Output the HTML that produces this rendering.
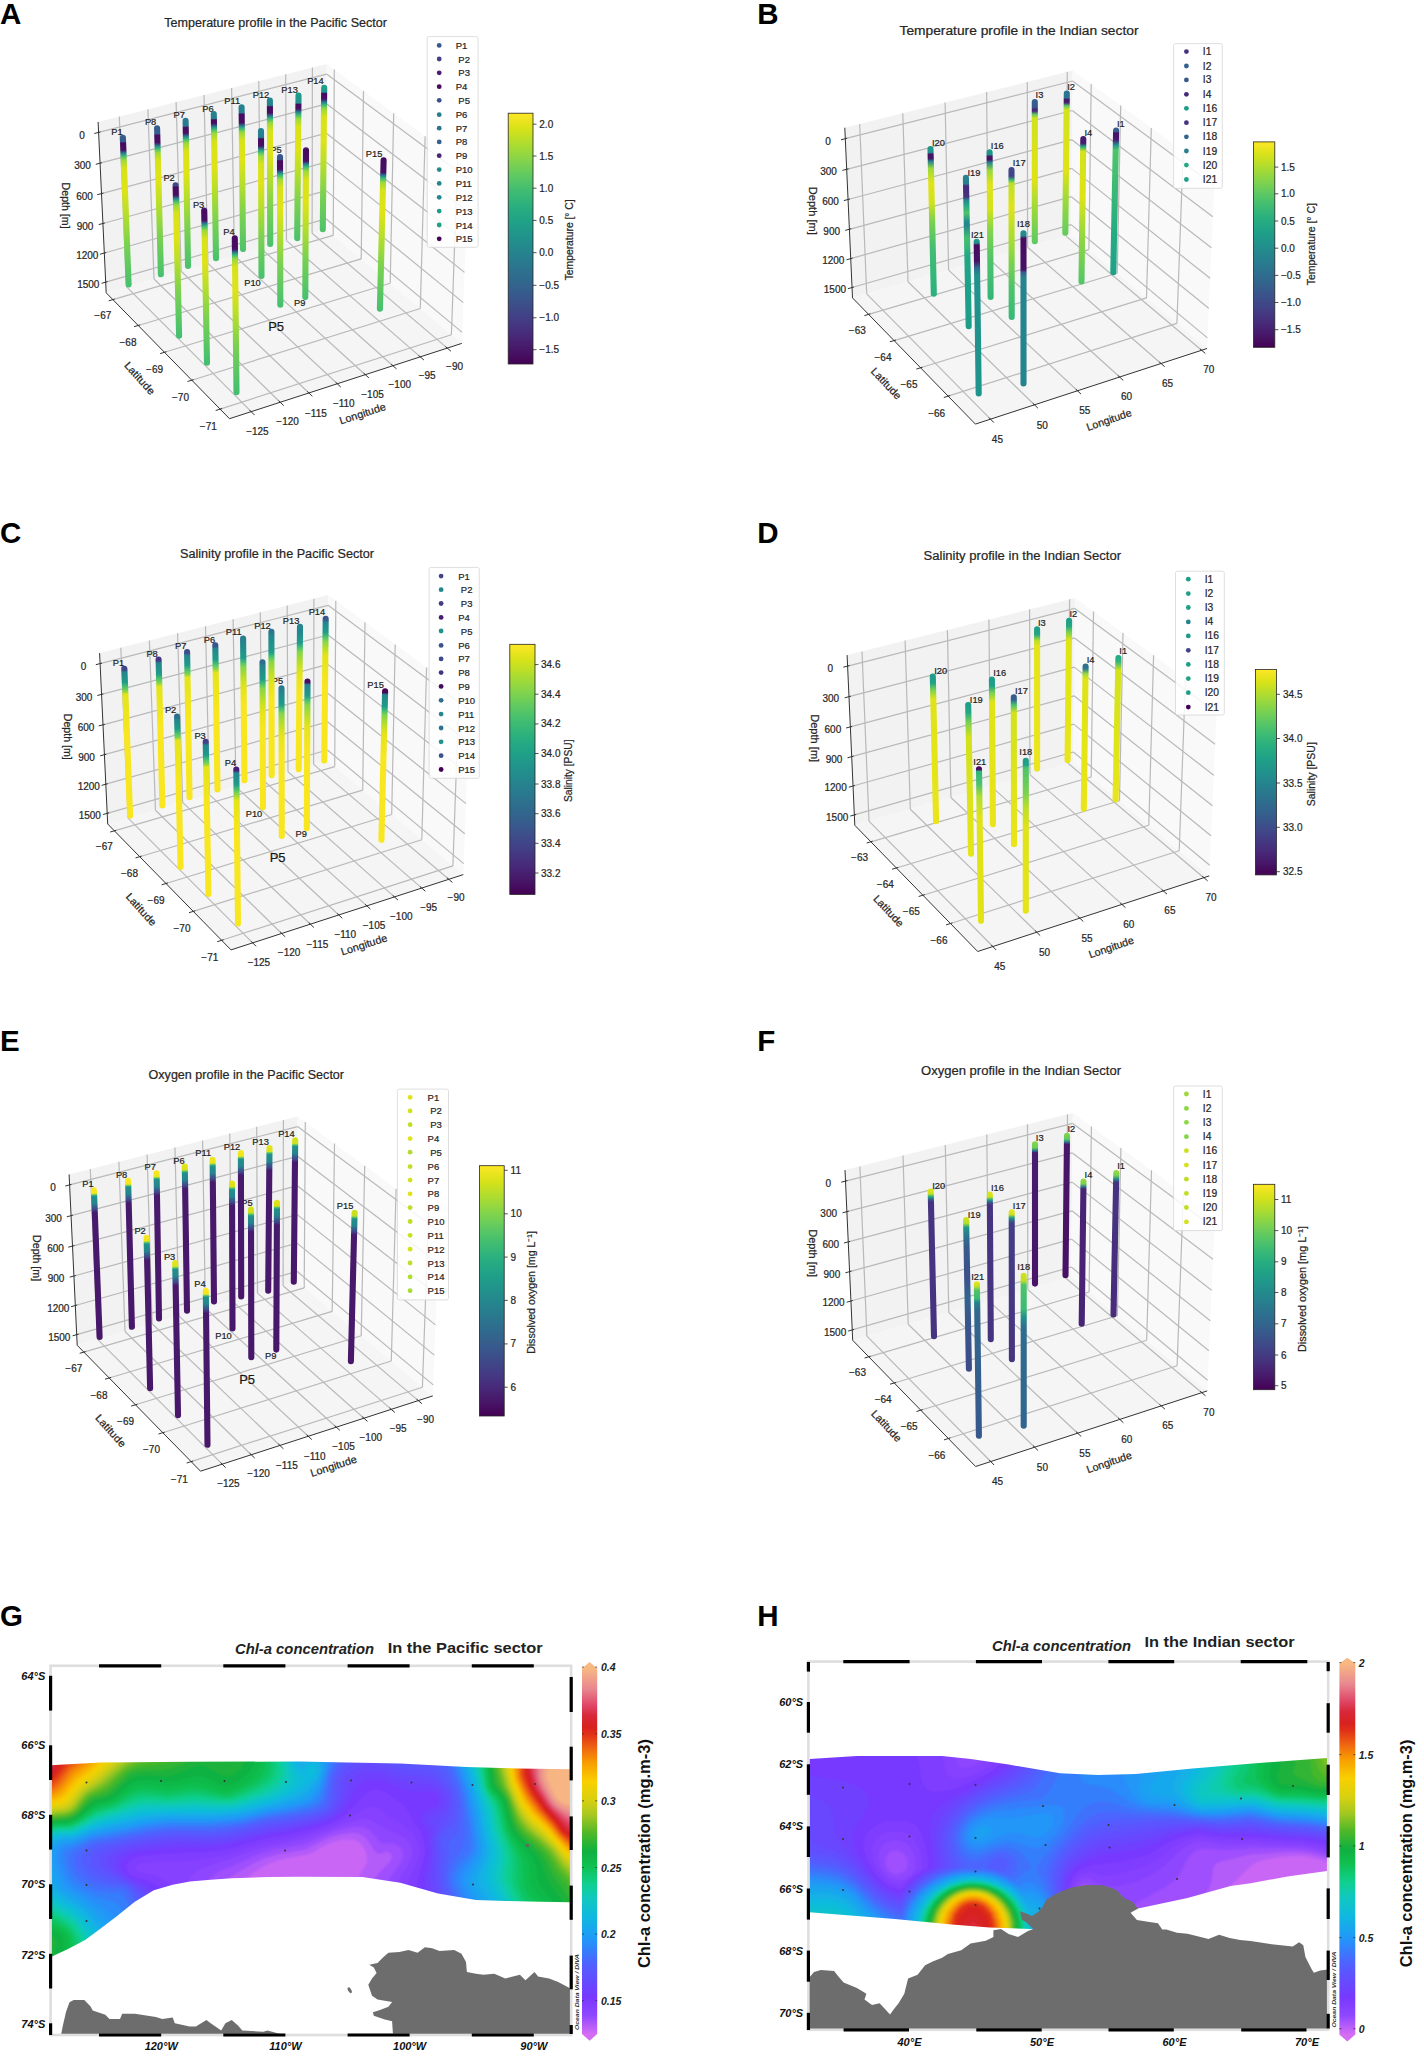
<!DOCTYPE html>
<html><head><meta charset="utf-8"><style>
html,body{margin:0;padding:0;background:#fff;}
svg{display:block;}
svg text{font-family:"Liberation Sans", sans-serif;}
svg g.t3 text{stroke:#262626;stroke-width:0.22px;}
</style></head><body>
<svg width="1424" height="2064" viewBox="0 0 1424 2064">
<rect width="1424" height="2064" fill="#fff"/>
<g id="A" class="t3">
<polygon points="106.2,292.8 325.9,229.2 326.7,63.9 98.1,121.9" fill="#f2f2f2" />
<polygon points="461.8,343.4 325.9,229.2 326.7,63.9 468.5,168.3" fill="#f9f9f9" />
<polygon points="229.5,418.7 461.8,343.4 325.9,229.2 106.2,292.8" fill="#f5f5f5" />
<g stroke-linecap="butt"><line x1="126.6" y1="286.9" x2="119.3" y2="116.5" stroke="#b9b9b9" stroke-width="1.2" /><line x1="251.2" y1="411.7" x2="126.6" y2="286.9" stroke="#b9b9b9" stroke-width="1.2" /><line x1="154.0" y1="279.0" x2="147.9" y2="109.2" stroke="#b9b9b9" stroke-width="1.2" /><line x1="280.2" y1="402.3" x2="154.0" y2="279.0" stroke="#b9b9b9" stroke-width="1.2" /><line x1="181.1" y1="271.2" x2="176.1" y2="102.1" stroke="#b9b9b9" stroke-width="1.2" /><line x1="308.9" y1="393.0" x2="181.1" y2="271.2" stroke="#b9b9b9" stroke-width="1.2" /><line x1="207.9" y1="263.4" x2="204.0" y2="95.0" stroke="#b9b9b9" stroke-width="1.2" /><line x1="337.3" y1="383.8" x2="207.9" y2="263.4" stroke="#b9b9b9" stroke-width="1.2" /><line x1="234.4" y1="255.7" x2="231.6" y2="88.0" stroke="#b9b9b9" stroke-width="1.2" /><line x1="365.3" y1="374.7" x2="234.4" y2="255.7" stroke="#b9b9b9" stroke-width="1.2" /><line x1="260.6" y1="248.1" x2="258.8" y2="81.1" stroke="#b9b9b9" stroke-width="1.2" /><line x1="392.9" y1="365.7" x2="260.6" y2="248.1" stroke="#b9b9b9" stroke-width="1.2" /><line x1="286.5" y1="240.6" x2="285.7" y2="74.3" stroke="#b9b9b9" stroke-width="1.2" /><line x1="420.3" y1="356.9" x2="286.5" y2="240.6" stroke="#b9b9b9" stroke-width="1.2" /><line x1="312.1" y1="233.2" x2="312.4" y2="67.5" stroke="#b9b9b9" stroke-width="1.2" /><line x1="447.3" y1="348.1" x2="312.1" y2="233.2" stroke="#b9b9b9" stroke-width="1.2" /><line x1="333.2" y1="235.4" x2="334.3" y2="69.5" stroke="#b9b9b9" stroke-width="1.2" /><line x1="112.8" y1="299.6" x2="333.2" y2="235.4" stroke="#b9b9b9" stroke-width="1.2" /><line x1="361.2" y1="258.9" x2="363.5" y2="91.0" stroke="#b9b9b9" stroke-width="1.2" /><line x1="138.2" y1="325.5" x2="361.2" y2="258.9" stroke="#b9b9b9" stroke-width="1.2" /><line x1="390.2" y1="283.3" x2="393.7" y2="113.2" stroke="#b9b9b9" stroke-width="1.2" /><line x1="164.5" y1="352.3" x2="390.2" y2="283.3" stroke="#b9b9b9" stroke-width="1.2" /><line x1="420.3" y1="308.5" x2="425.1" y2="136.3" stroke="#b9b9b9" stroke-width="1.2" /><line x1="191.8" y1="380.2" x2="420.3" y2="308.5" stroke="#b9b9b9" stroke-width="1.2" /><line x1="451.4" y1="334.7" x2="457.6" y2="160.3" stroke="#b9b9b9" stroke-width="1.2" /><line x1="220.1" y1="409.1" x2="451.4" y2="334.7" stroke="#b9b9b9" stroke-width="1.2" /><line x1="98.6" y1="132.4" x2="326.6" y2="74.1" stroke="#b9b9b9" stroke-width="1.2" /><line x1="468.0" y1="179.1" x2="326.6" y2="74.1" stroke="#b9b9b9" stroke-width="1.2" /><line x1="100.0" y1="163.2" x2="326.5" y2="103.8" stroke="#b9b9b9" stroke-width="1.2" /><line x1="466.8" y1="210.7" x2="326.5" y2="103.8" stroke="#b9b9b9" stroke-width="1.2" /><line x1="101.5" y1="193.6" x2="326.3" y2="133.2" stroke="#b9b9b9" stroke-width="1.2" /><line x1="465.6" y1="241.8" x2="326.3" y2="133.2" stroke="#b9b9b9" stroke-width="1.2" /><line x1="102.9" y1="223.5" x2="326.2" y2="162.1" stroke="#b9b9b9" stroke-width="1.2" /><line x1="464.5" y1="272.4" x2="326.2" y2="162.1" stroke="#b9b9b9" stroke-width="1.2" /><line x1="104.3" y1="253.0" x2="326.0" y2="190.6" stroke="#b9b9b9" stroke-width="1.2" /><line x1="463.3" y1="302.6" x2="326.0" y2="190.6" stroke="#b9b9b9" stroke-width="1.2" /><line x1="105.7" y1="282.1" x2="325.9" y2="218.8" stroke="#b9b9b9" stroke-width="1.2" /><line x1="462.2" y1="332.4" x2="325.9" y2="218.8" stroke="#b9b9b9" stroke-width="1.2" /></g>
<line x1="106.2" y1="292.8" x2="98.1" y2="121.9" stroke="#333333" stroke-width="1.0" /><line x1="229.5" y1="418.7" x2="106.2" y2="292.8" stroke="#333333" stroke-width="1.0" /><line x1="229.5" y1="418.7" x2="461.8" y2="343.4" stroke="#333333" stroke-width="1.0" /><line x1="94.3" y1="133.5" x2="100.5" y2="131.9" stroke="#333333" stroke-width="1.0" /><line x1="95.8" y1="164.3" x2="101.9" y2="162.7" stroke="#333333" stroke-width="1.0" /><line x1="97.2" y1="194.7" x2="103.4" y2="193.1" stroke="#333333" stroke-width="1.0" /><line x1="98.7" y1="224.6" x2="104.8" y2="223.0" stroke="#333333" stroke-width="1.0" /><line x1="100.1" y1="254.2" x2="106.2" y2="252.5" stroke="#333333" stroke-width="1.0" /><line x1="101.6" y1="283.3" x2="107.6" y2="281.6" stroke="#333333" stroke-width="1.0" /><line x1="108.7" y1="300.8" x2="114.7" y2="299.1" stroke="#333333" stroke-width="1.0" /><line x1="134.0" y1="326.7" x2="140.1" y2="324.9" stroke="#333333" stroke-width="1.0" /><line x1="160.2" y1="353.6" x2="166.4" y2="351.7" stroke="#333333" stroke-width="1.0" /><line x1="187.5" y1="381.5" x2="193.7" y2="379.6" stroke="#333333" stroke-width="1.0" /><line x1="215.7" y1="410.5" x2="222.1" y2="408.5" stroke="#333333" stroke-width="1.0" /><line x1="254.6" y1="415.1" x2="249.6" y2="410.1" stroke="#333333" stroke-width="1.0" /><line x1="283.7" y1="405.6" x2="278.6" y2="400.7" stroke="#333333" stroke-width="1.0" /><line x1="312.4" y1="396.3" x2="307.3" y2="391.4" stroke="#333333" stroke-width="1.0" /><line x1="340.8" y1="387.1" x2="335.6" y2="382.2" stroke="#333333" stroke-width="1.0" /><line x1="368.9" y1="377.9" x2="363.6" y2="373.1" stroke="#333333" stroke-width="1.0" /><line x1="396.5" y1="368.9" x2="391.2" y2="364.2" stroke="#333333" stroke-width="1.0" /><line x1="423.9" y1="360.0" x2="418.5" y2="355.4" stroke="#333333" stroke-width="1.0" /><line x1="450.9" y1="351.2" x2="445.5" y2="346.6" stroke="#333333" stroke-width="1.0" />
<g class="t3">
<text x="82.0" y="135.4" font-size="10" text-anchor="middle" dominant-baseline="central" fill="#262626" font-weight="normal" >0</text>
<text x="82.6" y="165.9" font-size="10" text-anchor="middle" dominant-baseline="central" fill="#262626" font-weight="normal" >300</text>
<text x="84.6" y="196.4" font-size="10" text-anchor="middle" dominant-baseline="central" fill="#262626" font-weight="normal" >600</text>
<text x="85.1" y="226.0" font-size="10" text-anchor="middle" dominant-baseline="central" fill="#262626" font-weight="normal" >900</text>
<text x="87.3" y="255.5" font-size="10" text-anchor="middle" dominant-baseline="central" fill="#262626" font-weight="normal" >1200</text>
<text x="88.3" y="284.6" font-size="10" text-anchor="middle" dominant-baseline="central" fill="#262626" font-weight="normal" >1500</text>
<text x="102.8" y="315.5" font-size="10" text-anchor="middle" dominant-baseline="central" fill="#262626" font-weight="normal" >−67</text>
<text x="128.0" y="342.7" font-size="10" text-anchor="middle" dominant-baseline="central" fill="#262626" font-weight="normal" >−68</text>
<text x="154.6" y="369.2" font-size="10" text-anchor="middle" dominant-baseline="central" fill="#262626" font-weight="normal" >−69</text>
<text x="180.5" y="397.0" font-size="10" text-anchor="middle" dominant-baseline="central" fill="#262626" font-weight="normal" >−70</text>
<text x="208.3" y="426.7" font-size="10" text-anchor="middle" dominant-baseline="central" fill="#262626" font-weight="normal" >−71</text>
<text x="257.4" y="431.1" font-size="10" text-anchor="middle" dominant-baseline="central" fill="#262626" font-weight="normal" >−125</text>
<text x="287.6" y="421.4" font-size="10" text-anchor="middle" dominant-baseline="central" fill="#262626" font-weight="normal" >−120</text>
<text x="315.9" y="413.2" font-size="10" text-anchor="middle" dominant-baseline="central" fill="#262626" font-weight="normal" >−115</text>
<text x="343.8" y="403.7" font-size="10" text-anchor="middle" dominant-baseline="central" fill="#262626" font-weight="normal" >−110</text>
<text x="372.5" y="394.0" font-size="10" text-anchor="middle" dominant-baseline="central" fill="#262626" font-weight="normal" >−105</text>
<text x="399.8" y="384.9" font-size="10" text-anchor="middle" dominant-baseline="central" fill="#262626" font-weight="normal" >−100</text>
<text x="427.2" y="375.8" font-size="10" text-anchor="middle" dominant-baseline="central" fill="#262626" font-weight="normal" >−95</text>
<text x="454.6" y="366.6" font-size="10" text-anchor="middle" dominant-baseline="central" fill="#262626" font-weight="normal" >−90</text>
<text x="66.0" y="205.6" font-size="10.5" text-anchor="middle" dominant-baseline="central" fill="#262626" font-weight="normal" transform="rotate(90 66.0 205.6)" textLength="46" lengthAdjust="spacingAndGlyphs" >Depth [m]</text>
<text x="140.0" y="378.0" font-size="10.5" text-anchor="middle" dominant-baseline="central" fill="#262626" font-weight="normal" transform="rotate(48 140.0 378.0)" textLength="40" lengthAdjust="spacingAndGlyphs" >Latitude</text>
<text x="362.4" y="413.2" font-size="10.5" text-anchor="middle" dominant-baseline="central" fill="#262626" font-weight="normal" transform="rotate(-18 362.4 413.2)" textLength="48" lengthAdjust="spacingAndGlyphs" >Longitude</text>
</g>
<g class="t3">
<text x="116.9" y="131.6" font-size="9.3" text-anchor="middle" dominant-baseline="central" fill="#1a1a1a" font-weight="normal" >P1</text>
<text x="150.6" y="122.4" font-size="9.3" text-anchor="middle" dominant-baseline="central" fill="#1a1a1a" font-weight="normal" >P8</text>
<text x="179.2" y="114.8" font-size="9.3" text-anchor="middle" dominant-baseline="central" fill="#1a1a1a" font-weight="normal" >P7</text>
<text x="207.9" y="108.9" font-size="9.3" text-anchor="middle" dominant-baseline="central" fill="#1a1a1a" font-weight="normal" >P6</text>
<text x="232.3" y="100.5" font-size="9.3" text-anchor="middle" dominant-baseline="central" fill="#1a1a1a" font-weight="normal" >P11</text>
<text x="261.0" y="94.6" font-size="9.3" text-anchor="middle" dominant-baseline="central" fill="#1a1a1a" font-weight="normal" >P12</text>
<text x="289.6" y="89.5" font-size="9.3" text-anchor="middle" dominant-baseline="central" fill="#1a1a1a" font-weight="normal" >P13</text>
<text x="315.4" y="81.0" font-size="9.3" text-anchor="middle" dominant-baseline="central" fill="#1a1a1a" font-weight="normal" >P14</text>
<text x="252.5" y="283.0" font-size="9.3" text-anchor="middle" dominant-baseline="central" fill="#1a1a1a" font-weight="normal" >P10</text>
<text x="276.0" y="150.0" font-size="9.3" text-anchor="middle" dominant-baseline="central" fill="#1a1a1a" font-weight="normal" >P5</text>
<text x="299.7" y="303.2" font-size="9.3" text-anchor="middle" dominant-baseline="central" fill="#1a1a1a" font-weight="normal" >P9</text>
<text x="374.1" y="153.8" font-size="9.3" text-anchor="middle" dominant-baseline="central" fill="#1a1a1a" font-weight="normal" >P15</text>
<text x="169.1" y="178.4" font-size="9.3" text-anchor="middle" dominant-baseline="central" fill="#1a1a1a" font-weight="normal" >P2</text>
<text x="198.6" y="204.6" font-size="9.3" text-anchor="middle" dominant-baseline="central" fill="#1a1a1a" font-weight="normal" >P3</text>
<text x="229.0" y="231.5" font-size="9.3" text-anchor="middle" dominant-baseline="central" fill="#1a1a1a" font-weight="normal" >P4</text>
<text x="276.1" y="326.7" font-size="13" text-anchor="middle" dominant-baseline="central" fill="#111" font-weight="normal" >P5</text>
</g>
<defs><linearGradient id="Ab0" gradientUnits="userSpaceOnUse" x1="122.8" y1="135.0" x2="128.7" y2="287.1"><stop offset="0.000" stop-color="#355f8d"/><stop offset="0.043" stop-color="#365d8d"/><stop offset="0.053" stop-color="#460b5e"/><stop offset="0.099" stop-color="#471063"/><stop offset="0.118" stop-color="#2a788e"/><stop offset="0.138" stop-color="#3bbb75"/><stop offset="0.164" stop-color="#9bd93c"/><stop offset="0.217" stop-color="#d8e219"/><stop offset="0.361" stop-color="#dfe318"/><stop offset="0.526" stop-color="#b5de2b"/><stop offset="0.723" stop-color="#7ad151"/><stop offset="0.985" stop-color="#48c16e"/><stop offset="1.000" stop-color="#46c06f"/></linearGradient><linearGradient id="Ab1" gradientUnits="userSpaceOnUse" x1="157.0" y1="125.7" x2="161.0" y2="277.0"><stop offset="0.000" stop-color="#355f8d"/><stop offset="0.053" stop-color="#365d8d"/><stop offset="0.063" stop-color="#460b5e"/><stop offset="0.112" stop-color="#471063"/><stop offset="0.132" stop-color="#2a788e"/><stop offset="0.152" stop-color="#3bbb75"/><stop offset="0.178" stop-color="#9bd93c"/><stop offset="0.231" stop-color="#d8e219"/><stop offset="0.363" stop-color="#dfe318"/><stop offset="0.529" stop-color="#b5de2b"/><stop offset="0.727" stop-color="#7ad151"/><stop offset="0.991" stop-color="#48c16e"/><stop offset="1.000" stop-color="#48c16e"/></linearGradient><linearGradient id="Ab2" gradientUnits="userSpaceOnUse" x1="185.6" y1="118.1" x2="188.0" y2="268.6"><stop offset="0.000" stop-color="#287d8e"/><stop offset="0.053" stop-color="#2a778e"/><stop offset="0.063" stop-color="#460b5e"/><stop offset="0.100" stop-color="#471063"/><stop offset="0.120" stop-color="#2a788e"/><stop offset="0.140" stop-color="#3bbb75"/><stop offset="0.166" stop-color="#9bd93c"/><stop offset="0.219" stop-color="#d8e219"/><stop offset="0.365" stop-color="#dfe318"/><stop offset="0.531" stop-color="#b5de2b"/><stop offset="0.731" stop-color="#7ad151"/><stop offset="0.997" stop-color="#48c16e"/><stop offset="1.000" stop-color="#48c16e"/></linearGradient><linearGradient id="Ab3" gradientUnits="userSpaceOnUse" x1="213.8" y1="111.4" x2="216.0" y2="261.0"><stop offset="0.000" stop-color="#25848e"/><stop offset="0.047" stop-color="#277e8e"/><stop offset="0.057" stop-color="#460b5e"/><stop offset="0.080" stop-color="#471063"/><stop offset="0.100" stop-color="#2a788e"/><stop offset="0.120" stop-color="#3bbb75"/><stop offset="0.147" stop-color="#9bd93c"/><stop offset="0.201" stop-color="#d8e219"/><stop offset="0.368" stop-color="#dfe318"/><stop offset="0.535" stop-color="#b5de2b"/><stop offset="0.735" stop-color="#7ad151"/><stop offset="1.000" stop-color="#48c16e"/></linearGradient><linearGradient id="Ab4" gradientUnits="userSpaceOnUse" x1="241.6" y1="104.7" x2="243.0" y2="251.7"><stop offset="0.000" stop-color="#25848e"/><stop offset="0.054" stop-color="#277e8e"/><stop offset="0.065" stop-color="#460b5e"/><stop offset="0.122" stop-color="#471063"/><stop offset="0.143" stop-color="#2a788e"/><stop offset="0.163" stop-color="#3bbb75"/><stop offset="0.190" stop-color="#9bd93c"/><stop offset="0.245" stop-color="#d8e219"/><stop offset="0.374" stop-color="#dfe318"/><stop offset="0.544" stop-color="#b5de2b"/><stop offset="0.748" stop-color="#7ad151"/><stop offset="1.000" stop-color="#4cc26c"/></linearGradient><linearGradient id="Ab5" gradientUnits="userSpaceOnUse" x1="269.9" y1="97.9" x2="270.2" y2="246.7"><stop offset="0.000" stop-color="#23898e"/><stop offset="0.050" stop-color="#26828e"/><stop offset="0.060" stop-color="#460b5e"/><stop offset="0.101" stop-color="#471063"/><stop offset="0.121" stop-color="#2a788e"/><stop offset="0.141" stop-color="#3bbb75"/><stop offset="0.168" stop-color="#9bd93c"/><stop offset="0.222" stop-color="#d8e219"/><stop offset="0.370" stop-color="#dfe318"/><stop offset="0.538" stop-color="#b5de2b"/><stop offset="0.739" stop-color="#7ad151"/><stop offset="1.000" stop-color="#4ac16d"/></linearGradient><linearGradient id="Ab6" gradientUnits="userSpaceOnUse" x1="298.5" y1="92.9" x2="297.2" y2="240.8"><stop offset="0.000" stop-color="#1e9c89"/><stop offset="0.068" stop-color="#20938c"/><stop offset="0.078" stop-color="#460b5e"/><stop offset="0.108" stop-color="#471063"/><stop offset="0.128" stop-color="#2a788e"/><stop offset="0.149" stop-color="#3bbb75"/><stop offset="0.176" stop-color="#9bd93c"/><stop offset="0.230" stop-color="#d8e219"/><stop offset="0.372" stop-color="#dfe318"/><stop offset="0.541" stop-color="#b5de2b"/><stop offset="0.744" stop-color="#7ad151"/><stop offset="1.000" stop-color="#4ac16d"/></linearGradient><linearGradient id="Ab7" gradientUnits="userSpaceOnUse" x1="324.2" y1="85.0" x2="322.8" y2="232.0"><stop offset="0.000" stop-color="#1fa188"/><stop offset="0.048" stop-color="#1f988b"/><stop offset="0.058" stop-color="#460b5e"/><stop offset="0.095" stop-color="#471063"/><stop offset="0.116" stop-color="#2a788e"/><stop offset="0.136" stop-color="#3bbb75"/><stop offset="0.163" stop-color="#9bd93c"/><stop offset="0.218" stop-color="#d8e219"/><stop offset="0.374" stop-color="#dfe318"/><stop offset="0.544" stop-color="#b5de2b"/><stop offset="0.748" stop-color="#7ad151"/><stop offset="1.000" stop-color="#4cc26c"/></linearGradient><linearGradient id="Ab8" gradientUnits="userSpaceOnUse" x1="261.0" y1="128.3" x2="261.5" y2="278.7"><stop offset="0.000" stop-color="#25848e"/><stop offset="0.060" stop-color="#277e8e"/><stop offset="0.070" stop-color="#460b5e"/><stop offset="0.116" stop-color="#471063"/><stop offset="0.136" stop-color="#2a788e"/><stop offset="0.156" stop-color="#3bbb75"/><stop offset="0.183" stop-color="#9bd93c"/><stop offset="0.236" stop-color="#d8e219"/><stop offset="0.366" stop-color="#dfe318"/><stop offset="0.532" stop-color="#b5de2b"/><stop offset="0.731" stop-color="#7ad151"/><stop offset="0.997" stop-color="#48c16e"/><stop offset="1.000" stop-color="#48c16e"/></linearGradient><linearGradient id="Ab9" gradientUnits="userSpaceOnUse" x1="280.0" y1="154.4" x2="280.3" y2="307.4"><stop offset="0.000" stop-color="#38588c"/><stop offset="0.033" stop-color="#39558c"/><stop offset="0.042" stop-color="#460b5e"/><stop offset="0.098" stop-color="#471063"/><stop offset="0.118" stop-color="#2a788e"/><stop offset="0.137" stop-color="#3bbb75"/><stop offset="0.163" stop-color="#9bd93c"/><stop offset="0.216" stop-color="#d8e219"/><stop offset="0.359" stop-color="#dfe318"/><stop offset="0.523" stop-color="#b5de2b"/><stop offset="0.719" stop-color="#7ad151"/><stop offset="0.980" stop-color="#48c16e"/><stop offset="1.000" stop-color="#46c06f"/></linearGradient><linearGradient id="Ab10" gradientUnits="userSpaceOnUse" x1="306.0" y1="147.6" x2="305.3" y2="299.8"><stop offset="0.000" stop-color="#481769"/><stop offset="0.003" stop-color="#481b6d"/><stop offset="0.013" stop-color="#460b5e"/><stop offset="0.089" stop-color="#471063"/><stop offset="0.108" stop-color="#2a788e"/><stop offset="0.128" stop-color="#3bbb75"/><stop offset="0.154" stop-color="#9bd93c"/><stop offset="0.207" stop-color="#d8e219"/><stop offset="0.361" stop-color="#dfe318"/><stop offset="0.526" stop-color="#b5de2b"/><stop offset="0.723" stop-color="#7ad151"/><stop offset="0.986" stop-color="#48c16e"/><stop offset="1.000" stop-color="#46c06f"/></linearGradient><linearGradient id="Ab11" gradientUnits="userSpaceOnUse" x1="383.7" y1="157.5" x2="379.8" y2="311.3"><stop offset="0.000" stop-color="#440154"/><stop offset="0.003" stop-color="#46085c"/><stop offset="0.013" stop-color="#460b5e"/><stop offset="0.097" stop-color="#471063"/><stop offset="0.117" stop-color="#2a788e"/><stop offset="0.136" stop-color="#3bbb75"/><stop offset="0.162" stop-color="#9bd93c"/><stop offset="0.214" stop-color="#d8e219"/><stop offset="0.357" stop-color="#dfe318"/><stop offset="0.520" stop-color="#b5de2b"/><stop offset="0.715" stop-color="#7ad151"/><stop offset="0.975" stop-color="#48c16e"/><stop offset="1.000" stop-color="#46c06f"/></linearGradient><linearGradient id="Ab12" gradientUnits="userSpaceOnUse" x1="175.5" y1="182.6" x2="179.2" y2="338.5"><stop offset="0.000" stop-color="#3e4989"/><stop offset="0.019" stop-color="#3f4889"/><stop offset="0.029" stop-color="#460b5e"/><stop offset="0.081" stop-color="#471063"/><stop offset="0.100" stop-color="#2a788e"/><stop offset="0.119" stop-color="#3bbb75"/><stop offset="0.145" stop-color="#9bd93c"/><stop offset="0.196" stop-color="#d8e219"/><stop offset="0.353" stop-color="#dfe318"/><stop offset="0.513" stop-color="#b5de2b"/><stop offset="0.705" stop-color="#7ad151"/><stop offset="0.962" stop-color="#48c16e"/><stop offset="1.000" stop-color="#44bf70"/></linearGradient><linearGradient id="Ab13" gradientUnits="userSpaceOnUse" x1="204.2" y1="207.9" x2="207.0" y2="365.5"><stop offset="0.000" stop-color="#481769"/><stop offset="0.003" stop-color="#481b6d"/><stop offset="0.013" stop-color="#460b5e"/><stop offset="0.080" stop-color="#471063"/><stop offset="0.099" stop-color="#2a788e"/><stop offset="0.118" stop-color="#3bbb75"/><stop offset="0.143" stop-color="#9bd93c"/><stop offset="0.194" stop-color="#d8e219"/><stop offset="0.349" stop-color="#dfe318"/><stop offset="0.508" stop-color="#b5de2b"/><stop offset="0.698" stop-color="#7ad151"/><stop offset="0.952" stop-color="#48c16e"/><stop offset="1.000" stop-color="#42be71"/></linearGradient><linearGradient id="Ab14" gradientUnits="userSpaceOnUse" x1="234.8" y1="235.7" x2="236.5" y2="395.0"><stop offset="0.000" stop-color="#46085c"/><stop offset="0.003" stop-color="#470e61"/><stop offset="0.013" stop-color="#460b5e"/><stop offset="0.085" stop-color="#471063"/><stop offset="0.104" stop-color="#2a788e"/><stop offset="0.122" stop-color="#3bbb75"/><stop offset="0.148" stop-color="#9bd93c"/><stop offset="0.198" stop-color="#d8e219"/><stop offset="0.345" stop-color="#dfe318"/><stop offset="0.502" stop-color="#b5de2b"/><stop offset="0.690" stop-color="#7ad151"/><stop offset="0.942" stop-color="#48c16e"/><stop offset="1.000" stop-color="#42be71"/></linearGradient></defs><line x1="122.9" y1="137.7" x2="128.6" y2="284.4" stroke="url(#Ab0)" stroke-width="6.1" stroke-linecap="round"/><line x1="157.1" y1="128.4" x2="160.9" y2="274.3" stroke="url(#Ab1)" stroke-width="6.1" stroke-linecap="round"/><line x1="185.6" y1="120.8" x2="188.0" y2="265.9" stroke="url(#Ab2)" stroke-width="6.1" stroke-linecap="round"/><line x1="213.8" y1="114.1" x2="216.0" y2="258.3" stroke="url(#Ab3)" stroke-width="6.1" stroke-linecap="round"/><line x1="241.6" y1="107.4" x2="243.0" y2="249.0" stroke="url(#Ab4)" stroke-width="6.1" stroke-linecap="round"/><line x1="269.9" y1="100.6" x2="270.2" y2="244.0" stroke="url(#Ab5)" stroke-width="6.1" stroke-linecap="round"/><line x1="298.5" y1="95.6" x2="297.2" y2="238.1" stroke="url(#Ab6)" stroke-width="6.1" stroke-linecap="round"/><line x1="324.2" y1="87.7" x2="322.8" y2="229.3" stroke="url(#Ab7)" stroke-width="6.1" stroke-linecap="round"/><line x1="261.0" y1="131.0" x2="261.5" y2="276.0" stroke="url(#Ab8)" stroke-width="6.1" stroke-linecap="round"/><line x1="280.0" y1="157.1" x2="280.3" y2="304.7" stroke="url(#Ab9)" stroke-width="6.1" stroke-linecap="round"/><line x1="306.0" y1="150.3" x2="305.3" y2="297.1" stroke="url(#Ab10)" stroke-width="6.1" stroke-linecap="round"/><line x1="383.6" y1="160.2" x2="379.9" y2="308.6" stroke="url(#Ab11)" stroke-width="6.1" stroke-linecap="round"/><line x1="175.6" y1="185.3" x2="179.1" y2="335.8" stroke="url(#Ab12)" stroke-width="6.1" stroke-linecap="round"/><line x1="204.2" y1="210.6" x2="207.0" y2="362.8" stroke="url(#Ab13)" stroke-width="6.1" stroke-linecap="round"/><line x1="234.8" y1="238.4" x2="236.5" y2="392.3" stroke="url(#Ab14)" stroke-width="6.1" stroke-linecap="round"/>
<rect x="427.2" y="36.6" width="50.9" height="210.7" rx="2" fill="#ffffff" fill-opacity="0.85" stroke="#d6d6d6" stroke-width="0.8"/>
<circle cx="439.2" cy="45.4" r="2.4" fill="#375a8c"/>
<text x="455.7" y="45.4" font-size="9.5" text-anchor="start" dominant-baseline="central" fill="#262626" font-weight="normal" xml:space="preserve">P1</text>
<circle cx="439.2" cy="59.0" r="2.4" fill="#433e85"/>
<text x="455.7" y="59.0" font-size="9.5" text-anchor="start" dominant-baseline="central" fill="#262626" font-weight="normal" xml:space="preserve"> P2</text>
<circle cx="439.2" cy="72.8" r="2.4" fill="#481d6f"/>
<text x="455.7" y="72.8" font-size="9.5" text-anchor="start" dominant-baseline="central" fill="#262626" font-weight="normal" xml:space="preserve"> P3</text>
<circle cx="439.2" cy="86.7" r="2.4" fill="#46085c"/>
<text x="455.7" y="86.7" font-size="9.5" text-anchor="start" dominant-baseline="central" fill="#262626" font-weight="normal" xml:space="preserve">P4</text>
<circle cx="439.2" cy="100.3" r="2.4" fill="#3b528b"/>
<text x="455.7" y="100.3" font-size="9.5" text-anchor="start" dominant-baseline="central" fill="#262626" font-weight="normal" xml:space="preserve"> P5</text>
<circle cx="439.2" cy="114.7" r="2.4" fill="#287d8e"/>
<text x="455.7" y="114.7" font-size="9.5" text-anchor="start" dominant-baseline="central" fill="#262626" font-weight="normal" xml:space="preserve">P6</text>
<circle cx="439.2" cy="128.2" r="2.4" fill="#2c738e"/>
<text x="455.7" y="128.2" font-size="9.5" text-anchor="start" dominant-baseline="central" fill="#262626" font-weight="normal" xml:space="preserve">P7</text>
<circle cx="439.2" cy="141.9" r="2.4" fill="#355f8d"/>
<text x="455.7" y="141.9" font-size="9.5" text-anchor="start" dominant-baseline="central" fill="#262626" font-weight="normal" xml:space="preserve">P8</text>
<circle cx="439.2" cy="155.7" r="2.4" fill="#482475"/>
<text x="455.7" y="155.7" font-size="9.5" text-anchor="start" dominant-baseline="central" fill="#262626" font-weight="normal" xml:space="preserve">P9</text>
<circle cx="439.2" cy="169.6" r="2.4" fill="#228b8d"/>
<text x="455.7" y="169.6" font-size="9.5" text-anchor="start" dominant-baseline="central" fill="#262626" font-weight="normal" xml:space="preserve">P10</text>
<circle cx="439.2" cy="183.4" r="2.4" fill="#25848e"/>
<text x="455.7" y="183.4" font-size="9.5" text-anchor="start" dominant-baseline="central" fill="#262626" font-weight="normal" xml:space="preserve">P11</text>
<circle cx="439.2" cy="197.3" r="2.4" fill="#23898e"/>
<text x="455.7" y="197.3" font-size="9.5" text-anchor="start" dominant-baseline="central" fill="#262626" font-weight="normal" xml:space="preserve">P12</text>
<circle cx="439.2" cy="211.1" r="2.4" fill="#1e9c89"/>
<text x="455.7" y="211.1" font-size="9.5" text-anchor="start" dominant-baseline="central" fill="#262626" font-weight="normal" xml:space="preserve">P13</text>
<circle cx="439.2" cy="225.0" r="2.4" fill="#1fa188"/>
<text x="455.7" y="225.0" font-size="9.5" text-anchor="start" dominant-baseline="central" fill="#262626" font-weight="normal" xml:space="preserve">P14</text>
<circle cx="439.2" cy="238.8" r="2.4" fill="#440154"/>
<text x="455.7" y="238.8" font-size="9.5" text-anchor="start" dominant-baseline="central" fill="#262626" font-weight="normal" xml:space="preserve">P15</text>
<text x="275.6" y="23.0" font-size="12.5" text-anchor="middle" dominant-baseline="central" fill="#262626" font-weight="normal" textLength="222.7" lengthAdjust="spacingAndGlyphs" >Temperature profile in the Pacific Sector</text>
<defs><linearGradient id="Acb" x1="0" y1="1" x2="0" y2="0"><stop offset="0.000" stop-color="#440154"/><stop offset="0.062" stop-color="#48186a"/><stop offset="0.125" stop-color="#472d7b"/><stop offset="0.188" stop-color="#424086"/><stop offset="0.250" stop-color="#3b528b"/><stop offset="0.312" stop-color="#33638d"/><stop offset="0.375" stop-color="#2c728e"/><stop offset="0.438" stop-color="#26828e"/><stop offset="0.500" stop-color="#21918c"/><stop offset="0.562" stop-color="#1fa088"/><stop offset="0.625" stop-color="#28ae80"/><stop offset="0.688" stop-color="#3fbc73"/><stop offset="0.750" stop-color="#5ec962"/><stop offset="0.812" stop-color="#84d44b"/><stop offset="0.875" stop-color="#addc30"/><stop offset="0.938" stop-color="#d8e219"/><stop offset="1.000" stop-color="#fde725"/></linearGradient></defs>
<rect x="508.2" y="113.2" width="24.8" height="250.8" fill="url(#Acb)" stroke="#262626" stroke-width="0.8"/>
<line x1="533.0" y1="124.2" x2="536.5" y2="124.2" stroke="#262626" stroke-width="0.8" />
<text x="539.3" y="124.2" font-size="10" text-anchor="start" dominant-baseline="central" fill="#262626" font-weight="normal" >2.0</text>
<line x1="533.0" y1="156.0" x2="536.5" y2="156.0" stroke="#262626" stroke-width="0.8" />
<text x="539.3" y="156.0" font-size="10" text-anchor="start" dominant-baseline="central" fill="#262626" font-weight="normal" >1.5</text>
<line x1="533.0" y1="188.2" x2="536.5" y2="188.2" stroke="#262626" stroke-width="0.8" />
<text x="539.3" y="188.2" font-size="10" text-anchor="start" dominant-baseline="central" fill="#262626" font-weight="normal" >1.0</text>
<line x1="533.0" y1="220.4" x2="536.5" y2="220.4" stroke="#262626" stroke-width="0.8" />
<text x="539.3" y="220.4" font-size="10" text-anchor="start" dominant-baseline="central" fill="#262626" font-weight="normal" >0.5</text>
<line x1="533.0" y1="252.7" x2="536.5" y2="252.7" stroke="#262626" stroke-width="0.8" />
<text x="539.3" y="252.7" font-size="10" text-anchor="start" dominant-baseline="central" fill="#262626" font-weight="normal" >0.0</text>
<line x1="533.0" y1="285.3" x2="536.5" y2="285.3" stroke="#262626" stroke-width="0.8" />
<text x="539.3" y="285.3" font-size="10" text-anchor="start" dominant-baseline="central" fill="#262626" font-weight="normal" >−0.5</text>
<line x1="533.0" y1="317.8" x2="536.5" y2="317.8" stroke="#262626" stroke-width="0.8" />
<text x="539.3" y="317.8" font-size="10" text-anchor="start" dominant-baseline="central" fill="#262626" font-weight="normal" >−1.0</text>
<line x1="533.0" y1="349.7" x2="536.5" y2="349.7" stroke="#262626" stroke-width="0.8" />
<text x="539.3" y="349.7" font-size="10" text-anchor="start" dominant-baseline="central" fill="#262626" font-weight="normal" >−1.5</text>
<text x="569.0" y="239.8" font-size="10.5" text-anchor="middle" dominant-baseline="central" fill="#262626" font-weight="normal" transform="rotate(-90 569.0 239.8)" textLength="81" lengthAdjust="spacingAndGlyphs" >Temperature [° C]</text>
</g><g id="C" class="t3">
<polygon points="107.7,824.0 327.4,760.4 328.2,595.1 99.6,653.1" fill="#f2f2f2" />
<polygon points="463.3,874.6 327.4,760.4 328.2,595.1 470.0,699.5" fill="#f9f9f9" />
<polygon points="231.0,949.9 463.3,874.6 327.4,760.4 107.7,824.0" fill="#f5f5f5" />
<g stroke-linecap="butt"><line x1="128.1" y1="818.1" x2="120.8" y2="647.7" stroke="#b9b9b9" stroke-width="1.2" /><line x1="252.7" y1="942.9" x2="128.1" y2="818.1" stroke="#b9b9b9" stroke-width="1.2" /><line x1="155.5" y1="810.2" x2="149.4" y2="640.4" stroke="#b9b9b9" stroke-width="1.2" /><line x1="281.7" y1="933.5" x2="155.5" y2="810.2" stroke="#b9b9b9" stroke-width="1.2" /><line x1="182.6" y1="802.4" x2="177.6" y2="633.3" stroke="#b9b9b9" stroke-width="1.2" /><line x1="310.4" y1="924.2" x2="182.6" y2="802.4" stroke="#b9b9b9" stroke-width="1.2" /><line x1="209.4" y1="794.6" x2="205.5" y2="626.2" stroke="#b9b9b9" stroke-width="1.2" /><line x1="338.8" y1="915.0" x2="209.4" y2="794.6" stroke="#b9b9b9" stroke-width="1.2" /><line x1="235.9" y1="786.9" x2="233.1" y2="619.2" stroke="#b9b9b9" stroke-width="1.2" /><line x1="366.8" y1="905.9" x2="235.9" y2="786.9" stroke="#b9b9b9" stroke-width="1.2" /><line x1="262.1" y1="779.3" x2="260.3" y2="612.3" stroke="#b9b9b9" stroke-width="1.2" /><line x1="394.4" y1="896.9" x2="262.1" y2="779.3" stroke="#b9b9b9" stroke-width="1.2" /><line x1="288.0" y1="771.8" x2="287.2" y2="605.5" stroke="#b9b9b9" stroke-width="1.2" /><line x1="421.8" y1="888.1" x2="288.0" y2="771.8" stroke="#b9b9b9" stroke-width="1.2" /><line x1="313.6" y1="764.4" x2="313.9" y2="598.7" stroke="#b9b9b9" stroke-width="1.2" /><line x1="448.8" y1="879.3" x2="313.6" y2="764.4" stroke="#b9b9b9" stroke-width="1.2" /><line x1="334.7" y1="766.6" x2="335.8" y2="600.7" stroke="#b9b9b9" stroke-width="1.2" /><line x1="114.3" y1="830.8" x2="334.7" y2="766.6" stroke="#b9b9b9" stroke-width="1.2" /><line x1="362.7" y1="790.1" x2="365.0" y2="622.2" stroke="#b9b9b9" stroke-width="1.2" /><line x1="139.7" y1="856.7" x2="362.7" y2="790.1" stroke="#b9b9b9" stroke-width="1.2" /><line x1="391.7" y1="814.5" x2="395.2" y2="644.4" stroke="#b9b9b9" stroke-width="1.2" /><line x1="166.0" y1="883.5" x2="391.7" y2="814.5" stroke="#b9b9b9" stroke-width="1.2" /><line x1="421.8" y1="839.7" x2="426.6" y2="667.5" stroke="#b9b9b9" stroke-width="1.2" /><line x1="193.3" y1="911.4" x2="421.8" y2="839.7" stroke="#b9b9b9" stroke-width="1.2" /><line x1="452.9" y1="865.9" x2="459.1" y2="691.5" stroke="#b9b9b9" stroke-width="1.2" /><line x1="221.6" y1="940.3" x2="452.9" y2="865.9" stroke="#b9b9b9" stroke-width="1.2" /><line x1="100.1" y1="663.6" x2="328.1" y2="605.3" stroke="#b9b9b9" stroke-width="1.2" /><line x1="469.5" y1="710.3" x2="328.1" y2="605.3" stroke="#b9b9b9" stroke-width="1.2" /><line x1="101.5" y1="694.4" x2="328.0" y2="635.0" stroke="#b9b9b9" stroke-width="1.2" /><line x1="468.3" y1="741.9" x2="328.0" y2="635.0" stroke="#b9b9b9" stroke-width="1.2" /><line x1="103.0" y1="724.8" x2="327.8" y2="664.4" stroke="#b9b9b9" stroke-width="1.2" /><line x1="467.1" y1="773.0" x2="327.8" y2="664.4" stroke="#b9b9b9" stroke-width="1.2" /><line x1="104.4" y1="754.7" x2="327.7" y2="693.3" stroke="#b9b9b9" stroke-width="1.2" /><line x1="466.0" y1="803.6" x2="327.7" y2="693.3" stroke="#b9b9b9" stroke-width="1.2" /><line x1="105.8" y1="784.2" x2="327.5" y2="721.8" stroke="#b9b9b9" stroke-width="1.2" /><line x1="464.8" y1="833.8" x2="327.5" y2="721.8" stroke="#b9b9b9" stroke-width="1.2" /><line x1="107.2" y1="813.3" x2="327.4" y2="750.0" stroke="#b9b9b9" stroke-width="1.2" /><line x1="463.7" y1="863.6" x2="327.4" y2="750.0" stroke="#b9b9b9" stroke-width="1.2" /></g>
<line x1="107.7" y1="824.0" x2="99.6" y2="653.1" stroke="#333333" stroke-width="1.0" /><line x1="231.0" y1="949.9" x2="107.7" y2="824.0" stroke="#333333" stroke-width="1.0" /><line x1="231.0" y1="949.9" x2="463.3" y2="874.6" stroke="#333333" stroke-width="1.0" /><line x1="95.8" y1="664.7" x2="102.0" y2="663.1" stroke="#333333" stroke-width="1.0" /><line x1="97.3" y1="695.5" x2="103.4" y2="693.9" stroke="#333333" stroke-width="1.0" /><line x1="98.7" y1="725.9" x2="104.9" y2="724.3" stroke="#333333" stroke-width="1.0" /><line x1="100.2" y1="755.8" x2="106.3" y2="754.2" stroke="#333333" stroke-width="1.0" /><line x1="101.6" y1="785.4" x2="107.7" y2="783.7" stroke="#333333" stroke-width="1.0" /><line x1="103.1" y1="814.5" x2="109.1" y2="812.8" stroke="#333333" stroke-width="1.0" /><line x1="110.2" y1="832.0" x2="116.2" y2="830.3" stroke="#333333" stroke-width="1.0" /><line x1="135.5" y1="857.9" x2="141.6" y2="856.1" stroke="#333333" stroke-width="1.0" /><line x1="161.7" y1="884.8" x2="167.9" y2="882.9" stroke="#333333" stroke-width="1.0" /><line x1="189.0" y1="912.7" x2="195.2" y2="910.8" stroke="#333333" stroke-width="1.0" /><line x1="217.2" y1="941.7" x2="223.6" y2="939.7" stroke="#333333" stroke-width="1.0" /><line x1="256.1" y1="946.3" x2="251.1" y2="941.3" stroke="#333333" stroke-width="1.0" /><line x1="285.2" y1="936.8" x2="280.1" y2="931.9" stroke="#333333" stroke-width="1.0" /><line x1="313.9" y1="927.5" x2="308.8" y2="922.6" stroke="#333333" stroke-width="1.0" /><line x1="342.3" y1="918.3" x2="337.1" y2="913.4" stroke="#333333" stroke-width="1.0" /><line x1="370.4" y1="909.1" x2="365.1" y2="904.3" stroke="#333333" stroke-width="1.0" /><line x1="398.0" y1="900.1" x2="392.7" y2="895.4" stroke="#333333" stroke-width="1.0" /><line x1="425.4" y1="891.2" x2="420.0" y2="886.6" stroke="#333333" stroke-width="1.0" /><line x1="452.4" y1="882.4" x2="447.0" y2="877.8" stroke="#333333" stroke-width="1.0" />
<g class="t3">
<text x="83.5" y="666.6" font-size="10" text-anchor="middle" dominant-baseline="central" fill="#262626" font-weight="normal" >0</text>
<text x="84.1" y="697.1" font-size="10" text-anchor="middle" dominant-baseline="central" fill="#262626" font-weight="normal" >300</text>
<text x="86.1" y="727.6" font-size="10" text-anchor="middle" dominant-baseline="central" fill="#262626" font-weight="normal" >600</text>
<text x="86.6" y="757.2" font-size="10" text-anchor="middle" dominant-baseline="central" fill="#262626" font-weight="normal" >900</text>
<text x="88.8" y="786.7" font-size="10" text-anchor="middle" dominant-baseline="central" fill="#262626" font-weight="normal" >1200</text>
<text x="89.8" y="815.8" font-size="10" text-anchor="middle" dominant-baseline="central" fill="#262626" font-weight="normal" >1500</text>
<text x="104.3" y="846.7" font-size="10" text-anchor="middle" dominant-baseline="central" fill="#262626" font-weight="normal" >−67</text>
<text x="129.5" y="873.9" font-size="10" text-anchor="middle" dominant-baseline="central" fill="#262626" font-weight="normal" >−68</text>
<text x="156.1" y="900.4" font-size="10" text-anchor="middle" dominant-baseline="central" fill="#262626" font-weight="normal" >−69</text>
<text x="182.0" y="928.2" font-size="10" text-anchor="middle" dominant-baseline="central" fill="#262626" font-weight="normal" >−70</text>
<text x="209.8" y="957.9" font-size="10" text-anchor="middle" dominant-baseline="central" fill="#262626" font-weight="normal" >−71</text>
<text x="258.9" y="962.3" font-size="10" text-anchor="middle" dominant-baseline="central" fill="#262626" font-weight="normal" >−125</text>
<text x="289.1" y="952.6" font-size="10" text-anchor="middle" dominant-baseline="central" fill="#262626" font-weight="normal" >−120</text>
<text x="317.4" y="944.4" font-size="10" text-anchor="middle" dominant-baseline="central" fill="#262626" font-weight="normal" >−115</text>
<text x="345.3" y="934.9" font-size="10" text-anchor="middle" dominant-baseline="central" fill="#262626" font-weight="normal" >−110</text>
<text x="374.0" y="925.2" font-size="10" text-anchor="middle" dominant-baseline="central" fill="#262626" font-weight="normal" >−105</text>
<text x="401.3" y="916.1" font-size="10" text-anchor="middle" dominant-baseline="central" fill="#262626" font-weight="normal" >−100</text>
<text x="428.7" y="907.0" font-size="10" text-anchor="middle" dominant-baseline="central" fill="#262626" font-weight="normal" >−95</text>
<text x="456.1" y="897.8" font-size="10" text-anchor="middle" dominant-baseline="central" fill="#262626" font-weight="normal" >−90</text>
<text x="67.5" y="736.8" font-size="10.5" text-anchor="middle" dominant-baseline="central" fill="#262626" font-weight="normal" transform="rotate(90 67.5 736.8)" textLength="46" lengthAdjust="spacingAndGlyphs" >Depth [m]</text>
<text x="141.5" y="909.2" font-size="10.5" text-anchor="middle" dominant-baseline="central" fill="#262626" font-weight="normal" transform="rotate(48 141.5 909.2)" textLength="40" lengthAdjust="spacingAndGlyphs" >Latitude</text>
<text x="363.9" y="944.4" font-size="10.5" text-anchor="middle" dominant-baseline="central" fill="#262626" font-weight="normal" transform="rotate(-18 363.9 944.4)" textLength="48" lengthAdjust="spacingAndGlyphs" >Longitude</text>
</g>
<g class="t3">
<text x="118.4" y="662.8" font-size="9.3" text-anchor="middle" dominant-baseline="central" fill="#1a1a1a" font-weight="normal" >P1</text>
<text x="152.1" y="653.6" font-size="9.3" text-anchor="middle" dominant-baseline="central" fill="#1a1a1a" font-weight="normal" >P8</text>
<text x="180.7" y="646.0" font-size="9.3" text-anchor="middle" dominant-baseline="central" fill="#1a1a1a" font-weight="normal" >P7</text>
<text x="209.4" y="640.1" font-size="9.3" text-anchor="middle" dominant-baseline="central" fill="#1a1a1a" font-weight="normal" >P6</text>
<text x="233.8" y="631.7" font-size="9.3" text-anchor="middle" dominant-baseline="central" fill="#1a1a1a" font-weight="normal" >P11</text>
<text x="262.5" y="625.8" font-size="9.3" text-anchor="middle" dominant-baseline="central" fill="#1a1a1a" font-weight="normal" >P12</text>
<text x="291.1" y="620.7" font-size="9.3" text-anchor="middle" dominant-baseline="central" fill="#1a1a1a" font-weight="normal" >P13</text>
<text x="316.9" y="612.2" font-size="9.3" text-anchor="middle" dominant-baseline="central" fill="#1a1a1a" font-weight="normal" >P14</text>
<text x="254.0" y="814.2" font-size="9.3" text-anchor="middle" dominant-baseline="central" fill="#1a1a1a" font-weight="normal" >P10</text>
<text x="277.5" y="681.2" font-size="9.3" text-anchor="middle" dominant-baseline="central" fill="#1a1a1a" font-weight="normal" >P5</text>
<text x="301.2" y="834.4" font-size="9.3" text-anchor="middle" dominant-baseline="central" fill="#1a1a1a" font-weight="normal" >P9</text>
<text x="375.6" y="685.0" font-size="9.3" text-anchor="middle" dominant-baseline="central" fill="#1a1a1a" font-weight="normal" >P15</text>
<text x="170.6" y="709.6" font-size="9.3" text-anchor="middle" dominant-baseline="central" fill="#1a1a1a" font-weight="normal" >P2</text>
<text x="200.1" y="735.8" font-size="9.3" text-anchor="middle" dominant-baseline="central" fill="#1a1a1a" font-weight="normal" >P3</text>
<text x="230.5" y="762.7" font-size="9.3" text-anchor="middle" dominant-baseline="central" fill="#1a1a1a" font-weight="normal" >P4</text>
<text x="277.6" y="857.9" font-size="13" text-anchor="middle" dominant-baseline="central" fill="#111" font-weight="normal" >P5</text>
</g>
<defs><linearGradient id="Cb0" gradientUnits="userSpaceOnUse" x1="124.3" y1="666.2" x2="130.2" y2="818.3"><stop offset="0.000" stop-color="#414487"/><stop offset="0.026" stop-color="#3e4989"/><stop offset="0.039" stop-color="#25848e"/><stop offset="0.105" stop-color="#1e9c89"/><stop offset="0.138" stop-color="#4ec36b"/><stop offset="0.164" stop-color="#86d549"/><stop offset="0.177" stop-color="#bddf26"/><stop offset="0.184" stop-color="#e5e419"/><stop offset="0.460" stop-color="#f8e621"/><stop offset="1.000" stop-color="#f8e621"/></linearGradient><linearGradient id="Cb1" gradientUnits="userSpaceOnUse" x1="158.5" y1="656.9" x2="162.5" y2="808.2"><stop offset="0.000" stop-color="#463480"/><stop offset="0.026" stop-color="#443a83"/><stop offset="0.040" stop-color="#25848e"/><stop offset="0.112" stop-color="#1e9c89"/><stop offset="0.145" stop-color="#4ec36b"/><stop offset="0.172" stop-color="#86d549"/><stop offset="0.188" stop-color="#bddf26"/><stop offset="0.198" stop-color="#e5e419"/><stop offset="0.462" stop-color="#f8e621"/><stop offset="1.000" stop-color="#f8e621"/></linearGradient><linearGradient id="Cb2" gradientUnits="userSpaceOnUse" x1="187.1" y1="649.3" x2="189.5" y2="799.8"><stop offset="0.000" stop-color="#3e4989"/><stop offset="0.027" stop-color="#3c4f8a"/><stop offset="0.040" stop-color="#25848e"/><stop offset="0.106" stop-color="#1e9c89"/><stop offset="0.140" stop-color="#4ec36b"/><stop offset="0.166" stop-color="#86d549"/><stop offset="0.179" stop-color="#bddf26"/><stop offset="0.186" stop-color="#e5e419"/><stop offset="0.465" stop-color="#f8e621"/><stop offset="1.000" stop-color="#f8e621"/></linearGradient><linearGradient id="Cb3" gradientUnits="userSpaceOnUse" x1="215.3" y1="642.6" x2="217.5" y2="792.2"><stop offset="0.000" stop-color="#3b528b"/><stop offset="0.027" stop-color="#38588c"/><stop offset="0.040" stop-color="#25848e"/><stop offset="0.114" stop-color="#1e9c89"/><stop offset="0.147" stop-color="#4ec36b"/><stop offset="0.174" stop-color="#86d549"/><stop offset="0.190" stop-color="#bddf26"/><stop offset="0.201" stop-color="#e5e419"/><stop offset="0.468" stop-color="#f8e621"/><stop offset="1.000" stop-color="#f8e621"/></linearGradient><linearGradient id="Cb4" gradientUnits="userSpaceOnUse" x1="243.1" y1="635.9" x2="244.5" y2="782.9"><stop offset="0.000" stop-color="#287d8e"/><stop offset="0.027" stop-color="#26828e"/><stop offset="0.041" stop-color="#25848e"/><stop offset="0.150" stop-color="#1e9c89"/><stop offset="0.184" stop-color="#4ec36b"/><stop offset="0.211" stop-color="#86d549"/><stop offset="0.286" stop-color="#bddf26"/><stop offset="0.354" stop-color="#e5e419"/><stop offset="0.476" stop-color="#f8e621"/><stop offset="1.000" stop-color="#f8e621"/></linearGradient><linearGradient id="Cb5" gradientUnits="userSpaceOnUse" x1="271.4" y1="629.1" x2="271.7" y2="777.9"><stop offset="0.000" stop-color="#2c738e"/><stop offset="0.027" stop-color="#2a788e"/><stop offset="0.040" stop-color="#25848e"/><stop offset="0.155" stop-color="#1e9c89"/><stop offset="0.188" stop-color="#4ec36b"/><stop offset="0.215" stop-color="#86d549"/><stop offset="0.296" stop-color="#bddf26"/><stop offset="0.370" stop-color="#e5e419"/><stop offset="0.470" stop-color="#f8e621"/><stop offset="1.000" stop-color="#f8e621"/></linearGradient><linearGradient id="Cb6" gradientUnits="userSpaceOnUse" x1="300.0" y1="624.1" x2="298.7" y2="772.0"><stop offset="0.000" stop-color="#25848e"/><stop offset="0.027" stop-color="#23898e"/><stop offset="0.041" stop-color="#25848e"/><stop offset="0.128" stop-color="#1e9c89"/><stop offset="0.162" stop-color="#4ec36b"/><stop offset="0.189" stop-color="#86d549"/><stop offset="0.267" stop-color="#bddf26"/><stop offset="0.338" stop-color="#e5e419"/><stop offset="0.473" stop-color="#f8e621"/><stop offset="1.000" stop-color="#f8e621"/></linearGradient><linearGradient id="Cb7" gradientUnits="userSpaceOnUse" x1="325.7" y1="616.2" x2="324.3" y2="763.2"><stop offset="0.000" stop-color="#3b528b"/><stop offset="0.027" stop-color="#38588c"/><stop offset="0.041" stop-color="#25848e"/><stop offset="0.109" stop-color="#1e9c89"/><stop offset="0.143" stop-color="#4ec36b"/><stop offset="0.170" stop-color="#86d549"/><stop offset="0.224" stop-color="#bddf26"/><stop offset="0.272" stop-color="#e5e419"/><stop offset="0.476" stop-color="#f8e621"/><stop offset="1.000" stop-color="#f8e621"/></linearGradient><linearGradient id="Cb8" gradientUnits="userSpaceOnUse" x1="262.5" y1="659.5" x2="263.0" y2="809.9"><stop offset="0.000" stop-color="#2f6c8e"/><stop offset="0.027" stop-color="#2d718e"/><stop offset="0.040" stop-color="#25848e"/><stop offset="0.133" stop-color="#1e9c89"/><stop offset="0.166" stop-color="#4ec36b"/><stop offset="0.193" stop-color="#86d549"/><stop offset="0.273" stop-color="#bddf26"/><stop offset="0.346" stop-color="#e5e419"/><stop offset="0.465" stop-color="#f8e621"/><stop offset="1.000" stop-color="#f8e621"/></linearGradient><linearGradient id="Cb9" gradientUnits="userSpaceOnUse" x1="281.5" y1="685.6" x2="281.8" y2="838.6"><stop offset="0.000" stop-color="#2a788e"/><stop offset="0.026" stop-color="#287d8e"/><stop offset="0.039" stop-color="#25848e"/><stop offset="0.124" stop-color="#1e9c89"/><stop offset="0.157" stop-color="#4ec36b"/><stop offset="0.183" stop-color="#86d549"/><stop offset="0.258" stop-color="#bddf26"/><stop offset="0.327" stop-color="#e5e419"/><stop offset="0.458" stop-color="#f8e621"/><stop offset="1.000" stop-color="#f8e621"/></linearGradient><linearGradient id="Cb10" gradientUnits="userSpaceOnUse" x1="307.5" y1="678.8" x2="306.8" y2="831.0"><stop offset="0.000" stop-color="#460b5e"/><stop offset="0.026" stop-color="#471365"/><stop offset="0.039" stop-color="#25848e"/><stop offset="0.112" stop-color="#1e9c89"/><stop offset="0.145" stop-color="#4ec36b"/><stop offset="0.171" stop-color="#86d549"/><stop offset="0.246" stop-color="#bddf26"/><stop offset="0.315" stop-color="#e5e419"/><stop offset="0.460" stop-color="#f8e621"/><stop offset="1.000" stop-color="#f8e621"/></linearGradient><linearGradient id="Cb11" gradientUnits="userSpaceOnUse" x1="385.2" y1="688.7" x2="381.3" y2="842.5"><stop offset="0.000" stop-color="#440154"/><stop offset="0.026" stop-color="#46085c"/><stop offset="0.039" stop-color="#25848e"/><stop offset="0.117" stop-color="#1e9c89"/><stop offset="0.149" stop-color="#4ec36b"/><stop offset="0.175" stop-color="#86d549"/><stop offset="0.237" stop-color="#bddf26"/><stop offset="0.292" stop-color="#e5e419"/><stop offset="0.455" stop-color="#f8e621"/><stop offset="1.000" stop-color="#f8e621"/></linearGradient><linearGradient id="Cb12" gradientUnits="userSpaceOnUse" x1="177.0" y1="713.8" x2="180.7" y2="869.7"><stop offset="0.000" stop-color="#2f6c8e"/><stop offset="0.026" stop-color="#2d718e"/><stop offset="0.038" stop-color="#25848e"/><stop offset="0.096" stop-color="#1e9c89"/><stop offset="0.128" stop-color="#4ec36b"/><stop offset="0.154" stop-color="#86d549"/><stop offset="0.164" stop-color="#bddf26"/><stop offset="0.167" stop-color="#e5e419"/><stop offset="0.449" stop-color="#f8e621"/><stop offset="1.000" stop-color="#f8e621"/></linearGradient><linearGradient id="Cb13" gradientUnits="userSpaceOnUse" x1="205.7" y1="739.1" x2="208.5" y2="896.7"><stop offset="0.000" stop-color="#433e85"/><stop offset="0.025" stop-color="#414487"/><stop offset="0.038" stop-color="#25848e"/><stop offset="0.102" stop-color="#1e9c89"/><stop offset="0.133" stop-color="#4ec36b"/><stop offset="0.159" stop-color="#86d549"/><stop offset="0.171" stop-color="#bddf26"/><stop offset="0.178" stop-color="#e5e419"/><stop offset="0.444" stop-color="#f8e621"/><stop offset="1.000" stop-color="#f8e621"/></linearGradient><linearGradient id="Cb14" gradientUnits="userSpaceOnUse" x1="236.3" y1="766.9" x2="238.0" y2="926.2"><stop offset="0.000" stop-color="#481d6f"/><stop offset="0.025" stop-color="#482475"/><stop offset="0.038" stop-color="#25848e"/><stop offset="0.113" stop-color="#1e9c89"/><stop offset="0.144" stop-color="#4ec36b"/><stop offset="0.169" stop-color="#86d549"/><stop offset="0.195" stop-color="#bddf26"/><stop offset="0.213" stop-color="#e5e419"/><stop offset="0.439" stop-color="#f8e621"/><stop offset="1.000" stop-color="#f8e621"/></linearGradient></defs><line x1="124.4" y1="668.9" x2="130.1" y2="815.6" stroke="url(#Cb0)" stroke-width="6.1" stroke-linecap="round"/><line x1="158.6" y1="659.6" x2="162.4" y2="805.5" stroke="url(#Cb1)" stroke-width="6.1" stroke-linecap="round"/><line x1="187.1" y1="652.0" x2="189.5" y2="797.1" stroke="url(#Cb2)" stroke-width="6.1" stroke-linecap="round"/><line x1="215.3" y1="645.3" x2="217.5" y2="789.5" stroke="url(#Cb3)" stroke-width="6.1" stroke-linecap="round"/><line x1="243.1" y1="638.6" x2="244.5" y2="780.2" stroke="url(#Cb4)" stroke-width="6.1" stroke-linecap="round"/><line x1="271.4" y1="631.8" x2="271.7" y2="775.2" stroke="url(#Cb5)" stroke-width="6.1" stroke-linecap="round"/><line x1="300.0" y1="626.8" x2="298.7" y2="769.3" stroke="url(#Cb6)" stroke-width="6.1" stroke-linecap="round"/><line x1="325.7" y1="618.9" x2="324.3" y2="760.5" stroke="url(#Cb7)" stroke-width="6.1" stroke-linecap="round"/><line x1="262.5" y1="662.2" x2="263.0" y2="807.2" stroke="url(#Cb8)" stroke-width="6.1" stroke-linecap="round"/><line x1="281.5" y1="688.3" x2="281.8" y2="835.9" stroke="url(#Cb9)" stroke-width="6.1" stroke-linecap="round"/><line x1="307.5" y1="681.5" x2="306.8" y2="828.3" stroke="url(#Cb10)" stroke-width="6.1" stroke-linecap="round"/><line x1="385.1" y1="691.4" x2="381.4" y2="839.8" stroke="url(#Cb11)" stroke-width="6.1" stroke-linecap="round"/><line x1="177.1" y1="716.5" x2="180.6" y2="867.0" stroke="url(#Cb12)" stroke-width="6.1" stroke-linecap="round"/><line x1="205.7" y1="741.8" x2="208.5" y2="894.0" stroke="url(#Cb13)" stroke-width="6.1" stroke-linecap="round"/><line x1="236.3" y1="769.6" x2="238.0" y2="923.5" stroke="url(#Cb14)" stroke-width="6.1" stroke-linecap="round"/>
<rect x="429.1" y="567.4" width="50.2" height="210.9" rx="2" fill="#ffffff" fill-opacity="0.85" stroke="#d6d6d6" stroke-width="0.8"/>
<circle cx="441.1" cy="576.1" r="2.4" fill="#414487"/>
<text x="458.2" y="576.1" font-size="9.5" text-anchor="start" dominant-baseline="central" fill="#262626" font-weight="normal" xml:space="preserve">P1</text>
<circle cx="441.1" cy="589.7" r="2.4" fill="#25848e"/>
<text x="458.2" y="589.7" font-size="9.5" text-anchor="start" dominant-baseline="central" fill="#262626" font-weight="normal" xml:space="preserve"> P2</text>
<circle cx="441.1" cy="603.5" r="2.4" fill="#433e85"/>
<text x="458.2" y="603.5" font-size="9.5" text-anchor="start" dominant-baseline="central" fill="#262626" font-weight="normal" xml:space="preserve"> P3</text>
<circle cx="441.1" cy="617.4" r="2.4" fill="#481d6f"/>
<text x="458.2" y="617.4" font-size="9.5" text-anchor="start" dominant-baseline="central" fill="#262626" font-weight="normal" xml:space="preserve">P4</text>
<circle cx="441.1" cy="631.0" r="2.4" fill="#21918c"/>
<text x="458.2" y="631.0" font-size="9.5" text-anchor="start" dominant-baseline="central" fill="#262626" font-weight="normal" xml:space="preserve"> P5</text>
<circle cx="441.1" cy="645.4" r="2.4" fill="#3b528b"/>
<text x="458.2" y="645.4" font-size="9.5" text-anchor="start" dominant-baseline="central" fill="#262626" font-weight="normal" xml:space="preserve">P6</text>
<circle cx="441.1" cy="658.9" r="2.4" fill="#3e4989"/>
<text x="458.2" y="658.9" font-size="9.5" text-anchor="start" dominant-baseline="central" fill="#262626" font-weight="normal" xml:space="preserve">P7</text>
<circle cx="441.1" cy="672.6" r="2.4" fill="#463480"/>
<text x="458.2" y="672.6" font-size="9.5" text-anchor="start" dominant-baseline="central" fill="#262626" font-weight="normal" xml:space="preserve">P8</text>
<circle cx="441.1" cy="686.4" r="2.4" fill="#460b5e"/>
<text x="458.2" y="686.4" font-size="9.5" text-anchor="start" dominant-baseline="central" fill="#262626" font-weight="normal" xml:space="preserve">P9</text>
<circle cx="441.1" cy="700.3" r="2.4" fill="#2f6c8e"/>
<text x="458.2" y="700.3" font-size="9.5" text-anchor="start" dominant-baseline="central" fill="#262626" font-weight="normal" xml:space="preserve">P10</text>
<circle cx="441.1" cy="714.1" r="2.4" fill="#25848e"/>
<text x="458.2" y="714.1" font-size="9.5" text-anchor="start" dominant-baseline="central" fill="#262626" font-weight="normal" xml:space="preserve">P11</text>
<circle cx="441.1" cy="728.0" r="2.4" fill="#2c738e"/>
<text x="458.2" y="728.0" font-size="9.5" text-anchor="start" dominant-baseline="central" fill="#262626" font-weight="normal" xml:space="preserve">P12</text>
<circle cx="441.1" cy="741.8" r="2.4" fill="#21918c"/>
<text x="458.2" y="741.8" font-size="9.5" text-anchor="start" dominant-baseline="central" fill="#262626" font-weight="normal" xml:space="preserve">P13</text>
<circle cx="441.1" cy="755.7" r="2.4" fill="#3b528b"/>
<text x="458.2" y="755.7" font-size="9.5" text-anchor="start" dominant-baseline="central" fill="#262626" font-weight="normal" xml:space="preserve">P14</text>
<circle cx="441.1" cy="769.5" r="2.4" fill="#440154"/>
<text x="458.2" y="769.5" font-size="9.5" text-anchor="start" dominant-baseline="central" fill="#262626" font-weight="normal" xml:space="preserve">P15</text>
<text x="277.0" y="553.5" font-size="12.5" text-anchor="middle" dominant-baseline="central" fill="#262626" font-weight="normal" textLength="194" lengthAdjust="spacingAndGlyphs" >Salinity profile in the Pacific Sector</text>
<defs><linearGradient id="Ccb" x1="0" y1="1" x2="0" y2="0"><stop offset="0.000" stop-color="#440154"/><stop offset="0.062" stop-color="#48186a"/><stop offset="0.125" stop-color="#472d7b"/><stop offset="0.188" stop-color="#424086"/><stop offset="0.250" stop-color="#3b528b"/><stop offset="0.312" stop-color="#33638d"/><stop offset="0.375" stop-color="#2c728e"/><stop offset="0.438" stop-color="#26828e"/><stop offset="0.500" stop-color="#21918c"/><stop offset="0.562" stop-color="#1fa088"/><stop offset="0.625" stop-color="#28ae80"/><stop offset="0.688" stop-color="#3fbc73"/><stop offset="0.750" stop-color="#5ec962"/><stop offset="0.812" stop-color="#84d44b"/><stop offset="0.875" stop-color="#addc30"/><stop offset="0.938" stop-color="#d8e219"/><stop offset="1.000" stop-color="#fde725"/></linearGradient></defs>
<rect x="509.8" y="644.3" width="25.2" height="250.1" fill="url(#Ccb)" stroke="#262626" stroke-width="0.8"/>
<line x1="535.0" y1="664.6" x2="538.5" y2="664.6" stroke="#262626" stroke-width="0.8" />
<text x="541.0" y="664.6" font-size="10" text-anchor="start" dominant-baseline="central" fill="#262626" font-weight="normal" >34.6</text>
<line x1="535.0" y1="694.2" x2="538.5" y2="694.2" stroke="#262626" stroke-width="0.8" />
<text x="541.0" y="694.2" font-size="10" text-anchor="start" dominant-baseline="central" fill="#262626" font-weight="normal" >34.4</text>
<line x1="535.0" y1="723.9" x2="538.5" y2="723.9" stroke="#262626" stroke-width="0.8" />
<text x="541.0" y="723.9" font-size="10" text-anchor="start" dominant-baseline="central" fill="#262626" font-weight="normal" >34.2</text>
<line x1="535.0" y1="753.5" x2="538.5" y2="753.5" stroke="#262626" stroke-width="0.8" />
<text x="541.0" y="753.5" font-size="10" text-anchor="start" dominant-baseline="central" fill="#262626" font-weight="normal" >34.0</text>
<line x1="535.0" y1="784.0" x2="538.5" y2="784.0" stroke="#262626" stroke-width="0.8" />
<text x="541.0" y="784.0" font-size="10" text-anchor="start" dominant-baseline="central" fill="#262626" font-weight="normal" >33.8</text>
<line x1="535.0" y1="813.7" x2="538.5" y2="813.7" stroke="#262626" stroke-width="0.8" />
<text x="541.0" y="813.7" font-size="10" text-anchor="start" dominant-baseline="central" fill="#262626" font-weight="normal" >33.6</text>
<line x1="535.0" y1="843.3" x2="538.5" y2="843.3" stroke="#262626" stroke-width="0.8" />
<text x="541.0" y="843.3" font-size="10" text-anchor="start" dominant-baseline="central" fill="#262626" font-weight="normal" >33.4</text>
<line x1="535.0" y1="873.0" x2="538.5" y2="873.0" stroke="#262626" stroke-width="0.8" />
<text x="541.0" y="873.0" font-size="10" text-anchor="start" dominant-baseline="central" fill="#262626" font-weight="normal" >33.2</text>
<text x="568.2" y="770.8" font-size="10.5" text-anchor="middle" dominant-baseline="central" fill="#262626" font-weight="normal" transform="rotate(-90 568.2 770.8)" textLength="62.6" lengthAdjust="spacingAndGlyphs" >Salinity [PSU]</text>
</g><g id="E" class="t3">
<polygon points="77.2,1345.3 296.9,1281.7 297.7,1116.4 69.1,1174.4" fill="#f2f2f2" />
<polygon points="432.8,1395.9 296.9,1281.7 297.7,1116.4 439.5,1220.8" fill="#f9f9f9" />
<polygon points="200.5,1471.2 432.8,1395.9 296.9,1281.7 77.2,1345.3" fill="#f5f5f5" />
<g stroke-linecap="butt"><line x1="97.6" y1="1339.4" x2="90.3" y2="1169.0" stroke="#b9b9b9" stroke-width="1.2" /><line x1="222.2" y1="1464.2" x2="97.6" y2="1339.4" stroke="#b9b9b9" stroke-width="1.2" /><line x1="125.0" y1="1331.5" x2="118.9" y2="1161.7" stroke="#b9b9b9" stroke-width="1.2" /><line x1="251.2" y1="1454.8" x2="125.0" y2="1331.5" stroke="#b9b9b9" stroke-width="1.2" /><line x1="152.1" y1="1323.7" x2="147.1" y2="1154.6" stroke="#b9b9b9" stroke-width="1.2" /><line x1="279.9" y1="1445.5" x2="152.1" y2="1323.7" stroke="#b9b9b9" stroke-width="1.2" /><line x1="178.9" y1="1315.9" x2="175.0" y2="1147.5" stroke="#b9b9b9" stroke-width="1.2" /><line x1="308.3" y1="1436.3" x2="178.9" y2="1315.9" stroke="#b9b9b9" stroke-width="1.2" /><line x1="205.4" y1="1308.2" x2="202.6" y2="1140.5" stroke="#b9b9b9" stroke-width="1.2" /><line x1="336.3" y1="1427.2" x2="205.4" y2="1308.2" stroke="#b9b9b9" stroke-width="1.2" /><line x1="231.6" y1="1300.6" x2="229.8" y2="1133.6" stroke="#b9b9b9" stroke-width="1.2" /><line x1="363.9" y1="1418.2" x2="231.6" y2="1300.6" stroke="#b9b9b9" stroke-width="1.2" /><line x1="257.5" y1="1293.1" x2="256.7" y2="1126.8" stroke="#b9b9b9" stroke-width="1.2" /><line x1="391.3" y1="1409.4" x2="257.5" y2="1293.1" stroke="#b9b9b9" stroke-width="1.2" /><line x1="283.1" y1="1285.7" x2="283.4" y2="1120.0" stroke="#b9b9b9" stroke-width="1.2" /><line x1="418.3" y1="1400.6" x2="283.1" y2="1285.7" stroke="#b9b9b9" stroke-width="1.2" /><line x1="304.2" y1="1287.9" x2="305.3" y2="1122.0" stroke="#b9b9b9" stroke-width="1.2" /><line x1="83.8" y1="1352.1" x2="304.2" y2="1287.9" stroke="#b9b9b9" stroke-width="1.2" /><line x1="332.2" y1="1311.4" x2="334.5" y2="1143.5" stroke="#b9b9b9" stroke-width="1.2" /><line x1="109.2" y1="1378.0" x2="332.2" y2="1311.4" stroke="#b9b9b9" stroke-width="1.2" /><line x1="361.2" y1="1335.8" x2="364.7" y2="1165.7" stroke="#b9b9b9" stroke-width="1.2" /><line x1="135.5" y1="1404.8" x2="361.2" y2="1335.8" stroke="#b9b9b9" stroke-width="1.2" /><line x1="391.3" y1="1361.0" x2="396.1" y2="1188.8" stroke="#b9b9b9" stroke-width="1.2" /><line x1="162.8" y1="1432.7" x2="391.3" y2="1361.0" stroke="#b9b9b9" stroke-width="1.2" /><line x1="422.4" y1="1387.2" x2="428.6" y2="1212.8" stroke="#b9b9b9" stroke-width="1.2" /><line x1="191.1" y1="1461.6" x2="422.4" y2="1387.2" stroke="#b9b9b9" stroke-width="1.2" /><line x1="69.6" y1="1184.9" x2="297.6" y2="1126.6" stroke="#b9b9b9" stroke-width="1.2" /><line x1="439.0" y1="1231.6" x2="297.6" y2="1126.6" stroke="#b9b9b9" stroke-width="1.2" /><line x1="71.0" y1="1215.7" x2="297.5" y2="1156.3" stroke="#b9b9b9" stroke-width="1.2" /><line x1="437.8" y1="1263.2" x2="297.5" y2="1156.3" stroke="#b9b9b9" stroke-width="1.2" /><line x1="72.5" y1="1246.1" x2="297.3" y2="1185.7" stroke="#b9b9b9" stroke-width="1.2" /><line x1="436.6" y1="1294.3" x2="297.3" y2="1185.7" stroke="#b9b9b9" stroke-width="1.2" /><line x1="73.9" y1="1276.0" x2="297.2" y2="1214.6" stroke="#b9b9b9" stroke-width="1.2" /><line x1="435.5" y1="1324.9" x2="297.2" y2="1214.6" stroke="#b9b9b9" stroke-width="1.2" /><line x1="75.3" y1="1305.5" x2="297.0" y2="1243.1" stroke="#b9b9b9" stroke-width="1.2" /><line x1="434.3" y1="1355.1" x2="297.0" y2="1243.1" stroke="#b9b9b9" stroke-width="1.2" /><line x1="76.7" y1="1334.6" x2="296.9" y2="1271.3" stroke="#b9b9b9" stroke-width="1.2" /><line x1="433.2" y1="1384.9" x2="296.9" y2="1271.3" stroke="#b9b9b9" stroke-width="1.2" /></g>
<line x1="77.2" y1="1345.3" x2="69.1" y2="1174.4" stroke="#333333" stroke-width="1.0" /><line x1="200.5" y1="1471.2" x2="77.2" y2="1345.3" stroke="#333333" stroke-width="1.0" /><line x1="200.5" y1="1471.2" x2="432.8" y2="1395.9" stroke="#333333" stroke-width="1.0" /><line x1="65.3" y1="1186.0" x2="71.5" y2="1184.4" stroke="#333333" stroke-width="1.0" /><line x1="66.8" y1="1216.8" x2="72.9" y2="1215.2" stroke="#333333" stroke-width="1.0" /><line x1="68.2" y1="1247.2" x2="74.4" y2="1245.6" stroke="#333333" stroke-width="1.0" /><line x1="69.7" y1="1277.1" x2="75.8" y2="1275.5" stroke="#333333" stroke-width="1.0" /><line x1="71.1" y1="1306.7" x2="77.2" y2="1305.0" stroke="#333333" stroke-width="1.0" /><line x1="72.6" y1="1335.8" x2="78.6" y2="1334.1" stroke="#333333" stroke-width="1.0" /><line x1="79.7" y1="1353.3" x2="85.7" y2="1351.6" stroke="#333333" stroke-width="1.0" /><line x1="105.0" y1="1379.2" x2="111.1" y2="1377.4" stroke="#333333" stroke-width="1.0" /><line x1="131.2" y1="1406.1" x2="137.4" y2="1404.2" stroke="#333333" stroke-width="1.0" /><line x1="158.5" y1="1434.0" x2="164.7" y2="1432.1" stroke="#333333" stroke-width="1.0" /><line x1="186.7" y1="1463.0" x2="193.1" y2="1461.0" stroke="#333333" stroke-width="1.0" /><line x1="225.6" y1="1467.6" x2="220.6" y2="1462.6" stroke="#333333" stroke-width="1.0" /><line x1="254.7" y1="1458.1" x2="249.6" y2="1453.2" stroke="#333333" stroke-width="1.0" /><line x1="283.4" y1="1448.8" x2="278.3" y2="1443.9" stroke="#333333" stroke-width="1.0" /><line x1="311.8" y1="1439.6" x2="306.6" y2="1434.7" stroke="#333333" stroke-width="1.0" /><line x1="339.9" y1="1430.4" x2="334.6" y2="1425.6" stroke="#333333" stroke-width="1.0" /><line x1="367.5" y1="1421.4" x2="362.2" y2="1416.7" stroke="#333333" stroke-width="1.0" /><line x1="394.9" y1="1412.5" x2="389.5" y2="1407.9" stroke="#333333" stroke-width="1.0" /><line x1="421.9" y1="1403.7" x2="416.5" y2="1399.1" stroke="#333333" stroke-width="1.0" />
<g class="t3">
<text x="53.0" y="1187.9" font-size="10" text-anchor="middle" dominant-baseline="central" fill="#262626" font-weight="normal" >0</text>
<text x="53.6" y="1218.4" font-size="10" text-anchor="middle" dominant-baseline="central" fill="#262626" font-weight="normal" >300</text>
<text x="55.6" y="1248.9" font-size="10" text-anchor="middle" dominant-baseline="central" fill="#262626" font-weight="normal" >600</text>
<text x="56.1" y="1278.5" font-size="10" text-anchor="middle" dominant-baseline="central" fill="#262626" font-weight="normal" >900</text>
<text x="58.3" y="1308.0" font-size="10" text-anchor="middle" dominant-baseline="central" fill="#262626" font-weight="normal" >1200</text>
<text x="59.3" y="1337.1" font-size="10" text-anchor="middle" dominant-baseline="central" fill="#262626" font-weight="normal" >1500</text>
<text x="73.8" y="1368.0" font-size="10" text-anchor="middle" dominant-baseline="central" fill="#262626" font-weight="normal" >−67</text>
<text x="99.0" y="1395.2" font-size="10" text-anchor="middle" dominant-baseline="central" fill="#262626" font-weight="normal" >−68</text>
<text x="125.6" y="1421.7" font-size="10" text-anchor="middle" dominant-baseline="central" fill="#262626" font-weight="normal" >−69</text>
<text x="151.5" y="1449.5" font-size="10" text-anchor="middle" dominant-baseline="central" fill="#262626" font-weight="normal" >−70</text>
<text x="179.3" y="1479.2" font-size="10" text-anchor="middle" dominant-baseline="central" fill="#262626" font-weight="normal" >−71</text>
<text x="228.4" y="1483.6" font-size="10" text-anchor="middle" dominant-baseline="central" fill="#262626" font-weight="normal" >−125</text>
<text x="258.6" y="1473.9" font-size="10" text-anchor="middle" dominant-baseline="central" fill="#262626" font-weight="normal" >−120</text>
<text x="286.9" y="1465.7" font-size="10" text-anchor="middle" dominant-baseline="central" fill="#262626" font-weight="normal" >−115</text>
<text x="314.8" y="1456.2" font-size="10" text-anchor="middle" dominant-baseline="central" fill="#262626" font-weight="normal" >−110</text>
<text x="343.5" y="1446.5" font-size="10" text-anchor="middle" dominant-baseline="central" fill="#262626" font-weight="normal" >−105</text>
<text x="370.8" y="1437.4" font-size="10" text-anchor="middle" dominant-baseline="central" fill="#262626" font-weight="normal" >−100</text>
<text x="398.2" y="1428.3" font-size="10" text-anchor="middle" dominant-baseline="central" fill="#262626" font-weight="normal" >−95</text>
<text x="425.6" y="1419.1" font-size="10" text-anchor="middle" dominant-baseline="central" fill="#262626" font-weight="normal" >−90</text>
<text x="37.0" y="1258.1" font-size="10.5" text-anchor="middle" dominant-baseline="central" fill="#262626" font-weight="normal" transform="rotate(90 37.0 1258.1)" textLength="46" lengthAdjust="spacingAndGlyphs" >Depth [m]</text>
<text x="111.0" y="1430.5" font-size="10.5" text-anchor="middle" dominant-baseline="central" fill="#262626" font-weight="normal" transform="rotate(48 111.0 1430.5)" textLength="40" lengthAdjust="spacingAndGlyphs" >Latitude</text>
<text x="333.4" y="1465.7" font-size="10.5" text-anchor="middle" dominant-baseline="central" fill="#262626" font-weight="normal" transform="rotate(-18 333.4 1465.7)" textLength="48" lengthAdjust="spacingAndGlyphs" >Longitude</text>
</g>
<g class="t3">
<text x="87.9" y="1184.1" font-size="9.3" text-anchor="middle" dominant-baseline="central" fill="#1a1a1a" font-weight="normal" >P1</text>
<text x="121.6" y="1174.9" font-size="9.3" text-anchor="middle" dominant-baseline="central" fill="#1a1a1a" font-weight="normal" >P8</text>
<text x="150.2" y="1167.3" font-size="9.3" text-anchor="middle" dominant-baseline="central" fill="#1a1a1a" font-weight="normal" >P7</text>
<text x="178.9" y="1161.4" font-size="9.3" text-anchor="middle" dominant-baseline="central" fill="#1a1a1a" font-weight="normal" >P6</text>
<text x="203.3" y="1153.0" font-size="9.3" text-anchor="middle" dominant-baseline="central" fill="#1a1a1a" font-weight="normal" >P11</text>
<text x="232.0" y="1147.1" font-size="9.3" text-anchor="middle" dominant-baseline="central" fill="#1a1a1a" font-weight="normal" >P12</text>
<text x="260.6" y="1142.0" font-size="9.3" text-anchor="middle" dominant-baseline="central" fill="#1a1a1a" font-weight="normal" >P13</text>
<text x="286.4" y="1133.5" font-size="9.3" text-anchor="middle" dominant-baseline="central" fill="#1a1a1a" font-weight="normal" >P14</text>
<text x="223.5" y="1335.5" font-size="9.3" text-anchor="middle" dominant-baseline="central" fill="#1a1a1a" font-weight="normal" >P10</text>
<text x="247.0" y="1202.5" font-size="9.3" text-anchor="middle" dominant-baseline="central" fill="#1a1a1a" font-weight="normal" >P5</text>
<text x="270.7" y="1355.7" font-size="9.3" text-anchor="middle" dominant-baseline="central" fill="#1a1a1a" font-weight="normal" >P9</text>
<text x="345.1" y="1206.3" font-size="9.3" text-anchor="middle" dominant-baseline="central" fill="#1a1a1a" font-weight="normal" >P15</text>
<text x="140.1" y="1230.9" font-size="9.3" text-anchor="middle" dominant-baseline="central" fill="#1a1a1a" font-weight="normal" >P2</text>
<text x="169.6" y="1257.1" font-size="9.3" text-anchor="middle" dominant-baseline="central" fill="#1a1a1a" font-weight="normal" >P3</text>
<text x="200.0" y="1284.0" font-size="9.3" text-anchor="middle" dominant-baseline="central" fill="#1a1a1a" font-weight="normal" >P4</text>
<text x="247.1" y="1379.2" font-size="13" text-anchor="middle" dominant-baseline="central" fill="#111" font-weight="normal" >P5</text>
</g>
<defs><linearGradient id="Eb0" gradientUnits="userSpaceOnUse" x1="93.8" y1="1187.5" x2="99.7" y2="1339.6"><stop offset="0.000" stop-color="#fde725"/><stop offset="0.039" stop-color="#f1e51d"/><stop offset="0.049" stop-color="#4ec36b"/><stop offset="0.059" stop-color="#21918c"/><stop offset="0.105" stop-color="#25848e"/><stop offset="0.125" stop-color="#355f8d"/><stop offset="0.145" stop-color="#414487"/><stop offset="0.164" stop-color="#481a6c"/><stop offset="1.000" stop-color="#481769"/></linearGradient><linearGradient id="Eb1" gradientUnits="userSpaceOnUse" x1="128.0" y1="1178.2" x2="132.0" y2="1329.5"><stop offset="0.000" stop-color="#fde725"/><stop offset="0.040" stop-color="#f1e51d"/><stop offset="0.050" stop-color="#4ec36b"/><stop offset="0.059" stop-color="#21918c"/><stop offset="0.106" stop-color="#25848e"/><stop offset="0.126" stop-color="#355f8d"/><stop offset="0.145" stop-color="#414487"/><stop offset="0.165" stop-color="#481a6c"/><stop offset="1.000" stop-color="#481769"/></linearGradient><linearGradient id="Eb2" gradientUnits="userSpaceOnUse" x1="156.6" y1="1170.6" x2="159.0" y2="1321.1"><stop offset="0.000" stop-color="#f8e621"/><stop offset="0.040" stop-color="#ece51b"/><stop offset="0.050" stop-color="#4ec36b"/><stop offset="0.060" stop-color="#21918c"/><stop offset="0.106" stop-color="#25848e"/><stop offset="0.126" stop-color="#355f8d"/><stop offset="0.146" stop-color="#414487"/><stop offset="0.166" stop-color="#481a6c"/><stop offset="1.000" stop-color="#481769"/></linearGradient><linearGradient id="Eb3" gradientUnits="userSpaceOnUse" x1="184.8" y1="1163.9" x2="187.0" y2="1313.5"><stop offset="0.000" stop-color="#e5e419"/><stop offset="0.040" stop-color="#d8e219"/><stop offset="0.050" stop-color="#4ec36b"/><stop offset="0.060" stop-color="#21918c"/><stop offset="0.107" stop-color="#25848e"/><stop offset="0.127" stop-color="#355f8d"/><stop offset="0.147" stop-color="#414487"/><stop offset="0.167" stop-color="#481a6c"/><stop offset="1.000" stop-color="#481769"/></linearGradient><linearGradient id="Eb4" gradientUnits="userSpaceOnUse" x1="212.6" y1="1157.2" x2="214.0" y2="1304.2"><stop offset="0.000" stop-color="#f1e51d"/><stop offset="0.041" stop-color="#e5e419"/><stop offset="0.051" stop-color="#4ec36b"/><stop offset="0.061" stop-color="#21918c"/><stop offset="0.109" stop-color="#25848e"/><stop offset="0.129" stop-color="#355f8d"/><stop offset="0.150" stop-color="#414487"/><stop offset="0.170" stop-color="#481a6c"/><stop offset="1.000" stop-color="#481769"/></linearGradient><linearGradient id="Eb5" gradientUnits="userSpaceOnUse" x1="240.9" y1="1150.4" x2="241.2" y2="1299.2"><stop offset="0.000" stop-color="#f8e621"/><stop offset="0.040" stop-color="#ece51b"/><stop offset="0.050" stop-color="#4ec36b"/><stop offset="0.060" stop-color="#21918c"/><stop offset="0.108" stop-color="#25848e"/><stop offset="0.128" stop-color="#355f8d"/><stop offset="0.148" stop-color="#414487"/><stop offset="0.168" stop-color="#481a6c"/><stop offset="1.000" stop-color="#481769"/></linearGradient><linearGradient id="Eb6" gradientUnits="userSpaceOnUse" x1="269.5" y1="1145.4" x2="268.2" y2="1293.3"><stop offset="0.000" stop-color="#e5e419"/><stop offset="0.041" stop-color="#d8e219"/><stop offset="0.051" stop-color="#4ec36b"/><stop offset="0.061" stop-color="#21918c"/><stop offset="0.108" stop-color="#25848e"/><stop offset="0.128" stop-color="#355f8d"/><stop offset="0.149" stop-color="#414487"/><stop offset="0.169" stop-color="#481a6c"/><stop offset="1.000" stop-color="#481769"/></linearGradient><linearGradient id="Eb7" gradientUnits="userSpaceOnUse" x1="295.2" y1="1137.5" x2="293.8" y2="1284.5"><stop offset="0.000" stop-color="#d8e219"/><stop offset="0.041" stop-color="#cae11f"/><stop offset="0.051" stop-color="#4ec36b"/><stop offset="0.061" stop-color="#21918c"/><stop offset="0.109" stop-color="#25848e"/><stop offset="0.129" stop-color="#355f8d"/><stop offset="0.150" stop-color="#414487"/><stop offset="0.170" stop-color="#481a6c"/><stop offset="1.000" stop-color="#481769"/></linearGradient><linearGradient id="Eb8" gradientUnits="userSpaceOnUse" x1="232.0" y1="1180.8" x2="232.5" y2="1331.2"><stop offset="0.000" stop-color="#e5e419"/><stop offset="0.040" stop-color="#d8e219"/><stop offset="0.050" stop-color="#4ec36b"/><stop offset="0.060" stop-color="#21918c"/><stop offset="0.106" stop-color="#25848e"/><stop offset="0.126" stop-color="#355f8d"/><stop offset="0.146" stop-color="#414487"/><stop offset="0.166" stop-color="#481a6c"/><stop offset="1.000" stop-color="#481769"/></linearGradient><linearGradient id="Eb9" gradientUnits="userSpaceOnUse" x1="251.0" y1="1206.9" x2="251.3" y2="1359.9"><stop offset="0.000" stop-color="#d8e219"/><stop offset="0.039" stop-color="#cae11f"/><stop offset="0.049" stop-color="#4ec36b"/><stop offset="0.059" stop-color="#21918c"/><stop offset="0.105" stop-color="#25848e"/><stop offset="0.124" stop-color="#355f8d"/><stop offset="0.144" stop-color="#414487"/><stop offset="0.163" stop-color="#481a6c"/><stop offset="1.000" stop-color="#481769"/></linearGradient><linearGradient id="Eb10" gradientUnits="userSpaceOnUse" x1="277.0" y1="1200.1" x2="276.3" y2="1352.3"><stop offset="0.000" stop-color="#e5e419"/><stop offset="0.039" stop-color="#d8e219"/><stop offset="0.049" stop-color="#4ec36b"/><stop offset="0.059" stop-color="#21918c"/><stop offset="0.105" stop-color="#25848e"/><stop offset="0.125" stop-color="#355f8d"/><stop offset="0.145" stop-color="#414487"/><stop offset="0.164" stop-color="#481a6c"/><stop offset="1.000" stop-color="#481769"/></linearGradient><linearGradient id="Eb11" gradientUnits="userSpaceOnUse" x1="354.7" y1="1210.0" x2="350.8" y2="1363.8"><stop offset="0.000" stop-color="#d2e21b"/><stop offset="0.039" stop-color="#c2df23"/><stop offset="0.049" stop-color="#4ec36b"/><stop offset="0.058" stop-color="#21918c"/><stop offset="0.104" stop-color="#25848e"/><stop offset="0.123" stop-color="#355f8d"/><stop offset="0.143" stop-color="#414487"/><stop offset="0.162" stop-color="#481a6c"/><stop offset="1.000" stop-color="#481769"/></linearGradient><linearGradient id="Eb12" gradientUnits="userSpaceOnUse" x1="146.5" y1="1235.1" x2="150.2" y2="1391.0"><stop offset="0.000" stop-color="#f8e621"/><stop offset="0.038" stop-color="#ece51b"/><stop offset="0.048" stop-color="#4ec36b"/><stop offset="0.058" stop-color="#21918c"/><stop offset="0.103" stop-color="#25848e"/><stop offset="0.122" stop-color="#355f8d"/><stop offset="0.141" stop-color="#414487"/><stop offset="0.160" stop-color="#481a6c"/><stop offset="1.000" stop-color="#481769"/></linearGradient><linearGradient id="Eb13" gradientUnits="userSpaceOnUse" x1="175.2" y1="1260.4" x2="178.0" y2="1418.0"><stop offset="0.000" stop-color="#e5e419"/><stop offset="0.038" stop-color="#d8e219"/><stop offset="0.048" stop-color="#4ec36b"/><stop offset="0.057" stop-color="#21918c"/><stop offset="0.102" stop-color="#25848e"/><stop offset="0.121" stop-color="#355f8d"/><stop offset="0.140" stop-color="#414487"/><stop offset="0.159" stop-color="#481a6c"/><stop offset="1.000" stop-color="#481769"/></linearGradient><linearGradient id="Eb14" gradientUnits="userSpaceOnUse" x1="205.8" y1="1288.2" x2="207.5" y2="1447.5"><stop offset="0.000" stop-color="#fde725"/><stop offset="0.038" stop-color="#f1e51d"/><stop offset="0.047" stop-color="#4ec36b"/><stop offset="0.056" stop-color="#21918c"/><stop offset="0.100" stop-color="#25848e"/><stop offset="0.119" stop-color="#355f8d"/><stop offset="0.138" stop-color="#414487"/><stop offset="0.157" stop-color="#481a6c"/><stop offset="1.000" stop-color="#481769"/></linearGradient></defs><line x1="93.9" y1="1190.2" x2="99.6" y2="1336.9" stroke="url(#Eb0)" stroke-width="6.1" stroke-linecap="round"/><line x1="128.1" y1="1180.9" x2="131.9" y2="1326.8" stroke="url(#Eb1)" stroke-width="6.1" stroke-linecap="round"/><line x1="156.6" y1="1173.3" x2="159.0" y2="1318.4" stroke="url(#Eb2)" stroke-width="6.1" stroke-linecap="round"/><line x1="184.8" y1="1166.6" x2="187.0" y2="1310.8" stroke="url(#Eb3)" stroke-width="6.1" stroke-linecap="round"/><line x1="212.6" y1="1159.9" x2="214.0" y2="1301.5" stroke="url(#Eb4)" stroke-width="6.1" stroke-linecap="round"/><line x1="240.9" y1="1153.1" x2="241.2" y2="1296.5" stroke="url(#Eb5)" stroke-width="6.1" stroke-linecap="round"/><line x1="269.5" y1="1148.1" x2="268.2" y2="1290.6" stroke="url(#Eb6)" stroke-width="6.1" stroke-linecap="round"/><line x1="295.2" y1="1140.2" x2="293.8" y2="1281.8" stroke="url(#Eb7)" stroke-width="6.1" stroke-linecap="round"/><line x1="232.0" y1="1183.5" x2="232.5" y2="1328.5" stroke="url(#Eb8)" stroke-width="6.1" stroke-linecap="round"/><line x1="251.0" y1="1209.6" x2="251.3" y2="1357.2" stroke="url(#Eb9)" stroke-width="6.1" stroke-linecap="round"/><line x1="277.0" y1="1202.8" x2="276.3" y2="1349.6" stroke="url(#Eb10)" stroke-width="6.1" stroke-linecap="round"/><line x1="354.6" y1="1212.7" x2="350.9" y2="1361.1" stroke="url(#Eb11)" stroke-width="6.1" stroke-linecap="round"/><line x1="146.6" y1="1237.8" x2="150.1" y2="1388.3" stroke="url(#Eb12)" stroke-width="6.1" stroke-linecap="round"/><line x1="175.2" y1="1263.1" x2="178.0" y2="1415.3" stroke="url(#Eb13)" stroke-width="6.1" stroke-linecap="round"/><line x1="205.8" y1="1290.9" x2="207.5" y2="1444.8" stroke="url(#Eb14)" stroke-width="6.1" stroke-linecap="round"/>
<rect x="397.4" y="1089.1" width="51.1" height="210.8" rx="2" fill="#ffffff" fill-opacity="0.85" stroke="#d6d6d6" stroke-width="0.8"/>
<circle cx="410.1" cy="1097.3" r="2.4" fill="#dfe318"/>
<text x="427.6" y="1097.3" font-size="9.5" text-anchor="start" dominant-baseline="central" fill="#262626" font-weight="normal" xml:space="preserve">P1</text>
<circle cx="410.1" cy="1110.9" r="2.4" fill="#d2e21b"/>
<text x="427.6" y="1110.9" font-size="9.5" text-anchor="start" dominant-baseline="central" fill="#262626" font-weight="normal" xml:space="preserve"> P2</text>
<circle cx="410.1" cy="1124.7" r="2.4" fill="#bddf26"/>
<text x="427.6" y="1124.7" font-size="9.5" text-anchor="start" dominant-baseline="central" fill="#262626" font-weight="normal" xml:space="preserve"> P3</text>
<circle cx="410.1" cy="1138.6" r="2.4" fill="#dfe318"/>
<text x="427.6" y="1138.6" font-size="9.5" text-anchor="start" dominant-baseline="central" fill="#262626" font-weight="normal" xml:space="preserve">P4</text>
<circle cx="410.1" cy="1152.2" r="2.4" fill="#b0dd2f"/>
<text x="427.6" y="1152.2" font-size="9.5" text-anchor="start" dominant-baseline="central" fill="#262626" font-weight="normal" xml:space="preserve"> P5</text>
<circle cx="410.1" cy="1166.6" r="2.4" fill="#bddf26"/>
<text x="427.6" y="1166.6" font-size="9.5" text-anchor="start" dominant-baseline="central" fill="#262626" font-weight="normal" xml:space="preserve">P6</text>
<circle cx="410.1" cy="1180.1" r="2.4" fill="#d2e21b"/>
<text x="427.6" y="1180.1" font-size="9.5" text-anchor="start" dominant-baseline="central" fill="#262626" font-weight="normal" xml:space="preserve">P7</text>
<circle cx="410.1" cy="1193.8" r="2.4" fill="#dfe318"/>
<text x="427.6" y="1193.8" font-size="9.5" text-anchor="start" dominant-baseline="central" fill="#262626" font-weight="normal" xml:space="preserve">P8</text>
<circle cx="410.1" cy="1207.6" r="2.4" fill="#bddf26"/>
<text x="427.6" y="1207.6" font-size="9.5" text-anchor="start" dominant-baseline="central" fill="#262626" font-weight="normal" xml:space="preserve">P9</text>
<circle cx="410.1" cy="1221.5" r="2.4" fill="#bddf26"/>
<text x="427.6" y="1221.5" font-size="9.5" text-anchor="start" dominant-baseline="central" fill="#262626" font-weight="normal" xml:space="preserve">P10</text>
<circle cx="410.1" cy="1235.3" r="2.4" fill="#cae11f"/>
<text x="427.6" y="1235.3" font-size="9.5" text-anchor="start" dominant-baseline="central" fill="#262626" font-weight="normal" xml:space="preserve">P11</text>
<circle cx="410.1" cy="1249.2" r="2.4" fill="#d2e21b"/>
<text x="427.6" y="1249.2" font-size="9.5" text-anchor="start" dominant-baseline="central" fill="#262626" font-weight="normal" xml:space="preserve">P12</text>
<circle cx="410.1" cy="1263.0" r="2.4" fill="#bddf26"/>
<text x="427.6" y="1263.0" font-size="9.5" text-anchor="start" dominant-baseline="central" fill="#262626" font-weight="normal" xml:space="preserve">P13</text>
<circle cx="410.1" cy="1276.9" r="2.4" fill="#b0dd2f"/>
<text x="427.6" y="1276.9" font-size="9.5" text-anchor="start" dominant-baseline="central" fill="#262626" font-weight="normal" xml:space="preserve">P14</text>
<circle cx="410.1" cy="1290.7" r="2.4" fill="#a8db34"/>
<text x="427.6" y="1290.7" font-size="9.5" text-anchor="start" dominant-baseline="central" fill="#262626" font-weight="normal" xml:space="preserve">P15</text>
<text x="246.3" y="1075.0" font-size="12.5" text-anchor="middle" dominant-baseline="central" fill="#262626" font-weight="normal" textLength="195.5" lengthAdjust="spacingAndGlyphs" >Oxygen profile in the Pacific Sector</text>
<defs><linearGradient id="Ecb" x1="0" y1="1" x2="0" y2="0"><stop offset="0.000" stop-color="#440154"/><stop offset="0.062" stop-color="#48186a"/><stop offset="0.125" stop-color="#472d7b"/><stop offset="0.188" stop-color="#424086"/><stop offset="0.250" stop-color="#3b528b"/><stop offset="0.312" stop-color="#33638d"/><stop offset="0.375" stop-color="#2c728e"/><stop offset="0.438" stop-color="#26828e"/><stop offset="0.500" stop-color="#21918c"/><stop offset="0.562" stop-color="#1fa088"/><stop offset="0.625" stop-color="#28ae80"/><stop offset="0.688" stop-color="#3fbc73"/><stop offset="0.750" stop-color="#5ec962"/><stop offset="0.812" stop-color="#84d44b"/><stop offset="0.875" stop-color="#addc30"/><stop offset="0.938" stop-color="#d8e219"/><stop offset="1.000" stop-color="#fde725"/></linearGradient></defs>
<rect x="479.4" y="1165.7" width="24.8" height="250.3" fill="url(#Ecb)" stroke="#262626" stroke-width="0.8"/>
<line x1="504.2" y1="1170.3" x2="507.7" y2="1170.3" stroke="#262626" stroke-width="0.8" />
<text x="510.6" y="1170.3" font-size="10" text-anchor="start" dominant-baseline="central" fill="#262626" font-weight="normal" >11</text>
<line x1="504.2" y1="1213.8" x2="507.7" y2="1213.8" stroke="#262626" stroke-width="0.8" />
<text x="510.6" y="1213.8" font-size="10" text-anchor="start" dominant-baseline="central" fill="#262626" font-weight="normal" >10</text>
<line x1="504.2" y1="1257.1" x2="507.7" y2="1257.1" stroke="#262626" stroke-width="0.8" />
<text x="510.6" y="1257.1" font-size="10" text-anchor="start" dominant-baseline="central" fill="#262626" font-weight="normal" >9</text>
<line x1="504.2" y1="1300.4" x2="507.7" y2="1300.4" stroke="#262626" stroke-width="0.8" />
<text x="510.6" y="1300.4" font-size="10" text-anchor="start" dominant-baseline="central" fill="#262626" font-weight="normal" >8</text>
<line x1="504.2" y1="1343.9" x2="507.7" y2="1343.9" stroke="#262626" stroke-width="0.8" />
<text x="510.6" y="1343.9" font-size="10" text-anchor="start" dominant-baseline="central" fill="#262626" font-weight="normal" >7</text>
<line x1="504.2" y1="1387.2" x2="507.7" y2="1387.2" stroke="#262626" stroke-width="0.8" />
<text x="510.6" y="1387.2" font-size="10" text-anchor="start" dominant-baseline="central" fill="#262626" font-weight="normal" >6</text>
<text x="530.8" y="1292.5" font-size="10.5" text-anchor="middle" dominant-baseline="central" fill="#262626" font-weight="normal" transform="rotate(-90 530.8 1292.5)" textLength="122.7" lengthAdjust="spacingAndGlyphs" >Dissolved oxygen [mg L⁻¹]</text>
</g><g id="B" class="t3">
<polygon points="852.5,297.9 1071.0,234.6 1072.6,70.5 844.8,127.7" fill="#f2f2f2" />
<polygon points="1207.0,348.5 1071.0,234.6 1072.6,70.5 1214.7,174.1" fill="#f9f9f9" />
<polygon points="975.4,424.1 1207.0,348.5 1071.0,234.6 852.5,297.9" fill="#f5f5f5" />
<g stroke-linecap="butt"><line x1="866.7" y1="293.8" x2="859.7" y2="124.0" stroke="#b9b9b9" stroke-width="1.2" /><line x1="990.5" y1="419.1" x2="866.7" y2="293.8" stroke="#b9b9b9" stroke-width="1.2" /><line x1="908.0" y1="281.8" x2="902.8" y2="113.2" stroke="#b9b9b9" stroke-width="1.2" /><line x1="1034.4" y1="404.8" x2="908.0" y2="281.8" stroke="#b9b9b9" stroke-width="1.2" /><line x1="948.6" y1="270.1" x2="945.1" y2="102.5" stroke="#b9b9b9" stroke-width="1.2" /><line x1="1077.5" y1="390.8" x2="948.6" y2="270.1" stroke="#b9b9b9" stroke-width="1.2" /><line x1="988.4" y1="258.5" x2="986.6" y2="92.1" stroke="#b9b9b9" stroke-width="1.2" /><line x1="1119.7" y1="377.0" x2="988.4" y2="258.5" stroke="#b9b9b9" stroke-width="1.2" /><line x1="1027.6" y1="247.2" x2="1027.3" y2="81.9" stroke="#b9b9b9" stroke-width="1.2" /><line x1="1161.0" y1="363.5" x2="1027.6" y2="247.2" stroke="#b9b9b9" stroke-width="1.2" /><line x1="1066.0" y1="236.1" x2="1067.3" y2="71.8" stroke="#b9b9b9" stroke-width="1.2" /><line x1="1201.6" y1="350.3" x2="1066.0" y2="236.1" stroke="#b9b9b9" stroke-width="1.2" /><line x1="1088.9" y1="249.6" x2="1091.2" y2="84.1" stroke="#b9b9b9" stroke-width="1.2" /><line x1="868.6" y1="314.4" x2="1088.9" y2="249.6" stroke="#b9b9b9" stroke-width="1.2" /><line x1="1117.2" y1="273.3" x2="1120.7" y2="105.6" stroke="#b9b9b9" stroke-width="1.2" /><line x1="894.1" y1="340.6" x2="1117.2" y2="273.3" stroke="#b9b9b9" stroke-width="1.2" /><line x1="1146.5" y1="297.9" x2="1151.3" y2="127.9" stroke="#b9b9b9" stroke-width="1.2" /><line x1="920.6" y1="367.8" x2="1146.5" y2="297.9" stroke="#b9b9b9" stroke-width="1.2" /><line x1="1176.9" y1="323.4" x2="1183.2" y2="151.2" stroke="#b9b9b9" stroke-width="1.2" /><line x1="948.1" y1="396.1" x2="1176.9" y2="323.4" stroke="#b9b9b9" stroke-width="1.2" /><line x1="845.3" y1="138.7" x2="1072.5" y2="81.0" stroke="#b9b9b9" stroke-width="1.2" /><line x1="1214.2" y1="185.4" x2="1072.5" y2="81.0" stroke="#b9b9b9" stroke-width="1.2" /><line x1="846.7" y1="169.3" x2="1072.2" y2="110.5" stroke="#b9b9b9" stroke-width="1.2" /><line x1="1212.8" y1="216.8" x2="1072.2" y2="110.5" stroke="#b9b9b9" stroke-width="1.2" /><line x1="848.1" y1="199.5" x2="1071.9" y2="139.7" stroke="#b9b9b9" stroke-width="1.2" /><line x1="1211.4" y1="247.8" x2="1071.9" y2="139.7" stroke="#b9b9b9" stroke-width="1.2" /><line x1="849.4" y1="229.3" x2="1071.7" y2="168.4" stroke="#b9b9b9" stroke-width="1.2" /><line x1="1210.1" y1="278.3" x2="1071.7" y2="168.4" stroke="#b9b9b9" stroke-width="1.2" /><line x1="850.7" y1="258.6" x2="1071.4" y2="196.7" stroke="#b9b9b9" stroke-width="1.2" /><line x1="1208.7" y1="308.3" x2="1071.4" y2="196.7" stroke="#b9b9b9" stroke-width="1.2" /><line x1="852.0" y1="287.5" x2="1071.1" y2="224.6" stroke="#b9b9b9" stroke-width="1.2" /><line x1="1207.4" y1="337.9" x2="1071.1" y2="224.6" stroke="#b9b9b9" stroke-width="1.2" /></g>
<line x1="852.5" y1="297.9" x2="844.8" y2="127.7" stroke="#333333" stroke-width="1.0" /><line x1="975.4" y1="424.1" x2="852.5" y2="297.9" stroke="#333333" stroke-width="1.0" /><line x1="975.4" y1="424.1" x2="1207.0" y2="348.5" stroke="#333333" stroke-width="1.0" /><line x1="841.0" y1="139.8" x2="847.2" y2="138.2" stroke="#333333" stroke-width="1.0" /><line x1="842.4" y1="170.4" x2="848.6" y2="168.8" stroke="#333333" stroke-width="1.0" /><line x1="843.8" y1="200.6" x2="849.9" y2="199.0" stroke="#333333" stroke-width="1.0" /><line x1="845.2" y1="230.4" x2="851.3" y2="228.7" stroke="#333333" stroke-width="1.0" /><line x1="846.5" y1="259.8" x2="852.6" y2="258.1" stroke="#333333" stroke-width="1.0" /><line x1="847.9" y1="288.7" x2="853.9" y2="287.0" stroke="#333333" stroke-width="1.0" /><line x1="864.4" y1="315.6" x2="870.4" y2="313.8" stroke="#333333" stroke-width="1.0" /><line x1="889.8" y1="341.8" x2="896.0" y2="340.0" stroke="#333333" stroke-width="1.0" /><line x1="916.3" y1="369.1" x2="922.5" y2="367.2" stroke="#333333" stroke-width="1.0" /><line x1="943.8" y1="397.5" x2="950.1" y2="395.5" stroke="#333333" stroke-width="1.0" /><line x1="993.9" y1="422.6" x2="988.9" y2="417.5" stroke="#333333" stroke-width="1.0" /><line x1="1037.9" y1="408.2" x2="1032.8" y2="403.2" stroke="#333333" stroke-width="1.0" /><line x1="1081.0" y1="394.1" x2="1075.8" y2="389.2" stroke="#333333" stroke-width="1.0" /><line x1="1123.2" y1="380.3" x2="1117.9" y2="375.5" stroke="#333333" stroke-width="1.0" /><line x1="1164.7" y1="366.7" x2="1159.3" y2="362.0" stroke="#333333" stroke-width="1.0" /><line x1="1205.3" y1="353.4" x2="1199.9" y2="348.8" stroke="#333333" stroke-width="1.0" />
<g class="t3">
<text x="828.0" y="141.0" font-size="10" text-anchor="middle" dominant-baseline="central" fill="#262626" font-weight="normal" >0</text>
<text x="828.5" y="171.2" font-size="10" text-anchor="middle" dominant-baseline="central" fill="#262626" font-weight="normal" >300</text>
<text x="830.6" y="201.8" font-size="10" text-anchor="middle" dominant-baseline="central" fill="#262626" font-weight="normal" >600</text>
<text x="831.7" y="231.9" font-size="10" text-anchor="middle" dominant-baseline="central" fill="#262626" font-weight="normal" >900</text>
<text x="833.3" y="260.4" font-size="10" text-anchor="middle" dominant-baseline="central" fill="#262626" font-weight="normal" >1200</text>
<text x="834.9" y="289.7" font-size="10" text-anchor="middle" dominant-baseline="central" fill="#262626" font-weight="normal" >1500</text>
<text x="857.3" y="330.1" font-size="10" text-anchor="middle" dominant-baseline="central" fill="#262626" font-weight="normal" >−63</text>
<text x="883.0" y="357.0" font-size="10" text-anchor="middle" dominant-baseline="central" fill="#262626" font-weight="normal" >−64</text>
<text x="909.0" y="384.5" font-size="10" text-anchor="middle" dominant-baseline="central" fill="#262626" font-weight="normal" >−65</text>
<text x="936.7" y="413.5" font-size="10" text-anchor="middle" dominant-baseline="central" fill="#262626" font-weight="normal" >−66</text>
<text x="997.4" y="439.2" font-size="10" text-anchor="middle" dominant-baseline="central" fill="#262626" font-weight="normal" >45</text>
<text x="1042.2" y="425.0" font-size="10" text-anchor="middle" dominant-baseline="central" fill="#262626" font-weight="normal" >50</text>
<text x="1084.7" y="410.7" font-size="10" text-anchor="middle" dominant-baseline="central" fill="#262626" font-weight="normal" >55</text>
<text x="1126.5" y="396.6" font-size="10" text-anchor="middle" dominant-baseline="central" fill="#262626" font-weight="normal" >60</text>
<text x="1167.6" y="383.3" font-size="10" text-anchor="middle" dominant-baseline="central" fill="#262626" font-weight="normal" >65</text>
<text x="1208.7" y="369.8" font-size="10" text-anchor="middle" dominant-baseline="central" fill="#262626" font-weight="normal" >70</text>
<text x="812.5" y="210.8" font-size="10.5" text-anchor="middle" dominant-baseline="central" fill="#262626" font-weight="normal" transform="rotate(90 812.5 210.8)" textLength="48" lengthAdjust="spacingAndGlyphs" >Depth [m]</text>
<text x="886.6" y="383.3" font-size="10.5" text-anchor="middle" dominant-baseline="central" fill="#262626" font-weight="normal" transform="rotate(47 886.6 383.3)" textLength="39" lengthAdjust="spacingAndGlyphs" >Latitude</text>
<text x="1108.8" y="419.5" font-size="10.5" text-anchor="middle" dominant-baseline="central" fill="#262626" font-weight="normal" transform="rotate(-19 1108.8 419.5)" textLength="47" lengthAdjust="spacingAndGlyphs" >Longitude</text>
</g>
<g class="t3">
<text x="938.4" y="143.3" font-size="9.3" text-anchor="middle" dominant-baseline="central" fill="#1a1a1a" font-weight="normal" >I20</text>
<text x="974.0" y="172.7" font-size="9.3" text-anchor="middle" dominant-baseline="central" fill="#1a1a1a" font-weight="normal" >I19</text>
<text x="997.3" y="145.7" font-size="9.3" text-anchor="middle" dominant-baseline="central" fill="#1a1a1a" font-weight="normal" >I16</text>
<text x="1019.1" y="163.4" font-size="9.3" text-anchor="middle" dominant-baseline="central" fill="#1a1a1a" font-weight="normal" >I17</text>
<text x="1039.5" y="95.4" font-size="9.3" text-anchor="middle" dominant-baseline="central" fill="#1a1a1a" font-weight="normal" >I3</text>
<text x="1071.1" y="87.0" font-size="9.3" text-anchor="middle" dominant-baseline="central" fill="#1a1a1a" font-weight="normal" >I2</text>
<text x="1088.3" y="132.5" font-size="9.3" text-anchor="middle" dominant-baseline="central" fill="#1a1a1a" font-weight="normal" >I4</text>
<text x="1120.9" y="124.0" font-size="9.3" text-anchor="middle" dominant-baseline="central" fill="#1a1a1a" font-weight="normal" >I1</text>
<text x="977.5" y="234.5" font-size="9.3" text-anchor="middle" dominant-baseline="central" fill="#1a1a1a" font-weight="normal" >I21</text>
<text x="1023.5" y="224.4" font-size="9.3" text-anchor="middle" dominant-baseline="central" fill="#1a1a1a" font-weight="normal" >I18</text>

</g>
<defs><linearGradient id="Bb0" gradientUnits="userSpaceOnUse" x1="930.4" y1="146.4" x2="933.9" y2="296.5"><stop offset="0.000" stop-color="#1e9c89"/><stop offset="0.040" stop-color="#21918c"/><stop offset="0.053" stop-color="#471365"/><stop offset="0.080" stop-color="#471365"/><stop offset="0.100" stop-color="#25848e"/><stop offset="0.147" stop-color="#9bd93c"/><stop offset="0.240" stop-color="#dfe318"/><stop offset="0.373" stop-color="#d2e21b"/><stop offset="0.500" stop-color="#7ad151"/><stop offset="0.666" stop-color="#44bf70"/><stop offset="1.000" stop-color="#2ab07f"/></linearGradient><linearGradient id="Bb1" gradientUnits="userSpaceOnUse" x1="965.9" y1="175.0" x2="968.7" y2="328.9"><stop offset="0.000" stop-color="#25848e"/><stop offset="0.058" stop-color="#287d8e"/><stop offset="0.071" stop-color="#472a7a"/><stop offset="0.143" stop-color="#463480"/><stop offset="0.162" stop-color="#25848e"/><stop offset="0.195" stop-color="#22a884"/><stop offset="0.247" stop-color="#4ec36b"/><stop offset="0.299" stop-color="#21918c"/><stop offset="0.325" stop-color="#25848e"/><stop offset="0.409" stop-color="#44bf70"/><stop offset="0.455" stop-color="#3bbb75"/><stop offset="0.520" stop-color="#22a884"/><stop offset="0.715" stop-color="#1fa188"/><stop offset="1.000" stop-color="#1e9d89"/></linearGradient><linearGradient id="Bb2" gradientUnits="userSpaceOnUse" x1="989.6" y1="149.5" x2="990.6" y2="299.6"><stop offset="0.000" stop-color="#1e9c89"/><stop offset="0.033" stop-color="#21918c"/><stop offset="0.047" stop-color="#471365"/><stop offset="0.067" stop-color="#471365"/><stop offset="0.087" stop-color="#25848e"/><stop offset="0.140" stop-color="#9bd93c"/><stop offset="0.233" stop-color="#dfe318"/><stop offset="0.400" stop-color="#d2e21b"/><stop offset="0.533" stop-color="#86d549"/><stop offset="0.733" stop-color="#4ec36b"/><stop offset="1.000" stop-color="#34b679"/></linearGradient><linearGradient id="Bb3" gradientUnits="userSpaceOnUse" x1="1011.5" y1="167.3" x2="1011.7" y2="319.6"><stop offset="0.000" stop-color="#3e4989"/><stop offset="0.059" stop-color="#414487"/><stop offset="0.085" stop-color="#44bf70"/><stop offset="0.105" stop-color="#bddf26"/><stop offset="0.263" stop-color="#dfe318"/><stop offset="0.525" stop-color="#9bd93c"/><stop offset="0.788" stop-color="#4ec36b"/><stop offset="1.000" stop-color="#37b878"/></linearGradient><linearGradient id="Bb4" gradientUnits="userSpaceOnUse" x1="1034.8" y1="99.3" x2="1034.8" y2="243.9"><stop offset="0.000" stop-color="#355f8d"/><stop offset="0.055" stop-color="#375a8c"/><stop offset="0.069" stop-color="#482475"/><stop offset="0.083" stop-color="#463480"/><stop offset="0.104" stop-color="#5ec962"/><stop offset="0.131" stop-color="#d2e21b"/><stop offset="0.553" stop-color="#dfe318"/><stop offset="0.761" stop-color="#9bd93c"/><stop offset="1.000" stop-color="#5cc863"/></linearGradient><linearGradient id="Bb5" gradientUnits="userSpaceOnUse" x1="1066.8" y1="90.8" x2="1065.3" y2="235.4"><stop offset="0.000" stop-color="#2a788e"/><stop offset="0.048" stop-color="#2c738e"/><stop offset="0.062" stop-color="#471365"/><stop offset="0.083" stop-color="#482475"/><stop offset="0.104" stop-color="#5ec962"/><stop offset="0.131" stop-color="#d2e21b"/><stop offset="0.553" stop-color="#dfe318"/><stop offset="0.761" stop-color="#9bd93c"/><stop offset="1.000" stop-color="#63cb5f"/></linearGradient><linearGradient id="Bb6" gradientUnits="userSpaceOnUse" x1="1083.3" y1="136.4" x2="1081.5" y2="284.1"><stop offset="0.000" stop-color="#481d6f"/><stop offset="0.047" stop-color="#481d6f"/><stop offset="0.068" stop-color="#22a884"/><stop offset="0.102" stop-color="#d2e21b"/><stop offset="0.406" stop-color="#dfe318"/><stop offset="0.643" stop-color="#9bd93c"/><stop offset="1.000" stop-color="#52c569"/></linearGradient><linearGradient id="Bb7" gradientUnits="userSpaceOnUse" x1="1116.2" y1="127.9" x2="1113.2" y2="274.8"><stop offset="0.000" stop-color="#355f8d"/><stop offset="0.027" stop-color="#375a8c"/><stop offset="0.034" stop-color="#471365"/><stop offset="0.082" stop-color="#481d6f"/><stop offset="0.116" stop-color="#21918c"/><stop offset="0.150" stop-color="#4ec36b"/><stop offset="0.306" stop-color="#44bf70"/><stop offset="0.681" stop-color="#26ad81"/><stop offset="1.000" stop-color="#1fa187"/></linearGradient><linearGradient id="Bb8" gradientUnits="userSpaceOnUse" x1="976.7" y1="239.1" x2="978.7" y2="396.1"><stop offset="0.000" stop-color="#1e9c89"/><stop offset="0.025" stop-color="#21918c"/><stop offset="0.038" stop-color="#460b5e"/><stop offset="0.140" stop-color="#471365"/><stop offset="0.185" stop-color="#2f6c8e"/><stop offset="0.229" stop-color="#21918c"/><stop offset="1.000" stop-color="#1f948c"/></linearGradient><linearGradient id="Bb9" gradientUnits="userSpaceOnUse" x1="1023.5" y1="230.6" x2="1023.5" y2="386.1"><stop offset="0.000" stop-color="#21918c"/><stop offset="0.032" stop-color="#25848e"/><stop offset="0.051" stop-color="#460b5e"/><stop offset="0.251" stop-color="#471365"/><stop offset="0.270" stop-color="#355f8d"/><stop offset="0.302" stop-color="#25848e"/><stop offset="1.000" stop-color="#25848e"/></linearGradient></defs><line x1="930.5" y1="149.1" x2="933.8" y2="293.8" stroke="url(#Bb0)" stroke-width="6.1" stroke-linecap="round"/><line x1="965.9" y1="177.7" x2="968.7" y2="326.2" stroke="url(#Bb1)" stroke-width="6.1" stroke-linecap="round"/><line x1="989.6" y1="152.2" x2="990.6" y2="296.9" stroke="url(#Bb2)" stroke-width="6.1" stroke-linecap="round"/><line x1="1011.5" y1="170.0" x2="1011.7" y2="316.9" stroke="url(#Bb3)" stroke-width="6.1" stroke-linecap="round"/><line x1="1034.8" y1="102.0" x2="1034.8" y2="241.2" stroke="url(#Bb4)" stroke-width="6.1" stroke-linecap="round"/><line x1="1066.8" y1="93.5" x2="1065.3" y2="232.7" stroke="url(#Bb5)" stroke-width="6.1" stroke-linecap="round"/><line x1="1083.3" y1="139.1" x2="1081.5" y2="281.4" stroke="url(#Bb6)" stroke-width="6.1" stroke-linecap="round"/><line x1="1116.1" y1="130.6" x2="1113.3" y2="272.1" stroke="url(#Bb7)" stroke-width="6.1" stroke-linecap="round"/><line x1="976.7" y1="241.8" x2="978.7" y2="393.4" stroke="url(#Bb8)" stroke-width="6.1" stroke-linecap="round"/><line x1="1023.5" y1="233.3" x2="1023.5" y2="383.4" stroke="url(#Bb9)" stroke-width="6.1" stroke-linecap="round"/>
<rect x="1173.6" y="43.6" width="48.7" height="144.7" rx="2" fill="#ffffff" fill-opacity="0.85" stroke="#d6d6d6" stroke-width="0.8"/>
<circle cx="1186.4" cy="51.6" r="2.4" fill="#463480"/>
<text x="1202.8" y="51.6" font-size="10.3" text-anchor="start" dominant-baseline="central" fill="#262626" font-weight="normal" xml:space="preserve">I1</text>
<circle cx="1186.4" cy="66.0" r="2.4" fill="#355f8d"/>
<text x="1202.8" y="66.0" font-size="10.3" text-anchor="start" dominant-baseline="central" fill="#262626" font-weight="normal" xml:space="preserve">I2</text>
<circle cx="1186.4" cy="79.9" r="2.4" fill="#375a8c"/>
<text x="1202.8" y="79.9" font-size="10.3" text-anchor="start" dominant-baseline="central" fill="#262626" font-weight="normal" xml:space="preserve">I3</text>
<circle cx="1186.4" cy="94.3" r="2.4" fill="#472a7a"/>
<text x="1202.8" y="94.3" font-size="10.3" text-anchor="start" dominant-baseline="central" fill="#262626" font-weight="normal" xml:space="preserve">I4</text>
<circle cx="1186.4" cy="108.3" r="2.4" fill="#1e9c89"/>
<text x="1202.8" y="108.3" font-size="10.3" text-anchor="start" dominant-baseline="central" fill="#262626" font-weight="normal" xml:space="preserve">I16</text>
<circle cx="1186.4" cy="122.7" r="2.4" fill="#463480"/>
<text x="1202.8" y="122.7" font-size="10.3" text-anchor="start" dominant-baseline="central" fill="#262626" font-weight="normal" xml:space="preserve">I17</text>
<circle cx="1186.4" cy="136.8" r="2.4" fill="#32648e"/>
<text x="1202.8" y="136.8" font-size="10.3" text-anchor="start" dominant-baseline="central" fill="#262626" font-weight="normal" xml:space="preserve">I18</text>
<circle cx="1186.4" cy="151.0" r="2.4" fill="#287d8e"/>
<text x="1202.8" y="151.0" font-size="10.3" text-anchor="start" dominant-baseline="central" fill="#262626" font-weight="normal" xml:space="preserve">I19</text>
<circle cx="1186.4" cy="165.1" r="2.4" fill="#22a884"/>
<text x="1202.8" y="165.1" font-size="10.3" text-anchor="start" dominant-baseline="central" fill="#262626" font-weight="normal" xml:space="preserve">I20</text>
<circle cx="1186.4" cy="179.5" r="2.4" fill="#1fa188"/>
<text x="1202.8" y="179.5" font-size="10.3" text-anchor="start" dominant-baseline="central" fill="#262626" font-weight="normal" xml:space="preserve">I21</text>
<text x="1019.0" y="30.8" font-size="12.5" text-anchor="middle" dominant-baseline="central" fill="#262626" font-weight="normal" textLength="239" lengthAdjust="spacingAndGlyphs" >Temperature profile in the Indian sector</text>
<defs><linearGradient id="Bcb" x1="0" y1="1" x2="0" y2="0"><stop offset="0.000" stop-color="#440154"/><stop offset="0.062" stop-color="#48186a"/><stop offset="0.125" stop-color="#472d7b"/><stop offset="0.188" stop-color="#424086"/><stop offset="0.250" stop-color="#3b528b"/><stop offset="0.312" stop-color="#33638d"/><stop offset="0.375" stop-color="#2c728e"/><stop offset="0.438" stop-color="#26828e"/><stop offset="0.500" stop-color="#21918c"/><stop offset="0.562" stop-color="#1fa088"/><stop offset="0.625" stop-color="#28ae80"/><stop offset="0.688" stop-color="#3fbc73"/><stop offset="0.750" stop-color="#5ec962"/><stop offset="0.812" stop-color="#84d44b"/><stop offset="0.875" stop-color="#addc30"/><stop offset="0.938" stop-color="#d8e219"/><stop offset="1.000" stop-color="#fde725"/></linearGradient></defs>
<rect x="1253.5" y="141.9" width="21.3" height="205.4" fill="url(#Bcb)" stroke="#262626" stroke-width="0.8"/>
<line x1="1274.8" y1="167.1" x2="1278.3" y2="167.1" stroke="#262626" stroke-width="0.8" />
<text x="1281.0" y="167.1" font-size="10" text-anchor="start" dominant-baseline="central" fill="#262626" font-weight="normal" >1.5</text>
<line x1="1274.8" y1="193.8" x2="1278.3" y2="193.8" stroke="#262626" stroke-width="0.8" />
<text x="1281.0" y="193.8" font-size="10" text-anchor="start" dominant-baseline="central" fill="#262626" font-weight="normal" >1.0</text>
<line x1="1274.8" y1="221.0" x2="1278.3" y2="221.0" stroke="#262626" stroke-width="0.8" />
<text x="1281.0" y="221.0" font-size="10" text-anchor="start" dominant-baseline="central" fill="#262626" font-weight="normal" >0.5</text>
<line x1="1274.8" y1="248.2" x2="1278.3" y2="248.2" stroke="#262626" stroke-width="0.8" />
<text x="1281.0" y="248.2" font-size="10" text-anchor="start" dominant-baseline="central" fill="#262626" font-weight="normal" >0.0</text>
<line x1="1274.8" y1="275.4" x2="1278.3" y2="275.4" stroke="#262626" stroke-width="0.8" />
<text x="1281.0" y="275.4" font-size="10" text-anchor="start" dominant-baseline="central" fill="#262626" font-weight="normal" >−0.5</text>
<line x1="1274.8" y1="302.5" x2="1278.3" y2="302.5" stroke="#262626" stroke-width="0.8" />
<text x="1281.0" y="302.5" font-size="10" text-anchor="start" dominant-baseline="central" fill="#262626" font-weight="normal" >−1.0</text>
<line x1="1274.8" y1="329.7" x2="1278.3" y2="329.7" stroke="#262626" stroke-width="0.8" />
<text x="1281.0" y="329.7" font-size="10" text-anchor="start" dominant-baseline="central" fill="#262626" font-weight="normal" >−1.5</text>
<text x="1311.0" y="244.2" font-size="10.5" text-anchor="middle" dominant-baseline="central" fill="#262626" font-weight="normal" transform="rotate(-90 1311.0 244.2)" textLength="82.3" lengthAdjust="spacingAndGlyphs" >Temperature [° C]</text>
</g><g id="D" class="t3">
<polygon points="854.8,825.3 1073.3,762.0 1074.9,597.9 847.1,655.1" fill="#f2f2f2" />
<polygon points="1209.3,875.9 1073.3,762.0 1074.9,597.9 1217.0,701.5" fill="#f9f9f9" />
<polygon points="977.7,951.5 1209.3,875.9 1073.3,762.0 854.8,825.3" fill="#f5f5f5" />
<g stroke-linecap="butt"><line x1="869.0" y1="821.2" x2="862.0" y2="651.4" stroke="#b9b9b9" stroke-width="1.2" /><line x1="992.8" y1="946.5" x2="869.0" y2="821.2" stroke="#b9b9b9" stroke-width="1.2" /><line x1="910.3" y1="809.2" x2="905.1" y2="640.6" stroke="#b9b9b9" stroke-width="1.2" /><line x1="1036.7" y1="932.2" x2="910.3" y2="809.2" stroke="#b9b9b9" stroke-width="1.2" /><line x1="950.9" y1="797.5" x2="947.4" y2="629.9" stroke="#b9b9b9" stroke-width="1.2" /><line x1="1079.8" y1="918.2" x2="950.9" y2="797.5" stroke="#b9b9b9" stroke-width="1.2" /><line x1="990.7" y1="785.9" x2="988.9" y2="619.5" stroke="#b9b9b9" stroke-width="1.2" /><line x1="1122.0" y1="904.4" x2="990.7" y2="785.9" stroke="#b9b9b9" stroke-width="1.2" /><line x1="1029.9" y1="774.6" x2="1029.6" y2="609.3" stroke="#b9b9b9" stroke-width="1.2" /><line x1="1163.3" y1="890.9" x2="1029.9" y2="774.6" stroke="#b9b9b9" stroke-width="1.2" /><line x1="1068.3" y1="763.5" x2="1069.6" y2="599.2" stroke="#b9b9b9" stroke-width="1.2" /><line x1="1203.9" y1="877.7" x2="1068.3" y2="763.5" stroke="#b9b9b9" stroke-width="1.2" /><line x1="1091.2" y1="777.0" x2="1093.5" y2="611.5" stroke="#b9b9b9" stroke-width="1.2" /><line x1="870.9" y1="841.8" x2="1091.2" y2="777.0" stroke="#b9b9b9" stroke-width="1.2" /><line x1="1119.5" y1="800.7" x2="1123.0" y2="633.0" stroke="#b9b9b9" stroke-width="1.2" /><line x1="896.4" y1="868.0" x2="1119.5" y2="800.7" stroke="#b9b9b9" stroke-width="1.2" /><line x1="1148.8" y1="825.3" x2="1153.6" y2="655.3" stroke="#b9b9b9" stroke-width="1.2" /><line x1="922.9" y1="895.2" x2="1148.8" y2="825.3" stroke="#b9b9b9" stroke-width="1.2" /><line x1="1179.2" y1="850.8" x2="1185.5" y2="678.6" stroke="#b9b9b9" stroke-width="1.2" /><line x1="950.4" y1="923.5" x2="1179.2" y2="850.8" stroke="#b9b9b9" stroke-width="1.2" /><line x1="847.6" y1="666.1" x2="1074.8" y2="608.4" stroke="#b9b9b9" stroke-width="1.2" /><line x1="1216.5" y1="712.8" x2="1074.8" y2="608.4" stroke="#b9b9b9" stroke-width="1.2" /><line x1="849.0" y1="696.7" x2="1074.5" y2="637.9" stroke="#b9b9b9" stroke-width="1.2" /><line x1="1215.1" y1="744.2" x2="1074.5" y2="637.9" stroke="#b9b9b9" stroke-width="1.2" /><line x1="850.4" y1="726.9" x2="1074.2" y2="667.1" stroke="#b9b9b9" stroke-width="1.2" /><line x1="1213.7" y1="775.2" x2="1074.2" y2="667.1" stroke="#b9b9b9" stroke-width="1.2" /><line x1="851.7" y1="756.7" x2="1074.0" y2="695.8" stroke="#b9b9b9" stroke-width="1.2" /><line x1="1212.4" y1="805.7" x2="1074.0" y2="695.8" stroke="#b9b9b9" stroke-width="1.2" /><line x1="853.0" y1="786.0" x2="1073.7" y2="724.1" stroke="#b9b9b9" stroke-width="1.2" /><line x1="1211.0" y1="835.7" x2="1073.7" y2="724.1" stroke="#b9b9b9" stroke-width="1.2" /><line x1="854.3" y1="814.9" x2="1073.4" y2="752.0" stroke="#b9b9b9" stroke-width="1.2" /><line x1="1209.7" y1="865.3" x2="1073.4" y2="752.0" stroke="#b9b9b9" stroke-width="1.2" /></g>
<line x1="854.8" y1="825.3" x2="847.1" y2="655.1" stroke="#333333" stroke-width="1.0" /><line x1="977.7" y1="951.5" x2="854.8" y2="825.3" stroke="#333333" stroke-width="1.0" /><line x1="977.7" y1="951.5" x2="1209.3" y2="875.9" stroke="#333333" stroke-width="1.0" /><line x1="843.3" y1="667.2" x2="849.5" y2="665.6" stroke="#333333" stroke-width="1.0" /><line x1="844.7" y1="697.8" x2="850.9" y2="696.2" stroke="#333333" stroke-width="1.0" /><line x1="846.1" y1="728.0" x2="852.2" y2="726.4" stroke="#333333" stroke-width="1.0" /><line x1="847.5" y1="757.8" x2="853.6" y2="756.1" stroke="#333333" stroke-width="1.0" /><line x1="848.8" y1="787.2" x2="854.9" y2="785.5" stroke="#333333" stroke-width="1.0" /><line x1="850.2" y1="816.1" x2="856.2" y2="814.4" stroke="#333333" stroke-width="1.0" /><line x1="866.7" y1="843.0" x2="872.7" y2="841.2" stroke="#333333" stroke-width="1.0" /><line x1="892.1" y1="869.2" x2="898.3" y2="867.4" stroke="#333333" stroke-width="1.0" /><line x1="918.6" y1="896.5" x2="924.8" y2="894.6" stroke="#333333" stroke-width="1.0" /><line x1="946.1" y1="924.9" x2="952.4" y2="922.9" stroke="#333333" stroke-width="1.0" /><line x1="996.2" y1="950.0" x2="991.2" y2="944.9" stroke="#333333" stroke-width="1.0" /><line x1="1040.2" y1="935.6" x2="1035.1" y2="930.6" stroke="#333333" stroke-width="1.0" /><line x1="1083.3" y1="921.5" x2="1078.1" y2="916.6" stroke="#333333" stroke-width="1.0" /><line x1="1125.5" y1="907.7" x2="1120.2" y2="902.9" stroke="#333333" stroke-width="1.0" /><line x1="1167.0" y1="894.1" x2="1161.6" y2="889.4" stroke="#333333" stroke-width="1.0" /><line x1="1207.6" y1="880.8" x2="1202.2" y2="876.2" stroke="#333333" stroke-width="1.0" />
<g class="t3">
<text x="830.3" y="668.4" font-size="10" text-anchor="middle" dominant-baseline="central" fill="#262626" font-weight="normal" >0</text>
<text x="830.8" y="698.6" font-size="10" text-anchor="middle" dominant-baseline="central" fill="#262626" font-weight="normal" >300</text>
<text x="832.9" y="729.2" font-size="10" text-anchor="middle" dominant-baseline="central" fill="#262626" font-weight="normal" >600</text>
<text x="834.0" y="759.3" font-size="10" text-anchor="middle" dominant-baseline="central" fill="#262626" font-weight="normal" >900</text>
<text x="835.6" y="787.8" font-size="10" text-anchor="middle" dominant-baseline="central" fill="#262626" font-weight="normal" >1200</text>
<text x="837.2" y="817.1" font-size="10" text-anchor="middle" dominant-baseline="central" fill="#262626" font-weight="normal" >1500</text>
<text x="859.6" y="857.5" font-size="10" text-anchor="middle" dominant-baseline="central" fill="#262626" font-weight="normal" >−63</text>
<text x="885.3" y="884.4" font-size="10" text-anchor="middle" dominant-baseline="central" fill="#262626" font-weight="normal" >−64</text>
<text x="911.3" y="911.9" font-size="10" text-anchor="middle" dominant-baseline="central" fill="#262626" font-weight="normal" >−65</text>
<text x="939.0" y="940.9" font-size="10" text-anchor="middle" dominant-baseline="central" fill="#262626" font-weight="normal" >−66</text>
<text x="999.7" y="966.6" font-size="10" text-anchor="middle" dominant-baseline="central" fill="#262626" font-weight="normal" >45</text>
<text x="1044.5" y="952.4" font-size="10" text-anchor="middle" dominant-baseline="central" fill="#262626" font-weight="normal" >50</text>
<text x="1087.0" y="938.1" font-size="10" text-anchor="middle" dominant-baseline="central" fill="#262626" font-weight="normal" >55</text>
<text x="1128.8" y="924.0" font-size="10" text-anchor="middle" dominant-baseline="central" fill="#262626" font-weight="normal" >60</text>
<text x="1169.9" y="910.7" font-size="10" text-anchor="middle" dominant-baseline="central" fill="#262626" font-weight="normal" >65</text>
<text x="1211.0" y="897.2" font-size="10" text-anchor="middle" dominant-baseline="central" fill="#262626" font-weight="normal" >70</text>
<text x="814.8" y="738.2" font-size="10.5" text-anchor="middle" dominant-baseline="central" fill="#262626" font-weight="normal" transform="rotate(90 814.8 738.2)" textLength="48" lengthAdjust="spacingAndGlyphs" >Depth [m]</text>
<text x="888.9" y="910.7" font-size="10.5" text-anchor="middle" dominant-baseline="central" fill="#262626" font-weight="normal" transform="rotate(47 888.9 910.7)" textLength="39" lengthAdjust="spacingAndGlyphs" >Latitude</text>
<text x="1111.1" y="946.9" font-size="10.5" text-anchor="middle" dominant-baseline="central" fill="#262626" font-weight="normal" transform="rotate(-19 1111.1 946.9)" textLength="47" lengthAdjust="spacingAndGlyphs" >Longitude</text>
</g>
<g class="t3">
<text x="940.7" y="670.7" font-size="9.3" text-anchor="middle" dominant-baseline="central" fill="#1a1a1a" font-weight="normal" >I20</text>
<text x="976.3" y="700.1" font-size="9.3" text-anchor="middle" dominant-baseline="central" fill="#1a1a1a" font-weight="normal" >I19</text>
<text x="999.6" y="673.1" font-size="9.3" text-anchor="middle" dominant-baseline="central" fill="#1a1a1a" font-weight="normal" >I16</text>
<text x="1021.4" y="690.8" font-size="9.3" text-anchor="middle" dominant-baseline="central" fill="#1a1a1a" font-weight="normal" >I17</text>
<text x="1041.8" y="622.8" font-size="9.3" text-anchor="middle" dominant-baseline="central" fill="#1a1a1a" font-weight="normal" >I3</text>
<text x="1073.4" y="614.4" font-size="9.3" text-anchor="middle" dominant-baseline="central" fill="#1a1a1a" font-weight="normal" >I2</text>
<text x="1090.6" y="659.9" font-size="9.3" text-anchor="middle" dominant-baseline="central" fill="#1a1a1a" font-weight="normal" >I4</text>
<text x="1123.2" y="651.4" font-size="9.3" text-anchor="middle" dominant-baseline="central" fill="#1a1a1a" font-weight="normal" >I1</text>
<text x="979.8" y="761.9" font-size="9.3" text-anchor="middle" dominant-baseline="central" fill="#1a1a1a" font-weight="normal" >I21</text>
<text x="1025.8" y="751.8" font-size="9.3" text-anchor="middle" dominant-baseline="central" fill="#1a1a1a" font-weight="normal" >I18</text>

</g>
<defs><linearGradient id="Db0" gradientUnits="userSpaceOnUse" x1="932.7" y1="673.8" x2="936.2" y2="823.9"><stop offset="0.000" stop-color="#1e9c89"/><stop offset="0.060" stop-color="#1fa188"/><stop offset="0.107" stop-color="#7ad151"/><stop offset="0.167" stop-color="#dfe318"/><stop offset="1.000" stop-color="#eae51a"/></linearGradient><linearGradient id="Db1" gradientUnits="userSpaceOnUse" x1="968.2" y1="702.4" x2="971.0" y2="856.3"><stop offset="0.000" stop-color="#1e9c89"/><stop offset="0.065" stop-color="#22a884"/><stop offset="0.130" stop-color="#7ad151"/><stop offset="0.227" stop-color="#d2e21b"/><stop offset="1.000" stop-color="#e5e419"/></linearGradient><linearGradient id="Db2" gradientUnits="userSpaceOnUse" x1="991.9" y1="676.9" x2="992.9" y2="827.0"><stop offset="0.000" stop-color="#1e9c89"/><stop offset="0.060" stop-color="#1fa188"/><stop offset="0.107" stop-color="#7ad151"/><stop offset="0.167" stop-color="#dfe318"/><stop offset="1.000" stop-color="#eae51a"/></linearGradient><linearGradient id="Db3" gradientUnits="userSpaceOnUse" x1="1013.8" y1="694.7" x2="1014.0" y2="847.0"><stop offset="0.000" stop-color="#375a8c"/><stop offset="0.033" stop-color="#355f8d"/><stop offset="0.066" stop-color="#44bf70"/><stop offset="0.118" stop-color="#d2e21b"/><stop offset="1.000" stop-color="#eae51a"/></linearGradient><linearGradient id="Db4" gradientUnits="userSpaceOnUse" x1="1037.1" y1="626.7" x2="1037.1" y2="771.3"><stop offset="0.000" stop-color="#1e9c89"/><stop offset="0.055" stop-color="#22a884"/><stop offset="0.097" stop-color="#bddf26"/><stop offset="0.138" stop-color="#e5e419"/><stop offset="1.000" stop-color="#ece51b"/></linearGradient><linearGradient id="Db5" gradientUnits="userSpaceOnUse" x1="1069.1" y1="618.2" x2="1067.6" y2="762.8"><stop offset="0.000" stop-color="#1e9c89"/><stop offset="0.055" stop-color="#22a884"/><stop offset="0.097" stop-color="#7ad151"/><stop offset="0.152" stop-color="#dfe318"/><stop offset="1.000" stop-color="#eae51a"/></linearGradient><linearGradient id="Db6" gradientUnits="userSpaceOnUse" x1="1085.6" y1="663.8" x2="1083.8" y2="811.5"><stop offset="0.000" stop-color="#2f6c8e"/><stop offset="0.034" stop-color="#2a788e"/><stop offset="0.068" stop-color="#9bd93c"/><stop offset="0.102" stop-color="#dfe318"/><stop offset="1.000" stop-color="#eae51a"/></linearGradient><linearGradient id="Db7" gradientUnits="userSpaceOnUse" x1="1118.5" y1="655.3" x2="1115.5" y2="802.2"><stop offset="0.000" stop-color="#22a884"/><stop offset="0.041" stop-color="#2fb47c"/><stop offset="0.102" stop-color="#d2e21b"/><stop offset="1.000" stop-color="#eae51a"/></linearGradient><linearGradient id="Db8" gradientUnits="userSpaceOnUse" x1="979.0" y1="766.5" x2="981.0" y2="923.5"><stop offset="0.000" stop-color="#440154"/><stop offset="0.019" stop-color="#471365"/><stop offset="0.032" stop-color="#2fb47c"/><stop offset="0.115" stop-color="#4ec36b"/><stop offset="0.191" stop-color="#b0dd2f"/><stop offset="0.318" stop-color="#dfe318"/><stop offset="1.000" stop-color="#dfe318"/></linearGradient><linearGradient id="Db9" gradientUnits="userSpaceOnUse" x1="1025.8" y1="758.0" x2="1025.8" y2="913.5"><stop offset="0.000" stop-color="#1e9c89"/><stop offset="0.045" stop-color="#1fa188"/><stop offset="0.064" stop-color="#4ec36b"/><stop offset="0.225" stop-color="#7ad151"/><stop offset="0.322" stop-color="#bddf26"/><stop offset="0.450" stop-color="#dfe318"/><stop offset="1.000" stop-color="#e5e419"/></linearGradient></defs><line x1="932.8" y1="676.5" x2="936.1" y2="821.2" stroke="url(#Db0)" stroke-width="6.1" stroke-linecap="round"/><line x1="968.2" y1="705.1" x2="971.0" y2="853.6" stroke="url(#Db1)" stroke-width="6.1" stroke-linecap="round"/><line x1="991.9" y1="679.6" x2="992.9" y2="824.3" stroke="url(#Db2)" stroke-width="6.1" stroke-linecap="round"/><line x1="1013.8" y1="697.4" x2="1014.0" y2="844.3" stroke="url(#Db3)" stroke-width="6.1" stroke-linecap="round"/><line x1="1037.1" y1="629.4" x2="1037.1" y2="768.6" stroke="url(#Db4)" stroke-width="6.1" stroke-linecap="round"/><line x1="1069.1" y1="620.9" x2="1067.6" y2="760.1" stroke="url(#Db5)" stroke-width="6.1" stroke-linecap="round"/><line x1="1085.6" y1="666.5" x2="1083.8" y2="808.8" stroke="url(#Db6)" stroke-width="6.1" stroke-linecap="round"/><line x1="1118.4" y1="658.0" x2="1115.6" y2="799.5" stroke="url(#Db7)" stroke-width="6.1" stroke-linecap="round"/><line x1="979.0" y1="769.2" x2="981.0" y2="920.8" stroke="url(#Db8)" stroke-width="6.1" stroke-linecap="round"/><line x1="1025.8" y1="760.7" x2="1025.8" y2="910.8" stroke="url(#Db9)" stroke-width="6.1" stroke-linecap="round"/>
<rect x="1175.5" y="571.2" width="48.8" height="143.8" rx="2" fill="#ffffff" fill-opacity="0.85" stroke="#d6d6d6" stroke-width="0.8"/>
<circle cx="1188.3" cy="579.2" r="2.4" fill="#1f9f88"/>
<text x="1204.7" y="579.2" font-size="10.3" text-anchor="start" dominant-baseline="central" fill="#262626" font-weight="normal" xml:space="preserve">I1</text>
<circle cx="1188.3" cy="593.6" r="2.4" fill="#1f9f88"/>
<text x="1204.7" y="593.6" font-size="10.3" text-anchor="start" dominant-baseline="central" fill="#262626" font-weight="normal" xml:space="preserve">I2</text>
<circle cx="1188.3" cy="607.5" r="2.4" fill="#1f9f88"/>
<text x="1204.7" y="607.5" font-size="10.3" text-anchor="start" dominant-baseline="central" fill="#262626" font-weight="normal" xml:space="preserve">I3</text>
<circle cx="1188.3" cy="621.9" r="2.4" fill="#25848e"/>
<text x="1204.7" y="621.9" font-size="10.3" text-anchor="start" dominant-baseline="central" fill="#262626" font-weight="normal" xml:space="preserve">I4</text>
<circle cx="1188.3" cy="635.9" r="2.4" fill="#1e9c89"/>
<text x="1204.7" y="635.9" font-size="10.3" text-anchor="start" dominant-baseline="central" fill="#262626" font-weight="normal" xml:space="preserve">I16</text>
<circle cx="1188.3" cy="650.3" r="2.4" fill="#414487"/>
<text x="1204.7" y="650.3" font-size="10.3" text-anchor="start" dominant-baseline="central" fill="#262626" font-weight="normal" xml:space="preserve">I17</text>
<circle cx="1188.3" cy="664.4" r="2.4" fill="#1f9f88"/>
<text x="1204.7" y="664.4" font-size="10.3" text-anchor="start" dominant-baseline="central" fill="#262626" font-weight="normal" xml:space="preserve">I18</text>
<circle cx="1188.3" cy="678.6" r="2.4" fill="#20a386"/>
<text x="1204.7" y="678.6" font-size="10.3" text-anchor="start" dominant-baseline="central" fill="#262626" font-weight="normal" xml:space="preserve">I19</text>
<circle cx="1188.3" cy="692.7" r="2.4" fill="#1f9f88"/>
<text x="1204.7" y="692.7" font-size="10.3" text-anchor="start" dominant-baseline="central" fill="#262626" font-weight="normal" xml:space="preserve">I20</text>
<circle cx="1188.3" cy="707.1" r="2.4" fill="#440154"/>
<text x="1204.7" y="707.1" font-size="10.3" text-anchor="start" dominant-baseline="central" fill="#262626" font-weight="normal" xml:space="preserve">I21</text>
<text x="1022.3" y="556.0" font-size="12.5" text-anchor="middle" dominant-baseline="central" fill="#262626" font-weight="normal" textLength="197.5" lengthAdjust="spacingAndGlyphs" >Salinity profile in the Indian Sector</text>
<defs><linearGradient id="Dcb" x1="0" y1="1" x2="0" y2="0"><stop offset="0.000" stop-color="#440154"/><stop offset="0.062" stop-color="#48186a"/><stop offset="0.125" stop-color="#472d7b"/><stop offset="0.188" stop-color="#424086"/><stop offset="0.250" stop-color="#3b528b"/><stop offset="0.312" stop-color="#33638d"/><stop offset="0.375" stop-color="#2c728e"/><stop offset="0.438" stop-color="#26828e"/><stop offset="0.500" stop-color="#21918c"/><stop offset="0.562" stop-color="#1fa088"/><stop offset="0.625" stop-color="#28ae80"/><stop offset="0.688" stop-color="#3fbc73"/><stop offset="0.750" stop-color="#5ec962"/><stop offset="0.812" stop-color="#84d44b"/><stop offset="0.875" stop-color="#addc30"/><stop offset="0.938" stop-color="#d8e219"/><stop offset="1.000" stop-color="#fde725"/></linearGradient></defs>
<rect x="1255.4" y="669.5" width="21.0" height="205.4" fill="url(#Dcb)" stroke="#262626" stroke-width="0.8"/>
<line x1="1276.4" y1="694.3" x2="1279.9" y2="694.3" stroke="#262626" stroke-width="0.8" />
<text x="1283.0" y="694.3" font-size="10" text-anchor="start" dominant-baseline="central" fill="#262626" font-weight="normal" >34.5</text>
<line x1="1276.4" y1="738.5" x2="1279.9" y2="738.5" stroke="#262626" stroke-width="0.8" />
<text x="1283.0" y="738.5" font-size="10" text-anchor="start" dominant-baseline="central" fill="#262626" font-weight="normal" >34.0</text>
<line x1="1276.4" y1="783.0" x2="1279.9" y2="783.0" stroke="#262626" stroke-width="0.8" />
<text x="1283.0" y="783.0" font-size="10" text-anchor="start" dominant-baseline="central" fill="#262626" font-weight="normal" >33.5</text>
<line x1="1276.4" y1="827.3" x2="1279.9" y2="827.3" stroke="#262626" stroke-width="0.8" />
<text x="1283.0" y="827.3" font-size="10" text-anchor="start" dominant-baseline="central" fill="#262626" font-weight="normal" >33.0</text>
<line x1="1276.4" y1="871.7" x2="1279.9" y2="871.7" stroke="#262626" stroke-width="0.8" />
<text x="1283.0" y="871.7" font-size="10" text-anchor="start" dominant-baseline="central" fill="#262626" font-weight="normal" >32.5</text>
<text x="1311.0" y="774.2" font-size="10.5" text-anchor="middle" dominant-baseline="central" fill="#262626" font-weight="normal" transform="rotate(-90 1311.0 774.2)" textLength="64" lengthAdjust="spacingAndGlyphs" >Salinity [PSU]</text>
</g><g id="F" class="t3">
<polygon points="852.7,1340.3 1071.2,1277.0 1072.8,1112.9 845.0,1170.1" fill="#f2f2f2" />
<polygon points="1207.2,1390.9 1071.2,1277.0 1072.8,1112.9 1214.9,1216.5" fill="#f9f9f9" />
<polygon points="975.6,1466.5 1207.2,1390.9 1071.2,1277.0 852.7,1340.3" fill="#f5f5f5" />
<g stroke-linecap="butt"><line x1="866.9" y1="1336.2" x2="859.9" y2="1166.4" stroke="#b9b9b9" stroke-width="1.2" /><line x1="990.7" y1="1461.5" x2="866.9" y2="1336.2" stroke="#b9b9b9" stroke-width="1.2" /><line x1="908.2" y1="1324.2" x2="903.0" y2="1155.6" stroke="#b9b9b9" stroke-width="1.2" /><line x1="1034.6" y1="1447.2" x2="908.2" y2="1324.2" stroke="#b9b9b9" stroke-width="1.2" /><line x1="948.8" y1="1312.5" x2="945.3" y2="1144.9" stroke="#b9b9b9" stroke-width="1.2" /><line x1="1077.7" y1="1433.2" x2="948.8" y2="1312.5" stroke="#b9b9b9" stroke-width="1.2" /><line x1="988.6" y1="1300.9" x2="986.8" y2="1134.5" stroke="#b9b9b9" stroke-width="1.2" /><line x1="1119.9" y1="1419.4" x2="988.6" y2="1300.9" stroke="#b9b9b9" stroke-width="1.2" /><line x1="1027.8" y1="1289.6" x2="1027.5" y2="1124.3" stroke="#b9b9b9" stroke-width="1.2" /><line x1="1161.2" y1="1405.9" x2="1027.8" y2="1289.6" stroke="#b9b9b9" stroke-width="1.2" /><line x1="1066.2" y1="1278.5" x2="1067.5" y2="1114.2" stroke="#b9b9b9" stroke-width="1.2" /><line x1="1201.8" y1="1392.7" x2="1066.2" y2="1278.5" stroke="#b9b9b9" stroke-width="1.2" /><line x1="1089.1" y1="1292.0" x2="1091.4" y2="1126.5" stroke="#b9b9b9" stroke-width="1.2" /><line x1="868.8" y1="1356.8" x2="1089.1" y2="1292.0" stroke="#b9b9b9" stroke-width="1.2" /><line x1="1117.4" y1="1315.7" x2="1120.9" y2="1148.0" stroke="#b9b9b9" stroke-width="1.2" /><line x1="894.3" y1="1383.0" x2="1117.4" y2="1315.7" stroke="#b9b9b9" stroke-width="1.2" /><line x1="1146.7" y1="1340.3" x2="1151.5" y2="1170.3" stroke="#b9b9b9" stroke-width="1.2" /><line x1="920.8" y1="1410.2" x2="1146.7" y2="1340.3" stroke="#b9b9b9" stroke-width="1.2" /><line x1="1177.1" y1="1365.8" x2="1183.4" y2="1193.6" stroke="#b9b9b9" stroke-width="1.2" /><line x1="948.3" y1="1438.5" x2="1177.1" y2="1365.8" stroke="#b9b9b9" stroke-width="1.2" /><line x1="845.5" y1="1181.1" x2="1072.7" y2="1123.4" stroke="#b9b9b9" stroke-width="1.2" /><line x1="1214.4" y1="1227.8" x2="1072.7" y2="1123.4" stroke="#b9b9b9" stroke-width="1.2" /><line x1="846.9" y1="1211.7" x2="1072.4" y2="1152.9" stroke="#b9b9b9" stroke-width="1.2" /><line x1="1213.0" y1="1259.2" x2="1072.4" y2="1152.9" stroke="#b9b9b9" stroke-width="1.2" /><line x1="848.3" y1="1241.9" x2="1072.1" y2="1182.1" stroke="#b9b9b9" stroke-width="1.2" /><line x1="1211.6" y1="1290.2" x2="1072.1" y2="1182.1" stroke="#b9b9b9" stroke-width="1.2" /><line x1="849.6" y1="1271.7" x2="1071.9" y2="1210.8" stroke="#b9b9b9" stroke-width="1.2" /><line x1="1210.3" y1="1320.7" x2="1071.9" y2="1210.8" stroke="#b9b9b9" stroke-width="1.2" /><line x1="850.9" y1="1301.0" x2="1071.6" y2="1239.1" stroke="#b9b9b9" stroke-width="1.2" /><line x1="1208.9" y1="1350.7" x2="1071.6" y2="1239.1" stroke="#b9b9b9" stroke-width="1.2" /><line x1="852.2" y1="1329.9" x2="1071.3" y2="1267.0" stroke="#b9b9b9" stroke-width="1.2" /><line x1="1207.6" y1="1380.3" x2="1071.3" y2="1267.0" stroke="#b9b9b9" stroke-width="1.2" /></g>
<line x1="852.7" y1="1340.3" x2="845.0" y2="1170.1" stroke="#333333" stroke-width="1.0" /><line x1="975.6" y1="1466.5" x2="852.7" y2="1340.3" stroke="#333333" stroke-width="1.0" /><line x1="975.6" y1="1466.5" x2="1207.2" y2="1390.9" stroke="#333333" stroke-width="1.0" /><line x1="841.2" y1="1182.2" x2="847.4" y2="1180.6" stroke="#333333" stroke-width="1.0" /><line x1="842.6" y1="1212.8" x2="848.8" y2="1211.2" stroke="#333333" stroke-width="1.0" /><line x1="844.0" y1="1243.0" x2="850.1" y2="1241.4" stroke="#333333" stroke-width="1.0" /><line x1="845.4" y1="1272.8" x2="851.5" y2="1271.1" stroke="#333333" stroke-width="1.0" /><line x1="846.7" y1="1302.2" x2="852.8" y2="1300.5" stroke="#333333" stroke-width="1.0" /><line x1="848.1" y1="1331.1" x2="854.1" y2="1329.4" stroke="#333333" stroke-width="1.0" /><line x1="864.6" y1="1358.0" x2="870.6" y2="1356.2" stroke="#333333" stroke-width="1.0" /><line x1="890.0" y1="1384.2" x2="896.2" y2="1382.4" stroke="#333333" stroke-width="1.0" /><line x1="916.5" y1="1411.5" x2="922.7" y2="1409.6" stroke="#333333" stroke-width="1.0" /><line x1="944.0" y1="1439.9" x2="950.3" y2="1437.9" stroke="#333333" stroke-width="1.0" /><line x1="994.1" y1="1465.0" x2="989.1" y2="1459.9" stroke="#333333" stroke-width="1.0" /><line x1="1038.1" y1="1450.6" x2="1033.0" y2="1445.6" stroke="#333333" stroke-width="1.0" /><line x1="1081.2" y1="1436.5" x2="1076.0" y2="1431.6" stroke="#333333" stroke-width="1.0" /><line x1="1123.4" y1="1422.7" x2="1118.1" y2="1417.9" stroke="#333333" stroke-width="1.0" /><line x1="1164.9" y1="1409.1" x2="1159.5" y2="1404.4" stroke="#333333" stroke-width="1.0" /><line x1="1205.5" y1="1395.8" x2="1200.1" y2="1391.2" stroke="#333333" stroke-width="1.0" />
<g class="t3">
<text x="828.2" y="1183.4" font-size="10" text-anchor="middle" dominant-baseline="central" fill="#262626" font-weight="normal" >0</text>
<text x="828.7" y="1213.6" font-size="10" text-anchor="middle" dominant-baseline="central" fill="#262626" font-weight="normal" >300</text>
<text x="830.8" y="1244.2" font-size="10" text-anchor="middle" dominant-baseline="central" fill="#262626" font-weight="normal" >600</text>
<text x="831.9" y="1274.3" font-size="10" text-anchor="middle" dominant-baseline="central" fill="#262626" font-weight="normal" >900</text>
<text x="833.5" y="1302.8" font-size="10" text-anchor="middle" dominant-baseline="central" fill="#262626" font-weight="normal" >1200</text>
<text x="835.1" y="1332.1" font-size="10" text-anchor="middle" dominant-baseline="central" fill="#262626" font-weight="normal" >1500</text>
<text x="857.5" y="1372.5" font-size="10" text-anchor="middle" dominant-baseline="central" fill="#262626" font-weight="normal" >−63</text>
<text x="883.2" y="1399.4" font-size="10" text-anchor="middle" dominant-baseline="central" fill="#262626" font-weight="normal" >−64</text>
<text x="909.2" y="1426.9" font-size="10" text-anchor="middle" dominant-baseline="central" fill="#262626" font-weight="normal" >−65</text>
<text x="936.9" y="1455.9" font-size="10" text-anchor="middle" dominant-baseline="central" fill="#262626" font-weight="normal" >−66</text>
<text x="997.6" y="1481.6" font-size="10" text-anchor="middle" dominant-baseline="central" fill="#262626" font-weight="normal" >45</text>
<text x="1042.4" y="1467.4" font-size="10" text-anchor="middle" dominant-baseline="central" fill="#262626" font-weight="normal" >50</text>
<text x="1084.9" y="1453.1" font-size="10" text-anchor="middle" dominant-baseline="central" fill="#262626" font-weight="normal" >55</text>
<text x="1126.7" y="1439.0" font-size="10" text-anchor="middle" dominant-baseline="central" fill="#262626" font-weight="normal" >60</text>
<text x="1167.8" y="1425.7" font-size="10" text-anchor="middle" dominant-baseline="central" fill="#262626" font-weight="normal" >65</text>
<text x="1208.9" y="1412.2" font-size="10" text-anchor="middle" dominant-baseline="central" fill="#262626" font-weight="normal" >70</text>
<text x="812.7" y="1253.2" font-size="10.5" text-anchor="middle" dominant-baseline="central" fill="#262626" font-weight="normal" transform="rotate(90 812.7 1253.2)" textLength="48" lengthAdjust="spacingAndGlyphs" >Depth [m]</text>
<text x="886.8" y="1425.7" font-size="10.5" text-anchor="middle" dominant-baseline="central" fill="#262626" font-weight="normal" transform="rotate(47 886.8 1425.7)" textLength="39" lengthAdjust="spacingAndGlyphs" >Latitude</text>
<text x="1109.0" y="1461.9" font-size="10.5" text-anchor="middle" dominant-baseline="central" fill="#262626" font-weight="normal" transform="rotate(-19 1109.0 1461.9)" textLength="47" lengthAdjust="spacingAndGlyphs" >Longitude</text>
</g>
<g class="t3">
<text x="938.6" y="1185.7" font-size="9.3" text-anchor="middle" dominant-baseline="central" fill="#1a1a1a" font-weight="normal" >I20</text>
<text x="974.2" y="1215.1" font-size="9.3" text-anchor="middle" dominant-baseline="central" fill="#1a1a1a" font-weight="normal" >I19</text>
<text x="997.5" y="1188.1" font-size="9.3" text-anchor="middle" dominant-baseline="central" fill="#1a1a1a" font-weight="normal" >I16</text>
<text x="1019.3" y="1205.8" font-size="9.3" text-anchor="middle" dominant-baseline="central" fill="#1a1a1a" font-weight="normal" >I17</text>
<text x="1039.7" y="1137.8" font-size="9.3" text-anchor="middle" dominant-baseline="central" fill="#1a1a1a" font-weight="normal" >I3</text>
<text x="1071.3" y="1129.4" font-size="9.3" text-anchor="middle" dominant-baseline="central" fill="#1a1a1a" font-weight="normal" >I2</text>
<text x="1088.5" y="1174.9" font-size="9.3" text-anchor="middle" dominant-baseline="central" fill="#1a1a1a" font-weight="normal" >I4</text>
<text x="1121.1" y="1166.4" font-size="9.3" text-anchor="middle" dominant-baseline="central" fill="#1a1a1a" font-weight="normal" >I1</text>
<text x="977.7" y="1276.9" font-size="9.3" text-anchor="middle" dominant-baseline="central" fill="#1a1a1a" font-weight="normal" >I21</text>
<text x="1023.7" y="1266.8" font-size="9.3" text-anchor="middle" dominant-baseline="central" fill="#1a1a1a" font-weight="normal" >I18</text>

</g>
<defs><linearGradient id="Fb0" gradientUnits="userSpaceOnUse" x1="930.6" y1="1188.8" x2="934.1" y2="1338.9"><stop offset="0.000" stop-color="#dfe318"/><stop offset="0.033" stop-color="#cae11f"/><stop offset="0.053" stop-color="#22a884"/><stop offset="0.067" stop-color="#2f6c8e"/><stop offset="0.087" stop-color="#463480"/><stop offset="1.000" stop-color="#463480"/></linearGradient><linearGradient id="Fb1" gradientUnits="userSpaceOnUse" x1="966.1" y1="1217.4" x2="968.9" y2="1371.3"><stop offset="0.000" stop-color="#d2e21b"/><stop offset="0.039" stop-color="#b0dd2f"/><stop offset="0.065" stop-color="#1e9c89"/><stop offset="0.097" stop-color="#25848e"/><stop offset="0.143" stop-color="#2f6c8e"/><stop offset="0.195" stop-color="#375a8c"/><stop offset="0.390" stop-color="#3b528b"/><stop offset="0.520" stop-color="#32648e"/><stop offset="0.650" stop-color="#38588c"/><stop offset="1.000" stop-color="#3e4a89"/></linearGradient><linearGradient id="Fb2" gradientUnits="userSpaceOnUse" x1="989.8" y1="1191.9" x2="990.8" y2="1342.0"><stop offset="0.000" stop-color="#dfe318"/><stop offset="0.033" stop-color="#cae11f"/><stop offset="0.053" stop-color="#22a884"/><stop offset="0.067" stop-color="#355f8d"/><stop offset="0.087" stop-color="#463480"/><stop offset="1.000" stop-color="#463480"/></linearGradient><linearGradient id="Fb3" gradientUnits="userSpaceOnUse" x1="1011.7" y1="1209.7" x2="1011.9" y2="1362.0"><stop offset="0.000" stop-color="#ece51b"/><stop offset="0.033" stop-color="#cae11f"/><stop offset="0.053" stop-color="#1e9c89"/><stop offset="0.072" stop-color="#355f8d"/><stop offset="0.092" stop-color="#433e85"/><stop offset="1.000" stop-color="#463480"/></linearGradient><linearGradient id="Fb4" gradientUnits="userSpaceOnUse" x1="1035.0" y1="1141.7" x2="1035.0" y2="1286.3"><stop offset="0.000" stop-color="#86d549"/><stop offset="0.041" stop-color="#6ece58"/><stop offset="0.062" stop-color="#2a788e"/><stop offset="0.076" stop-color="#481d6f"/><stop offset="1.000" stop-color="#481467"/></linearGradient><linearGradient id="Fb5" gradientUnits="userSpaceOnUse" x1="1067.0" y1="1133.2" x2="1065.5" y2="1277.8"><stop offset="0.000" stop-color="#86d549"/><stop offset="0.041" stop-color="#5ec962"/><stop offset="0.062" stop-color="#2a788e"/><stop offset="0.076" stop-color="#481769"/><stop offset="1.000" stop-color="#471063"/></linearGradient><linearGradient id="Fb6" gradientUnits="userSpaceOnUse" x1="1083.5" y1="1178.8" x2="1081.7" y2="1326.5"><stop offset="0.000" stop-color="#9bd93c"/><stop offset="0.034" stop-color="#7ad151"/><stop offset="0.054" stop-color="#2a788e"/><stop offset="0.068" stop-color="#482475"/><stop offset="1.000" stop-color="#482475"/></linearGradient><linearGradient id="Fb7" gradientUnits="userSpaceOnUse" x1="1116.4" y1="1170.3" x2="1113.4" y2="1317.2"><stop offset="0.000" stop-color="#9bd93c"/><stop offset="0.034" stop-color="#7ad151"/><stop offset="0.061" stop-color="#25848e"/><stop offset="0.082" stop-color="#463480"/><stop offset="1.000" stop-color="#472c7a"/></linearGradient><linearGradient id="Fb8" gradientUnits="userSpaceOnUse" x1="976.9" y1="1281.5" x2="978.9" y2="1438.5"><stop offset="0.000" stop-color="#ece51b"/><stop offset="0.032" stop-color="#bddf26"/><stop offset="0.057" stop-color="#4ec36b"/><stop offset="0.108" stop-color="#3bbb75"/><stop offset="0.134" stop-color="#25848e"/><stop offset="0.191" stop-color="#31678e"/><stop offset="1.000" stop-color="#38588c"/></linearGradient><linearGradient id="Fb9" gradientUnits="userSpaceOnUse" x1="1023.7" y1="1273.0" x2="1023.7" y2="1428.5"><stop offset="0.000" stop-color="#d2e21b"/><stop offset="0.051" stop-color="#bddf26"/><stop offset="0.077" stop-color="#4ec36b"/><stop offset="0.232" stop-color="#3bbb75"/><stop offset="0.283" stop-color="#21918c"/><stop offset="0.354" stop-color="#2f6c8e"/><stop offset="1.000" stop-color="#32658e"/></linearGradient></defs><line x1="930.7" y1="1191.5" x2="934.0" y2="1336.2" stroke="url(#Fb0)" stroke-width="6.1" stroke-linecap="round"/><line x1="966.1" y1="1220.1" x2="968.9" y2="1368.6" stroke="url(#Fb1)" stroke-width="6.1" stroke-linecap="round"/><line x1="989.8" y1="1194.6" x2="990.8" y2="1339.3" stroke="url(#Fb2)" stroke-width="6.1" stroke-linecap="round"/><line x1="1011.7" y1="1212.4" x2="1011.9" y2="1359.3" stroke="url(#Fb3)" stroke-width="6.1" stroke-linecap="round"/><line x1="1035.0" y1="1144.4" x2="1035.0" y2="1283.6" stroke="url(#Fb4)" stroke-width="6.1" stroke-linecap="round"/><line x1="1067.0" y1="1135.9" x2="1065.5" y2="1275.1" stroke="url(#Fb5)" stroke-width="6.1" stroke-linecap="round"/><line x1="1083.5" y1="1181.5" x2="1081.7" y2="1323.8" stroke="url(#Fb6)" stroke-width="6.1" stroke-linecap="round"/><line x1="1116.3" y1="1173.0" x2="1113.5" y2="1314.5" stroke="url(#Fb7)" stroke-width="6.1" stroke-linecap="round"/><line x1="976.9" y1="1284.2" x2="978.9" y2="1435.8" stroke="url(#Fb8)" stroke-width="6.1" stroke-linecap="round"/><line x1="1023.7" y1="1275.7" x2="1023.7" y2="1425.8" stroke="url(#Fb9)" stroke-width="6.1" stroke-linecap="round"/>
<rect x="1173.6" y="1086.0" width="48.7" height="144.6" rx="2" fill="#ffffff" fill-opacity="0.85" stroke="#d6d6d6" stroke-width="0.8"/>
<circle cx="1186.4" cy="1094.0" r="2.4" fill="#9bd93c"/>
<text x="1202.8" y="1094.0" font-size="10.3" text-anchor="start" dominant-baseline="central" fill="#262626" font-weight="normal" xml:space="preserve">I1</text>
<circle cx="1186.4" cy="1108.4" r="2.4" fill="#8ed645"/>
<text x="1202.8" y="1108.4" font-size="10.3" text-anchor="start" dominant-baseline="central" fill="#262626" font-weight="normal" xml:space="preserve">I2</text>
<circle cx="1186.4" cy="1122.3" r="2.4" fill="#8ed645"/>
<text x="1202.8" y="1122.3" font-size="10.3" text-anchor="start" dominant-baseline="central" fill="#262626" font-weight="normal" xml:space="preserve">I3</text>
<circle cx="1186.4" cy="1136.7" r="2.4" fill="#86d549"/>
<text x="1202.8" y="1136.7" font-size="10.3" text-anchor="start" dominant-baseline="central" fill="#262626" font-weight="normal" xml:space="preserve">I4</text>
<circle cx="1186.4" cy="1150.7" r="2.4" fill="#cae11f"/>
<text x="1202.8" y="1150.7" font-size="10.3" text-anchor="start" dominant-baseline="central" fill="#262626" font-weight="normal" xml:space="preserve">I16</text>
<circle cx="1186.4" cy="1165.1" r="2.4" fill="#d2e21b"/>
<text x="1202.8" y="1165.1" font-size="10.3" text-anchor="start" dominant-baseline="central" fill="#262626" font-weight="normal" xml:space="preserve">I17</text>
<circle cx="1186.4" cy="1179.2" r="2.4" fill="#bddf26"/>
<text x="1202.8" y="1179.2" font-size="10.3" text-anchor="start" dominant-baseline="central" fill="#262626" font-weight="normal" xml:space="preserve">I18</text>
<circle cx="1186.4" cy="1193.4" r="2.4" fill="#bddf26"/>
<text x="1202.8" y="1193.4" font-size="10.3" text-anchor="start" dominant-baseline="central" fill="#262626" font-weight="normal" xml:space="preserve">I19</text>
<circle cx="1186.4" cy="1207.5" r="2.4" fill="#bddf26"/>
<text x="1202.8" y="1207.5" font-size="10.3" text-anchor="start" dominant-baseline="central" fill="#262626" font-weight="normal" xml:space="preserve">I20</text>
<circle cx="1186.4" cy="1221.9" r="2.4" fill="#d2e21b"/>
<text x="1202.8" y="1221.9" font-size="10.3" text-anchor="start" dominant-baseline="central" fill="#262626" font-weight="normal" xml:space="preserve">I21</text>
<text x="1021.0" y="1071.0" font-size="12.5" text-anchor="middle" dominant-baseline="central" fill="#262626" font-weight="normal" textLength="200" lengthAdjust="spacingAndGlyphs" >Oxygen profile in the Indian Sector</text>
<defs><linearGradient id="Fcb" x1="0" y1="1" x2="0" y2="0"><stop offset="0.000" stop-color="#440154"/><stop offset="0.062" stop-color="#48186a"/><stop offset="0.125" stop-color="#472d7b"/><stop offset="0.188" stop-color="#424086"/><stop offset="0.250" stop-color="#3b528b"/><stop offset="0.312" stop-color="#33638d"/><stop offset="0.375" stop-color="#2c728e"/><stop offset="0.438" stop-color="#26828e"/><stop offset="0.500" stop-color="#21918c"/><stop offset="0.562" stop-color="#1fa088"/><stop offset="0.625" stop-color="#28ae80"/><stop offset="0.688" stop-color="#3fbc73"/><stop offset="0.750" stop-color="#5ec962"/><stop offset="0.812" stop-color="#84d44b"/><stop offset="0.875" stop-color="#addc30"/><stop offset="0.938" stop-color="#d8e219"/><stop offset="1.000" stop-color="#fde725"/></linearGradient></defs>
<rect x="1253.5" y="1184.3" width="21.3" height="205.4" fill="url(#Fcb)" stroke="#262626" stroke-width="0.8"/>
<line x1="1274.8" y1="1199.5" x2="1278.3" y2="1199.5" stroke="#262626" stroke-width="0.8" />
<text x="1281.0" y="1199.5" font-size="10" text-anchor="start" dominant-baseline="central" fill="#262626" font-weight="normal" >11</text>
<line x1="1274.8" y1="1230.6" x2="1278.3" y2="1230.6" stroke="#262626" stroke-width="0.8" />
<text x="1281.0" y="1230.6" font-size="10" text-anchor="start" dominant-baseline="central" fill="#262626" font-weight="normal" >10</text>
<line x1="1274.8" y1="1261.8" x2="1278.3" y2="1261.8" stroke="#262626" stroke-width="0.8" />
<text x="1281.0" y="1261.8" font-size="10" text-anchor="start" dominant-baseline="central" fill="#262626" font-weight="normal" >9</text>
<line x1="1274.8" y1="1292.5" x2="1278.3" y2="1292.5" stroke="#262626" stroke-width="0.8" />
<text x="1281.0" y="1292.5" font-size="10" text-anchor="start" dominant-baseline="central" fill="#262626" font-weight="normal" >8</text>
<line x1="1274.8" y1="1323.8" x2="1278.3" y2="1323.8" stroke="#262626" stroke-width="0.8" />
<text x="1281.0" y="1323.8" font-size="10" text-anchor="start" dominant-baseline="central" fill="#262626" font-weight="normal" >7</text>
<line x1="1274.8" y1="1355.0" x2="1278.3" y2="1355.0" stroke="#262626" stroke-width="0.8" />
<text x="1281.0" y="1355.0" font-size="10" text-anchor="start" dominant-baseline="central" fill="#262626" font-weight="normal" >6</text>
<line x1="1274.8" y1="1385.7" x2="1278.3" y2="1385.7" stroke="#262626" stroke-width="0.8" />
<text x="1281.0" y="1385.7" font-size="10" text-anchor="start" dominant-baseline="central" fill="#262626" font-weight="normal" >5</text>
<text x="1302.3" y="1289.0" font-size="10.5" text-anchor="middle" dominant-baseline="central" fill="#262626" font-weight="normal" transform="rotate(-90 1302.3 1289.0)" textLength="126" lengthAdjust="spacingAndGlyphs" >Dissolved oxygen [mg L⁻¹]</text>
</g><g id="G">
<defs><clipPath id="Gclip"><polygon points="50.5,1765.3 101.0,1762.6 189.6,1761.8 300.0,1761.5 347.4,1762.5 400.2,1763.5 466.5,1767.0 518.2,1768.5 570.5,1769.2 570.5,1902.2 540.0,1901.8 505.6,1901.0 476.0,1899.9 438.0,1893.4 400.2,1882.8 362.3,1877.0 300.0,1876.8 267.5,1877.0 231.7,1878.3 210.7,1879.7 190.0,1881.5 172.7,1884.7 153.8,1890.3 134.8,1901.7 115.8,1916.9 100.0,1929.0 85.5,1939.7 68.0,1949.0 51.4,1956.7 50.5,1957.5"/></clipPath><filter id="Gblur" x="-2%" y="-2%" width="104%" height="104%"><feGaussianBlur stdDeviation="1.1"/></filter></defs>
<g clip-path="url(#Gclip)"><g filter="url(#Gblur)">
<rect x="48.0" y="1758.0" width="526.0" height="204.0" fill="#c966f6"/>
<path d="M50 1758l524 0 0 204 -212.5 0 .5-12 -.2-12 -3.7-42 -.1-12 1.5-8 1.7-4 5-8 .8-2 .4-4 -.9-4 -1.5-4 -2.3-4 -2.7-3.1 -2-1.4 -3.9-1.5 -6.1-.6 -8 .7 -10 2.8 -6.4 3.1 -11.6 6.9 -4 1.6 -22 3.8 -10 2.8 -7.6 2.9 -7.8 4 -8.7 6 -10 8 -5.4 6 -3.4 6 -1.6 6 -.3 8 1.2 8 3.1 10 5.1 12 6.4 12 7.6 12 -206.6 0 0-204z" fill="#b45bf9"/>
<path d="M50 1758l524 0 0 204 -195.8 0 -1.5-22 -4.5-38 0-14 1.3-6 1.8-4 4.5-6 9.9-10 2.1-4 .1-2 -.7-2 -3.2-2.2 -2-.2 -4 1.9 -4 0 -2-1.2 -2-2.1 -6-9.7 -4-4.2 -6-2.7 -6-.6 -10 1.3 -12 3.3 -8 3.5 -16 8.4 -26 4.2 -16 4.8 -10 4.5 -19 11 -6 4 -5 4.6 -3.8 5.4 -2 6 -.5 8 1.2 8 3.1 11 5.1 13 6.6 14 7.5 14 -193.2 0 0-204z" fill="#9f50fd"/>
<path d="M50 1758l524 0 0 204 -181.6 0 -6.7-54 -.4-14 1.3-8 2.3-6 3.5-6 7.4-10 2.1-4 1.1-4 -.2-4 -1.9-4 -2.9-2.6 -6-2.1 -10 .4 -2-1.5 -6.5-8.2 -4.6-4 -4.9-2.4 -6-.9 -8 .9 -16.4 4.4 -10.5 4 -15.1 6.7 -6 2.1 -26 4.5 -16.8 4.7 -37 16 -7.2 4 -4.9 4 -3.2 4 -2.3 6 -.4 6 1.1 8 3.6 12 5.3 14 7.8 17.5 8.1 16.5 -182.1 0 0-204z" fill="#8e46ff"/>
<path d="M50 1758l524 0 0 204 -169.3 0 -7-54 -.7-8 .1-8 1.1-8 2-6 7.8-12.2 3.6-7.8 1-6 -.4-4 -1.7-4 -2.5-3.4 -6-4.7 -16-6.7 -14-8.7 -4-1.2 -4-.4 -4 .4 -6 1.6 -52 18.7 -32 6.3 -15 4.1 -23 8.3 -26 8.3 -7.2 3.4 -5.5 4 -3.4 4 -1.3 4 .1 4 1.5 6 12.1 30 18 40 -172.3 0 0-204z" fill="#8641ff"/>
<path d="M50 1758l524 0 0 204 -158.3 0 -6.6-50 -1.6-20 .5-6 1.4-6 7.2-16 2.7-8 .7-6 -1.1-6 -2.5-6 -2.4-3.4 -8-7.7 -6-4.2 -10-5.7 -10-8 -4-1.9 -4-.6 -4 .6 -4 1.5 -19.9 11.4 -10.1 4.7 -16 5.8 -22 6.4 -32 6.1 -34 10.2 -16 3.6 -28 3.9 -40 1.5 -6 1.3 -4 2.4 -.9 2.1 .9 2.2 3.6 1.8 14.4 3.7 8 3.5 8 5.5 6 6.3 6 8.6 6.8 12.4 22.6 50 -163.4 0 0-204z" fill="#7f3cff"/>
<path d="M50 1758l524 0 0 204 -148.4 0 -5.2-34 -3.6-38 .9-10 6-20 1.5-8 -.1-4 -2.5-12 -1.7-4 -8.2-12 -4.7-9.6 -3.5-4.4 -18.5-13.6 -5.8-2.4 -4.2-.3 -6 1.2 -6 3.5 -13.9 15.6 -4.5 4 -5.5 4 -10.1 5.2 -12 4.2 -24 6.2 -30 5.5 -30 8.3 -14 3.1 -14 1.6 -22 .4 -38 2.8 -6 1 -5.9 1.7 -3.8 2 -2.2 2 -1.1 2 -.5 4 1.4 4 2.1 2.5 2.6 1.5 15.4 4.9 8 4.1 9.3 7 7.2 8 5.5 8.1 6.5 11.9 18.8 42 -155.3 0 0-204z" fill="#7739ff"/>
<path d="M50 1758l524 0 0 204 -139.3 0 -6-34 -4.2-42 .5-10 3.9-22 .1-4 -1.1-10 .1-8 -.6-2 -5.4-8 -1-4 .8-4 2.2-2.8 4-2.2 6-2.1 3.7-2.9 1-2 -.1-4 -2.6-3.9 -4-2.3 -6-.9 -10 .8 -8-.7 -8-2.5 -16-7.2 -5.5-1.3 -4.5-.3 -8 1.1 -6 3.3 -4 4.4 -9.2 17.5 -5 6 -4.7 4 -5.1 3.1 -12 4.9 -28 6.7 -28 4.8 -40 10.1 -16 1.8 -24-.3 -33.2 2.9 -16.8 3.2 -6 2.2 -4 2.6 -2.9 4 -.3 4 1.4 4 2.8 4 4.6 4 12.4 4.8 10 5.8 8.6 7.4 8.2 10 6.1 10 5.2 10 15.5 36 -147.6 0 0-204z" fill="#7040ff"/>
<path d="M50 1758l524 0 0 204 -131 0 -4.4-20 -3.2-18 -3.1-30 -2.1-14 .2-8 1.9-16 -1-16 1.9-10 -1.2-3.8 -3.3-4.2 -.8-2 .3-2 1.5-2 8.3-4.5 4-4 1.9-5.5 -.9-6 -2.4-4 -2.6-2.7 -4-2.7 -4-1.7 -4-.9 -12-.8 -8-1.3 -8-2.2 -16-6.1 -6-1.3 -6-.3 -4 .4 -5.6 1.6 -6.4 4 -4.4 6 -5.1 16 -4.2 8 -3.5 4 -4.8 3.9 -10 4.7 -30 7.1 -26 4.2 -30 7.5 -14 2.8 -14 1.3 -20-.6 -8 .3 -20 1.8 -16 2.2 -16 3.8 -6 2.6 -4 2.6 -2.8 3.8 -.5 4 1.4 4 2.9 4 6.8 6 12 6 9.1 6 8.6 8 7.7 10 5.9 10 5 10 14.3 34 -140.4 0 0-204z" fill="#6947ff"/>
<path d="M50 1758l524 0 0 204 -123.1 0 -5.5-22 -3.8-18 -2.3-14 -1.7-16 -2.3-10 -.7-6 1.1-20 -1.4-16 2.8-10 1.1-8 .9-2 6.4-8 2.3-6 .3-6 -1.5-6 -2.6-4.4 -4-4.2 -6-4.6 -4-2 -6-1.8 -22-2.8 -20-7.1 -6-1.4 -6-.5 -6 .5 -6 1.8 -6 3.4 -4 3.7 -2.5 3.4 -1.8 4 -3.1 16 -3.3 8 -2.9 4 -4.4 3.9 -8 4 -8 2.3 -22 4.7 -26 4 -28 6.9 -16 3.1 -14 1.1 -20-.5 -12 .4 -16 1.5 -16 2.5 -14 3 -10 3 -6 2.9 -4.2 3.2 -1.4 2 -.9 4 1.2 4 2.9 4 7.3 6 14.1 8 8.5 6 8 8 6.1 8 6 10 6 12 13.9 34 -133.5 0 0-204z" fill="#624eff"/>
<path d="M50 1758l524 0 0 204 -115.6 0 -11.3-42 -5.2-28 -2.5-10 -.8-6 .7-20 -2-12 -.1-4 1.2-4 10.3-18 2.4-6 .9-4.1 .2-5.9 -1-6 -1.4-4 -3.8-6.2 -6-6.3 -4-3.8 -6-3.6 -8-2.2 -20-1.9 -4-1.1 -16-6.2 -6-1.4 -6-.5 -8 .9 -6 2 -6 3.7 -4.9 4.6 -3.1 4 -2.9 6 -2.5 18 -3.2 8 -3.1 4 -2.3 2 -8 3.9 -8 2.2 -20 4.1 -26 3.8 -26 6.6 -16 2.9 -16 1.4 -22-.4 -12 .4 -12 1.1 -14 2.1 -18.9 3.9 -13.1 3.4 -7.1 2.6 -6.7 4 -1.8 2 -1.3 4 .7 4 2.5 4 7.1 6 7.3 4 9.3 4.1 6.3 3.9 8.7 8 7.7 10 5.9 10 5.8 12 6.8 16 7.7 20 -126.9 0 0-204z" fill="#5b55ff"/>
<path d="M50 1758l301.6 0 -7.6 6.4 -4 5.2 -3.6 6.4 -1.8 6 -1.2 14 -2.6 8 -2.6 4 -2.1 2 -6.1 3.2 -8 2.3 -12 2.6 -14 2.5 -20 2.8 -22 5.6 -20 3.7 -16 1.4 -36 0 -24 3.1 -30 6.3 -12 3.1 -8.7 3.4 -4.8 4 -2 4 0 4 1.7 4 3.8 4.7 4.1 3.3 5.9 3.2 20 6.8 3 2 4.2 4 6.5 8 6.1 10 6.9 14 8.3 20 7.4 20 -120.4 0 0-204zM394 1758l180 0 0 204 -108.4 0 -14.6-48 -7.6-30 -1.1-6 0-6 1.2-16 -.4-4 -2.4-10 .1-2 1.2-2.6 9.4-11.4 2.1-4 1.3-4 1.1-6 .1-8 -.8-6 -1.7-6 -3.5-7.2 -8-11.1 -3.5-3.7 -2.8-2 -4.1-2 -5.6-1.8 -6-1.1 -16-1.7 -10.8-3.4z" fill="#545cff"/>
<path d="M50 1758l294.1 0 -6.1 8.1 -5.8 11.9 -1.7 16 -2.4 8 -2.1 3.6 -2 2.2 -6 3.2 -8 2.4 -10 2.2 -14 2.5 -20 2.8 -22 5.7 -18 3.2 -18 1.6 -36 0 -22 2.7 -50 10.3 -8 3.1 -6 4.5 -2.9 4 -.8 2 -.1 4 2.5 6 5.3 6 5.8 4 6.2 2.8 6 1.7 16.9 3.5 3.1 2.4 4.6 5.6 6 10 5.7 12 9.8 24 8.1 22 -114.2 0 0-204zM426 1758l148 0 0 204 -101.4 0 -20.6-60.5 -5.3-17.5 -1-6 .3-6.4 2.8-15.6 -.1-12 .4-2 8-10 1.5-4 .8-4 .5-14 -1.8-14 -3.5-10 -8.6-16.9 -3.1-3.1 -4.9-3.2 -6-2.8 -6.3-2z" fill="#4c65fe"/>
<path d="M50 1758l288.9 0 -4.4 8 -4.5 10.8 -2.2 15.2 -2.4 8 -2.5 4 -2.1 2 -6.8 3.4 -16 4.1 -32 5.1 -22 5.7 -18 3 -18 1.6 -38 0 -10 1 -13 2.1 -53 10.7 -4 1.6 -6.1 3.7 -7.1 6 -1.2 2 -1 4 1.3 6 3.3 6 5.9 6 6.9 4.4 8 3.2 6 1.3 16 1.7 2.7 1.4 3.3 3.7 3.7 6.3 4.5 10 12.6 32 7.3 20 -108.1 0 0-204zM440 1758l134 0 0 204 -94.7 0 -14-38 -13.3-34 -2.8-10 .2-6 2.6-9.2 4-8.4 6.1-8.4 2-6 .8-14 -1.5-18 -1.8-12 -2.8-10 -8-20 -4.8-5.3 -6.8-4.7z" fill="#4171fd"/>
<path d="M50 1758l284.8 0 -6.8 18.5 -3.1 15.5 -2.2 6 -2.6 4 -2.1 1.9 -3.4 2.1 -4.6 1.9 -16 3.9 -28 4.7 -22 5.5 -16 2.6 -20 1.9 -38-.1 -22 2.9 -54.9 10.7 -5.1 2 -14.3 8 -2.7 2 -1.6 2 -1.3 4 .9 6 2.2 6 2.2 4 3 4 3.6 3.4 8 5.2 8 3.6 8 2.1 14 1 4 1.8 2 2.1 4.5 8.8 21.6 56 -102.1 0 0-204zM448 1758l126 0 0 204 -88 0 -15.8-40 -12.2-27 -4.9-13 0-6 2.9-8.4 3.6-5.6 7.2-8 2.7-4 .7-6 -.4-12 -3.9-26 -3.9-17.5 -8-21.2 -3.6-5.3 -4.2-4z" fill="#367efb"/>
<path d="M50 1758l281.3 0 -8.7 32 -2.4 6 -2.2 3.2 -3 2.8 -3.3 2 -4.9 2 -14.8 3.7 -26 4.7 -20 5.1 -12 2.1 -24 2.5 -42 0 -20 2.7 -56 11.1 -14 6.5 -9.4 3.6 -3.3 2 -2.6 4 -.2 6 3.9 12 3.6 6.8 2.7 3.2 4.7 4 10.6 6.5 14 6.3 12 3.2 4 2.5 4 5.7 8 17 8 18.4 6.1 16.4 -96.1 0 0-204zM452 1758l122 0 0 204 -81.5 0 -17.4-42 -14-28 -3.6-10 .2-6 2.3-5.6 2.9-4.4 7.1-8.4 3.2-5.6 1-4 0-6 -2.2-18.3 -6.8-33.7 -7.9-22 -3.2-6 -3.3-4z" fill="#2c8bfa"/>
<path d="M50 1758l278 0 -2.4 14 -4.4 14 -2.4 6 -2.8 4.5 -3.7 3.5 -8.3 4 -15.5 4 -24.5 4.8 -20 5 -10 1.7 -24 2.3 -42 0 -22 3 -54 10.9 -16 6.9 -12 3.1 -3.5 2.3 -1.5 2 -1.5 4 0 6 4.5 14.3 4 7.7 3.6 4 4.4 3.4 32.9 20.6 7.4 6 5.7 7.3 7.3 12.7 6.4 14 4.3 12 -90 0 0-204zM456 1758l118 0 0 204 -75.1 0 -8.3-18 -11.6-28 -13-24 -3.1-8 -.3-6 1.2-4 2.1-4 9.6-14 1.9-6 .2-6 -3.7-26 -6.2-28 -7.6-22 -2.1-4.5 -3.5-5.5z" fill="#2197f8"/>
<path d="M50 1758l274.9 0 -.2 8 -.9 6 -3.8 10.9 -3.4 7.1 -2.8 4 -3.8 3.6 -4 2.4 -5.1 2 -16.9 4.6 -38 8.7 -10 1.9 -26 2.4 -42 0 -22 2.8 -52 10.8 -6 2 -12 5.3 -14 2.5 -2.4 1 -2.3 2 -1.6 2 -1.9 4 -.8 4 0 4 1 5.2 2.8 8.8 2.4 6 2.4 4 5.8 6 16.6 10.6 7.4 5.4 20.6 18.9 5.7 7.1 5.1 8 4.9 10 4.8 12 -84.5 0 0-204zM458 1758l116 0 0 204 -68.7 0 -9.9-20 -13.4-32 -10.7-18 -3.1-8 -.4-4 1.4-6 8.3-14 2.4-6 .7-4 -.1-6 -4.7-30 -5.8-24.3 -7.4-21.7 -5-10z" fill="#1ca0f2"/>
<path d="M50 1758l271.4 0 1.2 8 -.6 5.7 -2 5.9 -4 7.8 -4 5.6 -4 3.8 -5.4 3.2 -8.6 3.2 -14 3.9 -32 7.8 -12 2.3 -24 2.2 -44 .1 -24 2.9 -48 10.4 -6 1.8 -16 6.5 -14 1.7 -4.9 3.2 -3.1 4 -1.8 4 -1.2 8 .7 6 1.6 6 2.1 6 3 6 3.6 4.9 3.4 3.1 15.9 10 8 6 21.2 22 5 6 5.2 8 4.1 8 4.1 10 -78.9 0 0-204zM462 1758l112 0 0 204 -62.2 0 -3.8-6.6 -10-19.9 -12-29.2 -10.1-16.3 -2.5-6 -.4-4 .6-4 8.5-18 1.4-6 .1-6 -5.2-32 -6.7-26 -6.7-20 -4.7-10z" fill="#18a8ec"/>
<path d="M50 1758l266.8 0 3.1 6 .6 4 -.5 4 -2 4.9 -4 6.2 -6 6.9 -4 3.1 -5.2 2.9 -16.4 6 -34.4 8.9 -14 2.6 -22 1.8 -46 .3 -14 1.3 -12 1.9 -42 9.5 -8 2.6 -16 6.5 -14 1.1 -3.6 1.5 -2.7 2 -3.6 4 -2.1 3.5 0-91.5zM464 1758l110 0 0 204 -55.7 0 -10.3-17.4 -9-18.6 -9.4-24 -9-14 -2.4-6 .4-6 5.6-14 1.8-6 .6-4 -.2-6 -7-38 -7.4-25.9 -5.5-16.1 -3.6-8zM48.2 1876l3.8 8.2 5.8 7.8 5.3 4 14.9 9.2 6 4.7 5.8 6.1 6.3 8 9.4 10 8.5 12 4.1 8 3.3 8 -73.4 0 0-86.6z" fill="#14b0e6"/>
<path d="M50 1758l246.8 0 -.5 6 1.7 3.7 2 1.4 2 .2 2-.9 6-5.6 2-.6 2 .3 2 1.3 2 3.7 .2 2.5 -1.3 4 -2.9 4.1 -10.1 9.9 -5.5 4 -12.5 6 -17.9 5.8 -24.6 6.2 -13.4 2.1 -16 1.1 -48 .4 -14 1 -10 1.4 -44 10.4 -24 9.4 -16 1.5 -5.1 2.7 -4.9 4.8 0-86.8zM466 1758l108 0 0 204 -49 0 -9-13.8 -8-13.9 -6.7-14.3 -7.3-20.1 -2-3.9 -6.6-10 -1.7-4 -.4-4 .6-4 5.4-18 .4-6 -.4-4 -3.9-16 -3.1-20 -12.3-40 -4.7-12zM48.8 1886l4.5 6 4.4 4 18.3 11.6 5.5 4.4 3.9 4 20.6 26 5.8 10 4.2 10 -68 0 0-77.3z" fill="#10b9df"/>
<path d="M50 1758l243.1 0 .2 6 1.3 4 3.4 5.3 3.3 2.7 1.3 2 -1.2 4 -2.9 4 -4.4 4 -6.5 4 -9.1 4 -8.5 3 -24 6.4 -12 2.4 -12 1.1 -32 0 -24 .8 -14 .7 -10 1.2 -44 11 -24 9.7 -4 .8 -12 .5 -5.4 2.4 -4.6 3.6 0-83.6zM468 1758l106 0 0 204 -42.2 0 -13.8-20 -8.2-14 -6.5-14 -6.4-18 -6.3-10 -1.7-4 -.7-4 .1-4 3.8-16 .6-6 -.3-4 -4.7-18 -3.1-20 -5.7-16 -6.9-24.1 -4.4-11.9zM312 1768l2 0 1 2 -1 2.5 -2 1.4 -2.6 .1 -.4-2 .9-2 2.1-2zM49 1892l7 6.4 20 12.8 7.2 6.8 17.9 24 5.6 10 4.2 10 -62.9 0 0-71.3z" fill="#10bed5"/>
<path d="M50 1758l240.1 0 .6 6 3.7 12 .4 4 -1.3 4 -3.4 4 -4.1 3.1 -5.2 2.9 -14.8 5.9 -22.3 6.1 -9.7 1.9 -12 1.1 -34-.3 -36 1.3 -10 1.1 -44 11.6 -24 10.2 -4 .8 -10 .2 -4 .8 -4 1.7 -4 2.6 0-81zM470 1758l104 0 0 204 -35.1 0 -17.7-24 -10.8-18 -4.4-9.5 -5.4-14.5 -5.5-10 -2.3-6 -.4-4 .2-4 2.9-16 -.3-8 -5-18 -3.3-20 -7-18 -5.9-21.9 -4.2-12.1zM48.5 1896l7.5 5.8 16.5 10.2 8.7 8 6.1 8 9.4 14 5.3 10 3.9 10 -57.9 0 0-66.5z" fill="#10c3cb"/>
<path d="M50 1758l237.2 0 3.3 18 -.5 4 -1.9 4 -3.8 4 -6 4 -13.9 6 -22.4 6.4 -8 1.7 -10 1 -32-.8 -22 1.3 -20 .2 -8 .8 -8 1.8 -36 10.3 -24 10.8 -4 .9 -12 .4 -4.4 1.2 -5.6 2.9 0-78.9zM472 1758l102 0 0 204 -27.9 0 -20.1-25.6 -10-14.7 -6-11.2 -6.9-16.5 -5.8-12 -.9-4 -.2-4 2.3-16 0-6 -.5-4 -5.4-18 -3.4-20 -2.2-6 -5.5-12 -5.7-22 -3.9-12zM48.6 1900l5.7 4 15.7 9.4 5.6 4.6 3.8 4 6 8 7.3 12 4.8 10 3.7 10 -53.2 0 0-62.5z" fill="#10c8c1"/>
<path d="M50 1758l234.3 0 2.6 12 .2 4 -.7 4 -1.8 4 -3.5 4 -5.5 4 -7.6 3.9 -5.4 2.1 -22.6 6.9 -8 1.6 -8 .7 -30-1.3 -24 1.6 -20-.3 -8 .7 -8 1.8 -18 6 -18 5.1 -24 11.3 -4 1 -10 .2 -4 .5 -8 3.1 0-76.9zM474 1758l100 0 0 204 -20.4 0 -23.6-28.4 -10-13.4 -7.2-12.2 -11.2-24 -1.3-4 -.5-4 1.9-18 -.2-6 -.7-4 -5.7-18 -3.6-20 -2.3-6 -6.8-14 -4.8-20 -3.7-12zM49.2 1904l18.8 11.2 6 4.8 4 4.3 5.5 7.7 5.5 10 4.4 10 3.2 10 -48.6 0 0-58.8z" fill="#10cbaf"/>
<path d="M50 1758l231.2 0 2.5 14 -.7 4 -1.9 4 -3.3 4 -5.1 4 -6.7 3.7 -5.5 2.3 -22.5 7.3 -8 1.6 -6 .4 -30-2 -26 2.1 -18-.8 -8 .5 -8 1.9 -18 6.5 -18 5.3 -6 2.6 -14 7.6 -6 2.3 -16 1.2 -8 2.7 0-75.2zM476 1758l98 0 0 204 -12.9 0 -35.1-40.9 -8-11.2 -5.4-9.9 -7.4-16 -1.4-4 -.3-6 1.6-16 -.9-8 -6.7-20 -4.4-22 -2.7-6 -4.7-8 -2.5-6 -3.8-18 -3.5-12zM50 1907.9l17.6 10.1 4.4 3.6 4.2 4.4 5.3 8 4 8 3.8 10 2.8 10 -44.1 0 0-55.3z" fill="#10ce9c"/>
<path d="M50 1758l227.9 0 1.8 12 -.5 4 -1.7 4 -3.2 4 -4.8 4 -11.5 6 -22 7.7 -6 1.2 -6 .4 -28-2.7 -10 .4 -18 2.2 -18-1.4 -10 .6 -8 2.3 -18 7.3 -16 4.6 -6 2.8 -14 8 -6 2.5 -4 .7 -12 .5 -8 2.4 0-73.5zM478 1758l96 0 0 204 -5.3 0 -15.5-18 -27.2-29.9 -7.3-10.1 -4.7-8.8 -6.3-15.2 -.3-6 1.3-14 -1.5-10 -7.3-20 -4.5-22 -1.7-4 -6.3-10 -2.8-6 -3.5-18 -3.2-12zM50 1911.1l16 8.9 4.9 4 3.6 4 4 6 3.7 8 3.2 10 2.3 10 -39.7 0 0-52z" fill="#10ce89"/>
<path d="M50 1758l224.2 0 1.1 10 -.4 4 -1.5 4 -2.9 4 -4.6 4 -10.8 6 -21.1 7.9 -6 1.2 -4 .1 -22-3.2 -8-.4 -8 .5 -18 2.5 -18-2 -10 .6 -8 2.4 -18 8.1 -18 5.6 -16 9.4 -6.7 3.3 -5.3 1.2 -12 .6 -8 2.1 0-71.9zM480 1758l94 0 0 201.3 -18.6-21.3 -27.4-28.4 -6-7.5 -4.7-8.1 -4-10 -1.3-5.5 .7-16.5 -1.6-10 -8.9-22 -3.6-18 -1.7-6 -2-4 -6.9-9.9 -1.9-4.1 -3.2-18 -3.1-12zM49.2 1914l14.8 7.7 5.4 4.3 3.5 4 3.5 6 3.1 8 2.1 8 1.7 10 -35.3 0 0-48.6z" fill="#10c975"/>
<path d="M50 1758l220.2 0 .5 8 -.4 4 -1.3 4 -2.7 4 -4.4 4 -6.2 4 -8.1 4 -15.4 6 -4.2 .9 -4 0 -20-3.9 -8-.8 -8 .3 -20 3 -18-2.3 -10 .3 -8 2.6 -18 9.3 -18 5.6 -16 10.1 -6 3.1 -4 1.3 -14 1 -8 1.9 0-70.4zM482 1758l92 0 0 192.5 -18.2-20.5 -25.8-25.1 -5.8-6.9 -2.5-4 -3-8 -1.4-6 0-16 -1.2-8 -2.2-6 -7-14 -2.3-6 -4.3-20 -1.9-6 -2.4-4 -6-7.6 -2.5-4.4 -1.1-4 -2.2-16 -2.5-10zM50 1917.7l8 3.7 6 3.5 4 3.4 3 3.7 3.2 6 1.9 6 1.5 8 1.1 10 -30.7 0 0-45.2z" fill="#10c461"/>
<path d="M50 1758l215.6 0 .1 6 -.4 4 -1.3 4 -2.5 4 -4.1 4 -5.8 4 -7.4 4 -8.9 4 -5.3 1.8 -4 .6 -3.4-.4 -18.6-4.8 -8-1 -8 .4 -20 3.1 -20-2.6 -8 .3 -8 2.7 -18 10.8 -4 1.6 -12 3.3 -4 1.8 -14 9.8 -6 3.3 -6 1.7 -12 .7 -8 1.8 0-68.9zM484 1758l90 0 0 183.7 -18-19.9 -24-22.5 -5.5-7.3 -1.7-4 -1.4-6 -.6-16 -1.5-8 -2.5-6 -8.8-15.1 -3.1-6.9 -6.3-26 -2.2-4 -8.2-10 -1.9-4 -2-16 -2.8-12zM50 1921.2l12 5.8 4 3.1 3 3.9 1.9 4 1.6 6 1.3 18 -25.8 0 0-41.6z" fill="#10bf4f"/>
<path d="M50 1758l210.3 0 0 2 -1.2 8 -1.8 4 -3.1 4 -4.7 4 -6.1 4 -7.7 4 -5.1 2 -4.6 .7 -4-.5 -18-5.9 -8-1.2 -6 .3 -16 3.2 -6 .6 -20-2.4 -6-.1 -4 .6 -4 1.4 -4 2.2 -12.4 9.1 -5.6 3.2 -14 4.1 -4 1.7 -14 10.6 -6 3.5 -6 1.8 -12 .9 -8 1.6 0-67.4zM486 1758l88 0 0 175 -16-17.9 -20.2-19.1 -3.4-4 -2.3-4 -2.2-8 -.8-14 -2.3-8 -3.4-6 -9.4-13.3 -4-6.8 -2.7-7.9 -3.5-16 -1.9-6 -2.6-4 -7.3-8.3 -2.2-3.7 -1.8-16 -2.6-12zM50 1925l10.9 5 3.1 2.4 2.5 3.6 1.4 4 .8 6 -.3 16 -20.4 0 0-37.8z" fill="#10b949"/>
<path d="M50 1758l203.9 0 -1.4 8 -1.9 4 -2.6 3.5 -7.8 6.5 -8.2 4.2 -6 1.2 -4-.6 -18-7.8 -6-1.1 -6 .6 -16 4.3 -6 1 -6 .1 -18-1.9 -8 .5 -4 1.2 -4 2.3 -11.7 10 -6.3 4.5 -4 1.8 -12 3 -4 2.1 -12 10.4 -6 3.7 -6 1.9 -12 1.1 -8 1.4 0-65.9zM488 1758l86 0 0 166.2 -12-14.1 -17.2-18.1 -4.8-6.6 -2.1-5.4 -1.5-12 -2.6-8 -3.7-6 -12.1-14.3 -5.4-7.7 -3.2-8 -5.4-22 -2.4-4 -7.6-8.6 -2.3-3.4 -1.9-16 -2.6-12zM50 1929.3l8 3.5 4 3.2 1.4 4 .3 6 -1.6 16 -14.1 0 0-33.4z" fill="#10b242"/>
<path d="M50 1758l195.6 0 -1.9 6 -3.7 5.7 -5.5 4.3 -4.5 1.7 -4 .3 -4-.7 -4-1.8 -12-7 -6-1.4 -4 .9 -18 7.6 -8 2.1 -6 .5 -20-.9 -6 .6 -4 1.1 -6 3.6 -9.8 9.4 -6.2 5.2 -4 2.2 -12 3.2 -4 1.9 -12 11.3 -6 4.1 -6 2.1 -20 2.5 0-64.5zM490 1758l84 0 0 157.3 -16.8-21.3 -8.7-12 -2.9-6 -3.9-12 -4.5-8 -5.2-6 -12-12 -6-8 -3.1-8 -6-22 -2.9-4.3 -6.6-7.7 -2.1-4 -1.7-14 -2.6-12zM50 1935.4l4 2.6 1.6 2 .8 4 -1.3 8 -.3 10 -6.8 0 0-27.5z" fill="#1db23b"/>
<path d="M50 1758l145.7 0 -17.7 8.2 -8 2.8 -8 1.2 -20 1 -10 2.4 -4.1 2.4 -12 12 -5.9 4.9 -4 2.1 -12 3.7 -4 2.2 -10.3 11.1 -5.7 4.2 -6 2.3 -20 2.5 0-63zM216 1758l13 0 -5 1.3 -8.9-1.3zM492 1758l82 0 0 148.1 -12.1-18.1 -8.9-12 -7-14.2 -3.6-5.8 -5.5-6 -14.9-13.7 -6-7.5 -3.6-8.8 -5.8-20 -10.8-16 -5-26z" fill="#31b434"/>
<path d="M50 1758l129.9 0 -7.9 3.5 -6 2 -26 4.2 -10 3.4 -4.3 2.9 -12.1 12 -5.6 4.6 -4 2.1 -10 3.5 -4 2 -2.2 1.8 -8.3 10 -5.5 4.5 -4 1.9 -4 1 -18 2.2 0-61.6zM494 1758l80 0 0 138.9 -8.1-12.9 -9.9-12 -7.9-14 -2.9-4 -5.9-6 -15.3-13.2 -6-7.2 -4-8.6 -6-19.2 -9.5-15.8 -5.9-26z" fill="#45b72c"/>
<path d="M50 1758l114.3 0 -24.3 6.1 -6 2.1 -6 3 -6 4.6 -10.5 10.2 -5 4 -4.5 2.5 -10 4.2 -4 2.5 -10 12.1 -6 4.6 -6 2 -18 2.2 0-60.1zM496 1758l78 0 0 130.6 -6-8.6 -10-11.2 -10-16 -7-6.8 -15-12.6 -6.4-7.4 -4-8 -7-20 -7.7-14 -6.5-26z" fill="#5cba27"/>
<path d="M50 1758l97.5 0 -11.5 4.1 -10 5.4 -5.7 4.5 -14.3 12.9 -4.9 3.1 -13.1 6.8 -3.4 3.2 -7.6 10 -5 4.2 -6 2.2 -18 2.2 0-58.6zM498 1758l76 0 0 124.4 -14-15.6 -10-15.4 -8-7.6 -16-13.6 -6-7.6 -4-8.3 -5.9-16.3 -7-14 -7-26z" fill="#78bf24"/>
<path d="M50 1758l87.6 0 -7.6 3.9 -6 4.1 -21.3 18 -12.7 7.2 -3.9 2.8 -3.7 4 -6.4 8.6 -4 3.8 -6 2.4 -18 2.3 0-57.1zM498 1758l76 0 0 119.9 -12-12.5 -10.4-15.4 -9.6-9 -14-11.9 -6-7.1 -4-7.2 -6.6-16.8 -5.7-12 -7.8-28z" fill="#93c422"/>
<path d="M50 1758l81.2 0 -15.2 11.3 -14 12.2 -16 10.2 -4.3 4.3 -7.4 10 -4.3 3.7 -6 1.9 -16 2 0-55.6zM500 1758l74 0 0 116.3 -10.3-10.3 -9.7-14.1 -12-11.5 -14-12.2 -6-7.6 -4-7.7 -10.6-24.9 -7.8-28z" fill="#adc91e"/>
<path d="M50 1758l76.3 0 -14.3 11.5 -12 10.5 -16 10.9 -4 4.4 -6.3 8.7 -3.7 3.6 -6.1 2.4 -15.9 2 0-54zM502 1758l72 0 0 113.2 -10-9.9 -10-13.7 -12-11.7 -12-10.4 -6.2-7.5 -5.8-10.6 -9.1-21.4 -7.6-28z" fill="#c0cc18"/>
<path d="M50 1758l72.1 0 -23.2 20 -14.9 10.4 -5.3 5.6 -6.7 9.1 -3.1 2.9 -2.9 1.5 -4 1.1 -14 1.8 0-52.4zM504 1758l70 0 0 110.3 -10-9.7 -9.6-12.6 -10.4-10.6 -12.9-11.4 -7.1-8.7 -5.1-9.3 -8.6-20 -7.3-28z" fill="#d2cf12"/>
<path d="M50 1758l68 0 -20.3 18 -15.7 11.6 -4.1 4.4 -5.9 8 -4 4.1 -6 2.6 -14 2.1 0-50.8zM506 1758l68 0 0 107.7 -8-7.4 -8-10.3 -12-13 -14.3-13 -7.7-9.7 -4.6-8.3 -7.7-18 -7.1-28z" fill="#dfd00c"/>
<path d="M50 1758l64 0 -18 16.5 -15.3 11.5 -3.7 4 -7 9.2 -2.8 2.8 -3.2 2 -4 1.3 -12 1.8 0-49.1zM508 1758l66 0 0 105.1 -8-7.2 -8.1-9.9 -11.9-13.2 -14-12.9 -8-10.5 -4.1-7.4 -7.6-18 -6-26z" fill="#e9d007"/>
<path d="M50 1758l60.1 0 -16.1 15.3 -14.3 10.7 -13.7 16.1 -6 3.1 -12 2.1 0-47.3zM508 1758l66 0 0 102.8 -8-7.1 -20-23.1 -13.5-12.6 -8.5-11.4 -4-7.4 -6.4-15.2 -1.8-6 -3.9-20z" fill="#f3d002"/>
<path d="M50 1758l56.3 0 -14.3 14 -14 10.5 -10 12.3 -4 4 -6 2.8 -10 1.8 0-45.4zM510 1758l64 0 0 100.5 -8-6.9 -18-21 -14-13.4 -4.4-5.2 -5.5-8 -4.1-8 -6-14.6 -4.5-23.4z" fill="#f8c800"/>
<path d="M50 1758l52.5 0 -12.5 12.4 -12.9 9.6 -13.6 16 -5.5 3.2 -10 2.2 0-43.4zM512 1758l62 0 0 98.3 -8-6.8 -10.4-11.5 -7.6-9.4 -13-12.6 -9.2-12 -3.8-6.7 -7.2-17.3 -3.7-22z" fill="#f8b900"/>
<path d="M50 1758l48.7 0 -10.7 10.6 -12 8.8 -14 16.6 -6 3.4 -8 1.9 0-41.3zM514 1758l60 0 0 96.2 -6-4.8 -10-10.5 -8.8-10.9 -13.9-14 -9.3-12.4 -4-7.6 -5.9-14 -1.3-6 -2-16z" fill="#f8aa00"/>
<path d="M50 1758l44.9 0 -8.4 8 -12.5 9.5 -10 12.7 -3.8 3.8 -4.2 2.6 -8 2.4 0-39zM516 1758l58 0 0 94 -6-4.7 -10-10.2 -8-10.1 -14.3-15 -8.9-12 -4.8-9.2 -4.6-10.8 -1.3-6 -1.7-16z" fill="#f79902"/>
<path d="M50 1758l40.8 0 -6.7 6 -10.8 8 -10.9 14 -4.1 4 -4.3 2.6 -6 2 0-36.6zM518 1758l56 0 0 91.9 -6-4.6 -9.4-9.3 -8.6-10.9 -12.4-13.1 -9.6-12.9 -6-11.6 -3.8-9.5 -2.2-20z" fill="#f48308"/>
<path d="M50 1758l36.4 0 -15.2 12 -9.2 12.3 -4 4.3 -4 2.9 -6 2.5 0-34zM518 1758l56 0 0 89.8 -6-4.5 -8-7.5 -8-10.3 -12.4-13.5 -10.5-14 -5.1-9.6 -4.4-10.4 -1.9-20z" fill="#f16d0f"/>
<path d="M50 1758l31.8 0 -12.4 10 -9 12 -3.7 4 -4.7 3.3 -4 1.9 0-31.2zM520 1758l54 0 0 87.7 -8-6.1 -6-5.5 -7.6-10.1 -12.6-14 -10.1-14 -4.2-8 -4.4-10 -.9-6 -.8-14z" fill="#eb5712"/>
<path d="M50 1758l27 0 -9 7.8 -8 10.6 -4 4.4 -4 3.2 -4 2.2 0-28.2zM522 1758l52 0 0 85.5 -8-5.7 -6-5.6 -6-8.3 -12.3-13.9 -11.4-16 -7.5-16 -1-6 -.7-14z" fill="#e54116"/>
<path d="M50 1758l22.6 0 -6.6 6.3 -10 12.7 -4 3.5 -4 2.5 0-25zM524 1758l50 0 0 83.4 -8-5.5 -4.5-3.9 -7.3-10 -10.7-12 -11.3-16 -4.2-8 -3.9-10 -1.2-18z" fill="#df2d19"/>
<path d="M50 1758l18.5 0 -4.5 4.8 -8 10.2 -4 3.8 -4 2.8 0-21.6zM526 1758l48 0 0 81.1 -8-5.1 -4-3.5 -6-8.5 -12.2-14 -11-16 -3-6 -3.8-10.9 -1-7.1 -.2-10z" fill="#d82120"/>
<path d="M50 1758l14.8 0 -9.7 12 -7.1 6.1 0-18.1zM528 1758l46 0 0 78.8 -10.3-6.8 -7.4-10 -10.8-12 -10.8-16 -3.9-8 -3-10 -.9-6 -.2-10z" fill="#d8242c"/>
<path d="M50 1758l11.1 0 -7.1 8.9 -6 5.5 0-14.4zM530 1758l44 0 0 76.3 -7.1-4.3 -2.9-2.7 -5.6-7.3 -11.1-12 -11.3-16.9 -3.4-7.1 -3.2-12 -.7-6 0-8z" fill="#d82939"/>
<path d="M50 1758l7.5 0 -5.5 6.5 -4 3.8 0-10.3zM532 1758l42 0 0 73.6 -7.8-5.6 -16.2-16.9 -3.9-5.1 -8.9-14 -2.8-6 -3.1-12 -.7-6 .1-8z" fill="#dc3952"/>
<path d="M50 1758l3.5 0 -5.5 5.9 0-5.9zM534 1758l40 0 0 70.4 -10-8.2 -12-11.1 -4.2-5.1 -8.8-14 -3-6.3 -2.5-9.7 -.9-8 .3-8z" fill="#e04b6a"/>
<path d="M48 1759.2l0-1.2 1.2 0zM536 1758l38 0 0 66.7 -14-10.6 -8-7.2 -3.8-4.9 -7.3-12 -3.1-6 -2.2-8 -.9-8 .5-10z" fill="#e36178"/>
<path d="M538 1758l36 0 0 63 -12-7.8 -8-6.5 -4-4.7 -8-13.5 -3.1-6.5 -1.5-6 -.6-8 .8-10z" fill="#e67786"/>
<path d="M540 1759.6l.3-1.6 33.7 0 0 59.5 -16-9.6 -4.4-3.9 -3.6-4.9 -7.3-13.1 -2.7-6.1 -1-7.9 .9-12z" fill="#e98c8f"/>
<path d="M544 1758l30 0 0 56.1 -10-4.9 -6-3.8 -4-3.4 -2.6-4 -7.5-14 -2.4-6 -.2-8 2-12z" fill="#ee998b"/>
<path d="M548 1758l26 0 0 52.6 -14-6.5 -4-3 -2.4-3.1 -7.6-14.9 -2-5.1 0-8 2.8-12z" fill="#f2a787"/>
<path d="M552 1758l22 0 0 48.7 -10-3.7 -6-3.6 -2.5-3.4 -6.8-14 -1.5-4 -.2-4 1-5.6 3.3-10.4z" fill="#f7b583"/>
</g></g>
<circle cx="86.5" cy="1782.5" r="1.0" fill="#333"/><circle cx="161.0" cy="1781.0" r="1.0" fill="#333"/><circle cx="224.5" cy="1781.0" r="1.0" fill="#333"/><circle cx="286.0" cy="1782.0" r="1.0" fill="#333"/><circle cx="351.0" cy="1780.5" r="1.0" fill="#333"/><circle cx="411.5" cy="1782.5" r="1.0" fill="#333"/><circle cx="472.5" cy="1785.0" r="1.0" fill="#333"/><circle cx="535.0" cy="1784.0" r="1.0" fill="#333"/><circle cx="350.0" cy="1815.5" r="1.0" fill="#333"/><circle cx="86.5" cy="1850.5" r="1.0" fill="#333"/><circle cx="285.0" cy="1850.5" r="1.0" fill="#333"/><circle cx="86.5" cy="1885.0" r="1.0" fill="#333"/><circle cx="473.0" cy="1884.5" r="1.0" fill="#333"/><circle cx="86.5" cy="1921.0" r="1.0" fill="#333"/>
<circle cx="527.5" cy="1845.5" r="1.8" fill="#666"/>
<polygon points="61.0,2035.0 63.0,2025.0 66.0,2012.0 69.5,2002.2 73.7,2000.0 84.3,2000.0 90.6,2006.4 92.7,2010.6 105.3,2014.8 109.5,2019.0 120.0,2019.0 122.2,2013.8 134.8,2013.8 155.9,2017.0 162.2,2019.0 172.7,2017.4 174.8,2023.3 189.6,2026.4 195.9,2026.4 206.4,2020.1 210.7,2023.3 221.2,2030.6 225.4,2023.3 231.7,2020.1 238.0,2025.4 242.3,2030.6 263.3,2031.7 267.5,2030.6 284.4,2035.0" fill="#6d6d6d"/>
<polygon points="393.0,2035.0 392.1,2021.3 384.8,2019.5 373.8,2015.8 372.9,2012.2 379.3,2010.3 388.4,2006.7 392.1,2002.1 377.5,1999.4 372.0,1995.7 368.3,1984.8 372.0,1978.4 376.6,1972.9 373.8,1967.4 369.3,1964.7 377.5,1962.9 383.0,1957.4 388.4,1952.8 399.4,1951.9 408.5,1950.1 417.6,1952.8 424.9,1947.3 432.2,1948.3 439.5,1951.0 454.2,1950.1 461.5,1953.7 466.0,1962.0 466.9,1972.0 476.0,1973.8 483.4,1974.7 494.3,1973.8 505.3,1978.4 519.9,1974.7 525.4,1980.2 534.5,1972.0 538.1,1976.6 549.1,1978.4 558.2,1982.0 570.5,1988.4 570.5,2035.0" fill="#6d6d6d"/>
<ellipse cx="349.7" cy="1990.3" rx="1.6" ry="3.2" transform="rotate(-30 349.7 1990.3)" fill="#6d6d6d"/>
<rect x="50.6" y="1665.8" width="520.6" height="369.2" fill="none" stroke="#dedede" stroke-width="2.6"/>
<line x1="99.0" y1="1665.8" x2="161.2" y2="1665.8" stroke="#000" stroke-width="3.2"/>
<line x1="223.3" y1="1665.8" x2="285.4" y2="1665.8" stroke="#000" stroke-width="3.2"/>
<line x1="347.6" y1="1665.8" x2="409.6" y2="1665.8" stroke="#000" stroke-width="3.2"/>
<line x1="471.8" y1="1665.8" x2="533.8" y2="1665.8" stroke="#000" stroke-width="3.2"/>
<line x1="99.0" y1="2035.0" x2="161.2" y2="2035.0" stroke="#000" stroke-width="3.2"/>
<line x1="223.3" y1="2035.0" x2="285.4" y2="2035.0" stroke="#000" stroke-width="3.2"/>
<line x1="347.6" y1="2035.0" x2="409.6" y2="2035.0" stroke="#000" stroke-width="3.2"/>
<line x1="471.8" y1="2035.0" x2="533.8" y2="2035.0" stroke="#000" stroke-width="3.2"/>
<line x1="50.6" y1="1675.8" x2="50.6" y2="1710.6" stroke="#000" stroke-width="3.2"/>
<line x1="50.6" y1="1745.3" x2="50.6" y2="1780.0" stroke="#000" stroke-width="3.2"/>
<line x1="50.6" y1="1814.8" x2="50.6" y2="1849.6" stroke="#000" stroke-width="3.2"/>
<line x1="50.6" y1="1884.3" x2="50.6" y2="1919.0" stroke="#000" stroke-width="3.2"/>
<line x1="50.6" y1="1953.8" x2="50.6" y2="1988.5" stroke="#000" stroke-width="3.2"/>
<line x1="50.6" y1="2023.3" x2="50.6" y2="2035.0" stroke="#000" stroke-width="3.2"/>
<line x1="571.2" y1="1677.0" x2="571.2" y2="1712.0" stroke="#000" stroke-width="3.2"/>
<line x1="571.2" y1="1746.7" x2="571.2" y2="1780.4" stroke="#000" stroke-width="3.2"/>
<line x1="571.2" y1="1816.4" x2="571.2" y2="1850.0" stroke="#000" stroke-width="3.2"/>
<line x1="571.2" y1="1885.6" x2="571.2" y2="1919.8" stroke="#000" stroke-width="3.2"/>
<line x1="571.2" y1="1955.6" x2="571.2" y2="1989.3" stroke="#000" stroke-width="3.2"/>
<line x1="571.2" y1="2025.0" x2="571.2" y2="2034.0" stroke="#000" stroke-width="3.2"/>
<text x="45.3" y="1676.2" font-size="11" text-anchor="end" dominant-baseline="central" fill="#111" font-weight="bold" font-style="italic" >64°S</text>
<text x="45.3" y="1745.3" font-size="11" text-anchor="end" dominant-baseline="central" fill="#111" font-weight="bold" font-style="italic" >66°S</text>
<text x="45.3" y="1814.8" font-size="11" text-anchor="end" dominant-baseline="central" fill="#111" font-weight="bold" font-style="italic" >68°S</text>
<text x="45.3" y="1884.3" font-size="11" text-anchor="end" dominant-baseline="central" fill="#111" font-weight="bold" font-style="italic" >70°S</text>
<text x="45.3" y="1954.5" font-size="11" text-anchor="end" dominant-baseline="central" fill="#111" font-weight="bold" font-style="italic" >72°S</text>
<text x="45.3" y="2024.2" font-size="11" text-anchor="end" dominant-baseline="central" fill="#111" font-weight="bold" font-style="italic" >74°S</text>
<text x="161.2" y="2046.4" font-size="11" text-anchor="middle" dominant-baseline="central" fill="#111" font-weight="bold" font-style="italic" >120°W</text>
<text x="285.4" y="2046.4" font-size="11" text-anchor="middle" dominant-baseline="central" fill="#111" font-weight="bold" font-style="italic" >110°W</text>
<text x="409.6" y="2046.4" font-size="11" text-anchor="middle" dominant-baseline="central" fill="#111" font-weight="bold" font-style="italic" >100°W</text>
<text x="533.8" y="2046.4" font-size="11" text-anchor="middle" dominant-baseline="central" fill="#111" font-weight="bold" font-style="italic" >90°W</text>
<text x="304.5" y="1649.0" font-size="14.8" text-anchor="middle" dominant-baseline="central" fill="#222" font-weight="bold" font-style="italic" textLength="139" lengthAdjust="spacingAndGlyphs" >Chl-a concentration</text>
<text x="465.2" y="1647.5" font-size="15.5" text-anchor="middle" dominant-baseline="central" fill="#222" font-weight="bold" textLength="155" lengthAdjust="spacingAndGlyphs" >In the Pacific sector</text>
<text x="576.8" y="1992.0" font-size="5.2" text-anchor="middle" dominant-baseline="central" fill="#333" font-weight="bold" font-style="italic" transform="rotate(-90 576.8 1992.0)" textLength="76" lengthAdjust="spacingAndGlyphs" >Ocean Data View / DIVA</text>
<defs><linearGradient id="Gcbg" gradientUnits="userSpaceOnUse" x1="0" y1="1668.4" x2="0" y2="2034.0"><stop offset="0.000" stop-color="#f8b882"/><stop offset="0.055" stop-color="#e88890"/><stop offset="0.100" stop-color="#e04868"/><stop offset="0.130" stop-color="#d82838"/><stop offset="0.160" stop-color="#d82020"/><stop offset="0.180" stop-color="#e03018"/><stop offset="0.220" stop-color="#f06810"/><stop offset="0.260" stop-color="#f8a000"/><stop offset="0.310" stop-color="#f8d000"/><stop offset="0.360" stop-color="#d8d010"/><stop offset="0.400" stop-color="#a8c820"/><stop offset="0.450" stop-color="#50b828"/><stop offset="0.500" stop-color="#10b040"/><stop offset="0.540" stop-color="#10c050"/><stop offset="0.590" stop-color="#10d090"/><stop offset="0.630" stop-color="#10c8c0"/><stop offset="0.680" stop-color="#10b8e0"/><stop offset="0.740" stop-color="#2098f8"/><stop offset="0.810" stop-color="#5060ff"/><stop offset="0.900" stop-color="#7838ff"/><stop offset="0.950" stop-color="#9048ff"/><stop offset="1.000" stop-color="#d46cf4"/></linearGradient></defs>
<polygon points="582.0,1668.4 589.6,1662.0 597.2,1668.4 597.2,2034.0 589.6,2040.8 582.0,2034.0" fill="url(#Gcbg)"/>
<line x1="582.0" y1="1667.1" x2="584.0" y2="1667.1" stroke="#333" stroke-width="0.8"/>
<line x1="595.2" y1="1667.1" x2="597.2" y2="1667.1" stroke="#333" stroke-width="0.8"/>
<text x="601.0" y="1667.1" font-size="10.5" text-anchor="start" dominant-baseline="central" fill="#222" font-weight="bold" font-style="italic" >0.4</text>
<line x1="582.0" y1="1733.8" x2="584.0" y2="1733.8" stroke="#333" stroke-width="0.8"/>
<line x1="595.2" y1="1733.8" x2="597.2" y2="1733.8" stroke="#333" stroke-width="0.8"/>
<text x="601.0" y="1733.8" font-size="10.5" text-anchor="start" dominant-baseline="central" fill="#222" font-weight="bold" font-style="italic" >0.35</text>
<line x1="582.0" y1="1800.9" x2="584.0" y2="1800.9" stroke="#333" stroke-width="0.8"/>
<line x1="595.2" y1="1800.9" x2="597.2" y2="1800.9" stroke="#333" stroke-width="0.8"/>
<text x="601.0" y="1800.9" font-size="10.5" text-anchor="start" dominant-baseline="central" fill="#222" font-weight="bold" font-style="italic" >0.3</text>
<line x1="582.0" y1="1867.6" x2="584.0" y2="1867.6" stroke="#333" stroke-width="0.8"/>
<line x1="595.2" y1="1867.6" x2="597.2" y2="1867.6" stroke="#333" stroke-width="0.8"/>
<text x="601.0" y="1867.6" font-size="10.5" text-anchor="start" dominant-baseline="central" fill="#222" font-weight="bold" font-style="italic" >0.25</text>
<line x1="582.0" y1="1934.1" x2="584.0" y2="1934.1" stroke="#333" stroke-width="0.8"/>
<line x1="595.2" y1="1934.1" x2="597.2" y2="1934.1" stroke="#333" stroke-width="0.8"/>
<text x="601.0" y="1934.1" font-size="10.5" text-anchor="start" dominant-baseline="central" fill="#222" font-weight="bold" font-style="italic" >0.2</text>
<line x1="582.0" y1="2000.7" x2="584.0" y2="2000.7" stroke="#333" stroke-width="0.8"/>
<line x1="595.2" y1="2000.7" x2="597.2" y2="2000.7" stroke="#333" stroke-width="0.8"/>
<text x="601.0" y="2000.7" font-size="10.5" text-anchor="start" dominant-baseline="central" fill="#222" font-weight="bold" font-style="italic" >0.15</text>
<text x="644.7" y="1853.6" font-size="16" text-anchor="middle" dominant-baseline="central" fill="#111" font-weight="bold" transform="rotate(-90 644.7 1853.6)" textLength="229" lengthAdjust="spacingAndGlyphs" >Chl-a concentration (mg.m-3)</text>
</g><g id="H">
<defs><clipPath id="Hclip"><polygon points="809.5,1759.0 856.9,1756.1 942.2,1756.1 970.7,1759.0 1008.6,1764.6 1060.0,1773.2 1097.9,1775.1 1135.8,1774.1 1192.7,1768.4 1249.6,1763.7 1327.0,1758.0 1327.0,1871.0 1287.5,1876.5 1250.7,1883.2 1230.6,1886.0 1187.5,1897.9 1138.0,1908.5 1100.0,1925.0 1050.0,1929.0 1031.3,1929.0 989.6,1927.4 951.7,1924.6 894.8,1918.9 809.5,1912.2"/></clipPath><filter id="Hblur" x="-2%" y="-2%" width="104%" height="104%"><feGaussianBlur stdDeviation="1.1"/></filter></defs>
<g clip-path="url(#Hclip)"><g filter="url(#Hblur)">
<rect x="806.0" y="1754.0" width="524.0" height="178.0" fill="#c966f6"/>
<path d="M808 1754l522 0 0 109.2 -8-3.1 -8-2.2 -10-1.7 -8-.4 -10 .6 -14 1.9 -10 2.2 -8 3.1 -3.5 2.4 -18.5 18.5 -27 35.5 -4 6 -3.1 6 -391.9 0 0-178z" fill="#b45bf9"/>
<path d="M808 1754l522 0 0 105.1 -10-3.4 -10-2.3 -10-1.2 -10-.1 -40 2.4 -30.7 7.5 -3.5 2 -1.8 2.2 -1.1 3.8 -1.3 12 -1.4 4 -2.2 4 -6 7.2 -15.4 12.8 -6 6 -2.8 4 -1.9 4 -1.6 8 -368.3 0 0-178z" fill="#9f50fd"/>
<path d="M808 1754l522 0 0 101.4 -16-4.6 -16-2 -46-.3 -26 1.8 -22-1.7 -7 1.4 -5 3.2 -4.3 4.8 -7.9 16 -2.9 4 -2.9 2.8 -10 7 -26 14.2 -5.4 4 -1.3 2 -.2 2 1.8 4 14.1 18 -341 0 0-178zM890 1852l-2.2 2 -2 4 -.2 6 1.3 4 3 4 4.1 2.2 4 .3 4-1.2 3.9-3.3 1.7-4 .2-4 -1-4 -2.8-4.1 -4-2.7 -4-.8 -4 .6zM1082.7 1884l-3 2 -1.7 4 1 4 3 4.1 4 3 6 2.7 6 1.1 6-.6 2.6-2.3 -.4-2 -4.8-6 -9.4-8.2 -4-2 -4-.2z" fill="#8e46ff"/>
<path d="M808 1754l146.7 0 1.4 6 1.9 4.5 2 2.1 4 1.4 6-.8 7.5-3.2 5.1-4 4.5-6 342.9 0 0 98 -14-4 -14-2 -50-1.9 -26 .6 -8-.8 -14-2.4 -6 .1 -7.7 2.4 -6.8 4 -7.2 6 -12.3 12.1 -8 6 -10 5.4 -14 5.3 -12 2.8 -10 .3 -8-1.6 -12-6 -4-.4 -4 .9 -4 2.8 -1.8 2.4 -.9 2 -.7 4 1.4 6 4 6 4 3.9 6 4.3 22 12.6 12.8 9.2 -318.8 0 0-178zM887.7 1842l-3.5 2 -2.2 2 -2 3 -1.2 3 -.5 6 1.9 8 3.8 6.6 3.3 3.4 2.7 1.9 6 2.2 4 .2 4-.7 4-2.9 2.2-.7 1.9-2 2.4-4 1-4 .3-4 -.5-4 -1.3-4.3 -4-6.7 -3.3-3 -2.7-1.6 -4-1.4 -4-.6 -4 .3 -4 1.1z" fill="#8641ff"/>
<path d="M808 1754l133.3 0 2.3 6 1.5 10 1.7 4 1.7 2 3 2 2.5 .8 4 .3 6-1 6-1.9 14-6.5 5-3.7 4-4 5.3-8 331.7 0 0 94.8 -12-3.3 -14-2.2 -52-3.1 -28 .1 -22-3.5 -4 0 -6.2 1.2 -10.2 4 -10.1 6 -13.5 10.2 -6 3.7 -8 3.9 -10 3.6 -16 4.4 -10 1.8 -6-.2 -10-3 -4-.2 -4 .8 -4 1.9 -3.7 3.1 -2.3 3.1 -1.3 2.9 -.9 6 .5 4 1.4 4 4.3 6.9 6 6.4 26 20.7 -304 0 0-178zM888.1 1832l-4.1 1.3 -4 2.1 -3.1 2.6 -2.9 3.6 -1.9 4.4 -.7 4 .8 8 2 6 3.1 6 2.8 4 3.9 4.2 4 3.1 4 2.1 4 1.2 6 .6 7.6-7.2 2.4-1.2 6-5.2 3.2-1.6 1-8 -1.1-8 -1.8-6 -3-6 -2.3-3.2 -4-3.6 -4-2.1 -4-1.2 -6-.6 -6 .3z" fill="#7f3cff"/>
<path d="M808 1754l106.5 0 2.6 4 2.2 6 1.5 14 1.7 6 2.8 4 2.7 2 4 1.3 4 .5 10-1 12-2.8 26-12.1 6.6-3.9 7.8-6 5.1-6 3.3-6 323.2 0 0 91.8 -12-3.1 -14-2.1 -28-1.6 -24-2.2 -28 0 -8-.9 -14-2.5 -4-.1 -12 2.3 -10 3.5 -10 4.9 -16 9.4 -10 3.8 -22 5.1 -24 2.8 -8 1.8 -4 1.7 -4 2.6 -4 3.9 -2 2.9 -1.8 4 -.9 4 -.2 4 .6 4 3 8 5.3 7.8 8 8.8 14 13.4 -294 0 0-178zM883.1 1822l-5.1 2.1 -4 2.5 -4 3.6 -3 3.8 -2.2 4 -1.1 4 -.2 4 .9 6 2 6 3.9 8 3.8 6 4.9 6 5 4.7 5 3.3 5 2.2 6 1.4 2-.8 12.8-12.8 4-2 2-2 6.8-4 .2-8 -1.8-11.4 -3-10.6 -3-7.1 -2-3.3 -4-3.9 -4-1.8 -4-.6 -14-.6 -8 1z" fill="#7739ff"/>
<path d="M1014 1754.2l316-.2 0 89 -12-3 -14-2 -26-1.6 -26-2.8 -30 .1 -24-3.1 -11.4 1.4 -12.6 3.1 -10 3.6 -16 7.1 -10 3.2 -12 2.4 -22 3 -8 2.3 -8 3.3 -6 3.1 -8 6.4 -3.4 4.5 -2.1 4 -1.2 4 -.8 6 1.2 8 4.3 10 8 11.3 13 14.7 -287 0 0-157.7 10 2.4 22 3.5 10 2.2 10 4 4 2.6 3.1 3 1.5 2 1.6 4 .1 6 -1.2 4 -2.8 6 -8.3 13 -2.2 5 -.9 6 1.5 8 3.7 8 6.1 10 5.6 8 6.7 8 5.5 5.1 6 4.2 6 2.8 6 1.5 12-12.7 1.9-.9 4-4 4-2 2-2 8-4 1.4-2 -.4-8 -3.1-22 -.4-8 .7-6 1.1-4 1.9-4 2.9-4 6.2-6 7.8-5.3 39.5-20.7 10.1-6 7.1-6 3-4 3.4-6z" fill="#7040ff"/>
<path d="M1020 1755.8l.9-1.8 309.1 0 0 86.3 -10-2.5 -10-1.6 -34-2.5 -22-2.9 -8-.3 -24 .5 -20-2.5 -6-.2 -10 .8 -10 1.6 -13.7 3.3 -24.3 7.2 -10 2 -22 3.1 -8 2.2 -14 7.6 -10.1 7.9 -3.9 4.5 -3.2 5.5 -1.5 4 -1.2 6 -.1 4 .7 6 3.5 10 7.8 13.2 11.3 14.8 -281.3 0 0-137.8 14.8 5.8 5.9 4 3.3 3.6 3.1 6.4 .8 4 .8 14 2.4 6 4.5 6 30.8 36 7.6 7.4 6.2 4.6 7.8 3.9 4 1.2 2-.1 4-4 2-4 10-9.5 3-1.5 2-2 5-3 2-.5 2-1.5 7-3 1.7-2 -2.7-24 .2-10 1.3-6 1.6-4 3.3-6 4.3-6 6-6 8.6-6 12.7-7.4 26-13.5 8-5 5.8-6.1 6.1-10z" fill="#6947ff"/>
<path d="M1028 1754l302 0 0 83.7 -8-2 -10.6-1.7 -33.4-2.5 -26-3.6 -30 .7 -20-2.1 -8-.3 -14 .7 -12 1.6 -34 6.8 -26 4 -10 2.8 -6 2.8 -8 5.1 -6 4.5 -6 5.6 -4 4.7 -3.1 5.2 -2.9 9 -.6 5 .2 6 1.2 6 2 6 5.2 10.8 12.4 19.2 -.4 0 -276 0 0-116.1 2.9 2.1 1.6 2 .5 2 -.8 10 .3 4 1.5 4 2 2.6 4 2.4 16 5.4 8 4.5 12 9.8 18.3 19.3 7.7 7.1 10 6.7 10 3.6 2-3.3 2-2 2-4 12.1-12.1 4-2 2-2 15.9-7.9 2.1-.1 2-2 -3-20 -.3-6 .5-6 1.5-6 1.7-4 4.7-8 4.3-6 6.4-6 10.1-6.7 12-6.6 24-11.9 6-3.8 4-3.7 4-4.8 7.6-12.5z" fill="#624eff"/>
<path d="M1034 1755l.6-1 295.4 0 0 81.2 -18-3.4 -34-2.6 -26-4 -8-.1 -22 1.2 -24-2 -16-.3 -32 2.6 -38 5.5 -8 1.7 -6 2 -6 2.8 -6 3.7 -8 6.2 -6 5.5 -4 4.4 -4.1 5.6 -3 6 -1.7 6 -.6 6 .2 6 2.8 12 6.4 14.5 10.1 17.5 -272.1 0 0-82 6 2.9 20 3.9 10 4.4 6 3.9 6 4.8 20 19.7 8 6.8 8 5 10 3.7 1.1-1.1 .5-2 2.4-2.8 2-4 4-4 .6-1.2 10.6-10 4-2 2-2 10.8-5.4 2 0 9.8-4.6 -4.1-18 -.5-6 .3-6 1.4-6 1.6-4 5.5-9.6 4-5.2 6-5.5 10-6.6 16-8.3 19.5-8.8 6.5-4 4.6-4 3.5-4 9.3-14z" fill="#5b55ff"/>
<path d="M1042 1754.2l288-.2 0 78.8 -8-1.7 -12-1.7 -34-2.6 -24-4.1 -6-.2 -16 1.3 -10 .3 -40-2.8 -30 .7 -32 3 -10 1.4 -10 2.9 -8 3.9 -6 4 -14 12.6 -5.5 6.2 -4.2 6 -2.3 4.6 -1.8 5.4 -.8 6 .1 6 2.4 12 6.1 15.9 10.2 20.1 -268.2 0 0-75.3 6 1.8 20 3.7 6 2.2 6 3 6 3.9 6 4.8 18 17.2 8 6.7 8 5 10 3.9 2-2.5 4-8 2-2 4-6 8-7.2 2.4-1.2 2-2 4-2 2-2 5.6-2.8 4-1 4-2 2 0 4-1.8 2-.2 4.1-2.2 -5.6-16 -1-6 -.1-6 1.1-6 2.2-6 3.3-6 4.3-6 7.7-7 10-6.2 18-8.6 16-6.2 8-4.4 4-3.3 4-4.3 12.9-18z" fill="#545cff"/>
<path d="M1050 1755.1l.8-1.1 279.2 0 0 76.5 -8-1.6 -14-1.9 -32-2.3 -26-4.6 -22 1.7 -10 .2 -40-3.3 -28-.8 -14 .9 -20 .1 -10 1.1 -8 2.2 -6 2.6 -6 3.7 -6 4.8 -10 9.8 -9.6 10.9 -5.2 8 -2.5 6 -.9 4 -.3 6 2.1 12 6.4 18.6 10.5 23.4 -264.5 0 0-70 24 4.3 8 2.5 6 2.9 6 3.7 6 4.6 18 17 8 6.7 8 5 10 4.1 2-1.3 1.5-3.5 .2-2 1.8-2 .5-2.5 2-2 2-4 11.5-11.5 4-2 2-2 4.5-2.5 12-5.8 2 0 6-2 6-.9 2-1.3 2-.3 2.7-1.2 -4.7-6 -4-7.3 -2.1-6.7 -.7-6 .6-6 1.8-6 4.3-8 4.1-5 8-6.7 10-5.6 16-6.8 20-6.8 8-4.3 6-5.9 17.4-22.9zM995.9 1858l-2.9 2 -3.9 4 -1.6 2 -.2 2 6.7 1.4 2 1.2 8 1 2-1.7 2.2-3.9 0-4 -1-2 -2.2-2 -3-1.2 -2-.1 -4 1.2z" fill="#4c65fe"/>
<path d="M1060 1755.6l1.2-1.6 268.8 0 0 74.3 -8-1.5 -16-2 -28-1.8 -28-5.3 -24 2.1 -12 .1 -16-1.1 -26-3.1 -22-1.3 -14-.2 -22-2.3 -6 0 -6 .8 -6 1.6 -6 2.8 -6 4.1 -4 3.6 -24.2 27.2 -5.6 8 -2.7 6 -1 4 -.1 4 2 10 8.8 24 9.8 24 -261 0 0-65.4 24 3.9 8 2.4 6 2.8 6 3.6 6 4.5 18 17 8 6.6 10 6.1 6 2.5 4 1.1 1.3-3.1 0-2 6.7-13.4 4.3-4.6 10.3-10 4-2 2-2 11.4-5.7 2 0 4-2 2 0 2-1 2 0 6-2 26 0 2 1 2 0 2 1 6 1 4 2 2 0 4 2 2.2-.3 2.3-2 3.2-4 1-2 .6-4 -1-4 -1.2-2 -3.1-3.1 -4-2.2 -4-1 -6 .5 -5 1.8 -11 5.8 -6 1.5 -6-1.1 -6-4.2 -4.2-6 -2.6-8 -.1-6 2.1-8 3.3-6 5.1-6 5-4 7.4-4.3 16-6.6 28-7.4 8.8-3.7 4.3-4 5.2-8 17.4-22z" fill="#4171fd"/>
<path d="M1074 1754.5l.4-.5 255.6 0 0 72.2 -24-3.4 -28-1.8 -28-5.5 -28 2.5 -10 0 -12-.8 -28-4.4 -32-2.3 -8-1.6 -24-6.8 -6-.6 -6 .7 -8 3.3 -4 2.7 -4 3.7 -4 5 -11.9 17.1 -26.4 30 -1.5 2 -.6 2 1.3 4 13.1 24.6 13.5 35.4 -257.5 0 0-61 24 3.4 8 2.4 6 2.6 6 3.6 6 4.4 18 17.3 8 6.6 10 6.1 10 3.9 1.6-1.3 .2-2 1.1-2 1-6 1.9-2 .1-2 1.9-2 .2-2.2 4-4 1.9-3.8 6.1-6.1 3.8-1.9 2-2 4-2 2-2 8.2-4.1 2 0 4-2 2 0 6-2 4-.1 2-.9 22 0 2 .9 4 .1 2 1 6 1 4 2 2 0 10 5 4.5-2.9 10.2-8 1.6-2 .6-2 -3.1-6 -5.5-6 -4.3-3.2 -4-2.1 -4-1.3 -4-.5 -4 .1 -6 1.3 -16 6.2 -6 .3 -4-1.3 -4-2.8 -2-2.4 -2.8-6.3 -.5-6 .6-4 1.5-4 3.7-6 5.5-5.3 6-3.9 8-3.6 10-3.3 10-2.4 16-2.4 16-1.5 4.4-1.6 2.7-2 3.8-4 10.5-18 13.4-18z" fill="#367efb"/>
<path d="M1092 1755.5l1.2-1.5 236.8 0 0 70.1 -26-3.4 -26-1.6 -28-5.8 -28 2.8 -20-.4 -10-1.5 -20-4.3 -24-1.9 -8-1.6 -10.2-4.4 -15.8-10.2 -6-3.2 -6-2.2 -14.3-2.4 -3.7-1.4 -2-1.6 -1.3-3 1.1-6 4.1-8 5.7-8zM1044 1805.9l10-1.2 6.1 1.3 1.9 1.3 1.8 2.7 .8 4 -.3 4 -1 4 -2.7 6 -5.8 8 -8.8 8 -4 2.5 -4 1.6 -6 0 -16-5.8 -8-.9 -10 1.8 -16 6 -4 .7 -4-.4 -4-1.9 -3.4-3.6 -1.8-4 -.3-6 2-6 4.6-6 6.9-4.9 8-3.4 8-2.3 8-1.4 41.5-4zM956 1873.4l10-1.1 18 .1 6 1 6 2 2 0 6 3 4 1 3.1 2.6 6.9 3.4 6-2.4 4-.8 4 .3 4 1.7 6 5.7 6 9.1 5.4 13 6.7 20 -254.1 0 0-56.7 24 2.9 8 2.3 6 2.6 6 3.5 6 4.5 18 17.6 8 6.6 10 6.1 12 4.7 1.4-4.1 0-2 1-2 1-6 4.6-9.1 2-2 2-4 8.9-8.9 3.1-1.6 2-2 4.9-2.4 2-2 5.1-1.6 6-3 2 0 2-1 2.9-.4z" fill="#2c8bfa"/>
<path d="M1124 1754l206 0 0 68.1 -28-3.5 -24-1.3 -28-6 -28 2.8 -10 .3 -10-.5 -10-1.6 -22-6 -6-.7 -12-.4 -6.6-1.2 -4.6-2 -5.6-4 -5-6 -3.1-6 -5-12 -1.5-6 .2-6 2.5-8zM1038 1813.8l6-.6 4 .5 2 .8 2 1.5 1.3 2 .6 4 -1.9 5.5 -3.7 4.5 -4.3 3.1 -6 2.1 -6-.1 -14-3.8 -6 0 -6 1.3 -6 2.2 -16 7.1 -6 1.1 -4-.8 -3.1-2.2 -1.5-2 -1.1-4 .5-4 3.2-5.5 5.8-4.5 6.2-2.6 6-1.5 6-.7 24 .3 16.8-3.5zM966 1873.3l14 0 12 2 6 1.7 18 9 4 4 10-.8 6 2 6 4.9 4.1 5.9 5.2 12 5.3 18 -250.6 0 0-52.3 14 1 10 1.3 8 2.1 6 2.6 6 3.5 6 4.6 16 16.3 10 8.4 12 7.1 12 4.4 1-3 0-4 1-2 0-6 2-4 0-2 2-2 0-2 2-2 2-4 8-9 2-1 4-4 18-9 12-3 4 0z" fill="#2197f8"/>
<path d="M1150 1754l180 0 0 66.2 -28-3.4 -24-1.3 -28-6.1 -28 2.8 -12 .3 -8-.3 -10.8-2.2 -21.2-7.5 -8-1.1 -10 .1 -4-.9 -4-2.6 -3.1-4 -1.4-4 -.2-4 1.4-8 2.2-8 6.6-16zM986 1826l4 .9 1.7 1.1 .3 2 -1 2 -4 4 -3 1.9 -4 1.4 -2 .1 -2-.5 -2-1.5 -.8-3.4 .6-2 2.2-2.6 2-1.5 4-1.4 3.4-.5zM958 1875.7l8-1.1 10-.2 8 .6 8 1.6 2 1 2.9 .4 16 8 2 2 3.1 1.6 6 5.3 6 .2 6 2 6 5 4 6.5 3.6 9.4 3.4 14 -143.9 0 .5-12 1-2 1-6 1.5-2 .5-2 1.5-2 .9-2.9 2-2 1.6-3.1 2.4-2.9 6-5.5 3.1-1.6 2-2 16-8 8-2zM808 1884.2l14 .7 10 1.3 6 1.7 8 3.5 4.3 2.6 5 4 14.7 15.7 8 7.2 8 5.8 10.1 5.3 -90.1 0 0-47.8z" fill="#1ca0f2"/>
<path d="M1172 1754l158 0 0 64.3 -28-3.3 -16-.5 -8-.8 -22-5.2 -6-.9 -32 2.8 -10 .3 -8-.6 -10-2.8 -22-10.6 -15.4-2.7 -1.8-2 -.5-2 .1-2 1.3-4 2.5-4 9.4-10 3-4 3-6 1.7-6zM970 1875.4l14 .7 12 3 16 8 2 2 1.8 .9 10.2 10.2 6 1 5.6 2.8 4.4 4.7 2.8 5.3 1.9 6 2.4 12 -138 0 0-8 1-2 .1-6 .9-2 6.9-13.8 10.2-10.2 1.8-.9 2-2 16-8 12-3 6.2-.1zM808 1888.9l14 .3 10 1.1 6.6 1.7 7.4 3.2 6.9 4.8 14.6 16 6.5 6.3 6 4.9 7.2 4.8 -81.2 0 0-43.1z" fill="#18a8ec"/>
<path d="M1186 1754l144 0 0 62.4 -28-3.1 -22-1 -8-1.4 -20-4.8 -6-.1 -18 1.8 -20 .9 -8-.5 -7.4-2.2 -7.2-4 -5.2-4 -5.5-6 -1.8-4 -.1-2 1.2-4 9.1-16 1.7-6 .8-6zM960 1877.8l10-1.1 6 0 10 1.1 8.6 2.2 16 8 10.7 10 .7 1.4 4.6 4.6 1.4 2.7 6 1.3 4 2.9 2 2.3 2.7 6.8 2 12 -131.3 0 .3-12 1.7-4 .3-4 1.7-2 .3-2 1.7-2 .6-2.6 4-4 .7-1.4 10.7-10 16-8 8-2zM808 1893.8l14-.1 8 .6 8 1.8 8 3.3 5.9 4.6 16.1 17.7 11.8 10.3 -73.8 0 0-38.2z" fill="#14b0e6"/>
<path d="M1196 1754l134 0 0 60.6 -28-3 -22-1 -28-6.2 -6-.1 -16 1.3 -24 1.1 -6-.6 -6-2 -6-4.1 -3.6-4 -2.1-4 -.5-4 1.9-6 6-8 2.1-4 2.4-8 1.2-8zM958 1879.5l8-1.3 4-.1 10 .1 8 1.3 6 1.7 16 8 3.5 2.8 6.5 6.5 2 4 2 2 3 5.5 .5 2 2.5 2.3 4 1.9 1.7 1.8 2.3 5.9 1.3 8.1 -124.1 0 0-8 1-2 1-8 4.8-9.5 2-2 2-4 6.5-6.5 3.5-2.8 16-8 4.5-1.2zM808 1899l14-.4 8 .5 8 1.7 6 2.5 6 4.6 14 15.4 9.2 8.7 -67.2 0 0-33z" fill="#10b9df"/>
<path d="M1204 1754l126 0 0 58.7 -28-2.8 -22-1 -8-1.5 -14-3.8 -6-.9 -46 1.8 -6-.6 -4-1.5 -3.4-2.4 -3.2-4 -1.4-4 .1-4 1.6-4 5.9-8 3.2-6 2.9-8 1.6-8zM962 1879.9l8-1 6 0 12 1.6 8 2.7 14 7.6 9.2 9.2 6 10 .3 2 2.9 8 .1 2 1 2 1 8 -113.7 0 0-8 1-2 1-6 1.2-2.4 .8-3.6 6-10 9.2-9.2 6-3.6 8-4 8-2.7 3.6-.5zM820 1904l12 .7 6 1.6 4 1.8 7.5 5.9 17.1 18 -60.6 0 0-27.5 13.1-.5z" fill="#10bed5"/>
<path d="M1212 1754l118 0 0 56.9 -26-2.5 -24-1.2 -8-1.5 -14-3.9 -6-.9 -46 1 -4-.2 -4-1.4 -2.6-2.3 -2-4 -.3-2 .6-4 2.1-4 7.1-10 3.3-6 2.4-6 1.9-8zM970 1879.7l6 0 8 1 8 2 11.6 5.3 6.4 4.2 8 8.2 5.8 9.6 3.3 10 .7 6 -.2 6 -109.2 0 -.2-6 .7-6 3.3-10 3.4-6 4.6-6 5.8-5.8 6.4-4.2 7.6-3.8 12-3.5 6.8-.7zM814 1910l14 .2 6 1.1 4 1.5 8 5.3 13.9 13.9 -53.9 0 0-21.7 7.5-.3z" fill="#10c3cb"/>
<path d="M1218 1754l112 0 0 55 -26-2.3 -24-1.2 -7.6-1.5 -14.4-4 -6-.9 -18 .2 -16-1 -12 0 -4-.6 -2.2-1.7 -.9-2 .2-4 1.8-4 8.5-12 3.6-6 2.3-6 2-8zM960 1882l10-1.6 6 0 8 1.1 12 3.5 6.1 3 7.9 5.3 8 8.6 4.7 8.1 3.3 10 .1 4 .6 2 0 4 -.6 2 -106.2 0 -.6-2 0-4 .6-2 .1-4 3.3-10 4.7-8.1 8-8.6 7.9-5.3 6.1-3 9.9-3zM808 1916.3l16 .1 10 2.1 8 4.3 10.4 9.2 -46.4 0 0-15.6z" fill="#10c8c1"/>
<path d="M1224 1754l106 0 0 53.2 -28-2.4 -22-1 -6-1.2 -18-5 -6-.6 -12 .3 -6-.5 -15.4-2.8 -6.3-2 -1.6-2 .6-4 9.5-16 3-8 2.1-8zM964 1881.8l6-.8 6 0 12 2 8 2.7 4.5 2.3 9 6 4.5 4.5 4 5 3.7 6.5 2.6 8 1.4 8 0 4 -.7 2 -104 0 -.7-2 0-4 1.4-8 2.6-8 3.4-6 4.3-5.5 4.5-4.5 9-6 8.5-3.8 9-2.2zM808 1923l12 .2 8 1.2 8 3.1 6.9 4.5 -36.9 0 0-9z" fill="#10cbaf"/>
<path d="M1230 1755.8l.5-1.8 99.5 0 0 51.3 -28-2.3 -22-1 -6-1.2 -18-5.3 -6-.6 -12 .1 -5.9-1 -5.9-2 -3.7-2 -2.2-2 -.9-2 -.2-2 1-4 5.6-12 4.2-12zM970 1881.6l10 .4 8 1.6 6.9 2.4 5.1 2.5 8 5.5 6 6 6.6 10 2.7 8 1.3 8 0 4 -.6 2 -102 0 -.6-2 0-4 1.3-8 2.7-8 6.6-10 6-6 4-3 9.1-5 6.9-2.4 10.1-1.6zM808 1930.2l10 .5 7.3 1.3 -19.3 0 0-1.8z" fill="#10ce9c"/>
<path d="M1238 1754l92 0 0 49.3 -28-2.1 -22-.9 -6-1.4 -18-5.8 -6-.7 -10 .3 -4-.8 -4.4-1.9 -2.6-2 -1.5-2 -.7-2 .1-4 1.3-4 6.6-14 2.5-8zM960 1883.8l10-1.5 6 0 6 .7 6 1.3 6 2 10.2 5.7 8.7 8 7.1 11.2 2.2 6.8 .7 4 .5 4 -.5 6 -99.8 0 -.5-6 1.2-8 2.8-8 6.5-10 4.9-4.9 8-5.8 6-3 7.2-2.3z" fill="#10ce89"/>
<path d="M1246 1754l84 0 0 47.3 -10-.3 -18-1.7 -22-.9 -6-1.5 -18-6.6 -6-.9 -10 0 -3.1-1.4 -2.1-2 -1-2 -.2-4 1.4-4 6.7-12 2.8-10zM964 1883.7l10-.8 9.6 1.1 10.4 3.1 5.8 2.9 4.2 2.8 8 7.4 5.2 7.8 2 4 2.7 10 0 10 -97.8 0 0-10 1.4-6 3.3-8 5.2-7.8 8-7.4 4.2-2.8 5.8-2.9 10.4-3.1z" fill="#10c975"/>
<path d="M1252 1754l78 0 0 45.3 -4 0 -24-2.1 -22-.7 -6-1.7 -16-7.5 -12-4.1 -1.9-1.2 -.5-2 .5-2 5-10 2.6-14zM968 1883.9l4-.4 6 .4 12 2.5 8.2 3.6 5.8 3.8 8 8 6.2 10.2 2.6 10 0 10 -95.6 0 0-10 1.3-4 0-2 3.3-8 4.2-6.2 8-8 5.8-3.8 8.2-3.6 11.5-2.4z" fill="#10c461"/>
<path d="M1260 1754l70 0 0 43.1 -6 .2 -22-2.4 -22-.5 -6.8-2.4 -6.9-4 -7.9-6 -2.6-4 -.3-4 3.2-20zM962 1885.7l10-1.5 10 1 8 2 6 2.5 8 5.2 8 8.4 6 11.3 1.7 7.4 .1 10 -93.6 0 .1-10 1.2-4 0-2 6.5-12.7 8-8.4 7.3-4.9 6.7-2.8 4.6-1.2z" fill="#10bf4f"/>
<path d="M1266 1754l64 0 0 40.8 -6 .3 -6-.3 -18-2.5 -18 0 -4-.9 -6.1-3.4 -6.3-6 -1.4-2 -1.4-4 0-6 3.2-16zM964 1885.9l4-.7 6-.3 4 .3 8 1.6 10 3.8 8 5.3 4.1 4.1 6.7 10 2.3 6 1 4 .7 4 0 8 -91.6 0 0-8 1.7-8 2.3-6 6.7-10 4.1-4.1 8-5.3 6-2.7 7.8-1.9z" fill="#10b949"/>
<path d="M1274 1754l56 0 0 38.4 -8 .3 -22-3.4 -18 0 -4-1.3 -2.7-2 -2-2 -2.6-4 -1.3-6 .6-4.7 4-15.3zM968 1885.8l10 0 8 1.6 10 4.2 6.6 4.4 5.4 5.4 5.7 8.6 3.3 10 .7 4 0 8 -89.4 0 0-8 .7-4 3.3-10 5.7-8.6 5.4-5.4 6.6-4.4 10-4.2 6.9-1.4z" fill="#10b242"/>
<path d="M1284 1754l46 0 0 35.6 -8 .5 -4-.5 -18-4.3 -16-.6 -2-.5 -2-1.5 -1.9-2.7 -.6-2 0-4 4.2-12 1.7-8zM962 1887.6l6-1.2 10 0 8 1.6 10 4.5 6 4.2 5.3 5.3 5.4 8 3.3 10 .7 4 0 8 -87.4 0 0-8 .7-4 3.3-10 5.4-8 5.3-5.3 6-4.2 10-4.5z" fill="#1db23b"/>
<path d="M1296 1754l34 0 0 32.3 -6 .4 -5.8-.7 -5.6-2 -13.2-6 -3.9-2 -1.5-1.6 -.8-2.4 2.3-10 -.5-8zM964 1887.8l4-.8 10 0 8 1.8 10 4.5 6 4.4 4.3 4.3 5.3 8 3.4 10 .6 4 0 8 -85.2 0 0-8 .6-4 3.4-10 5.3-8 4.3-4.3 6-4.4 6.6-3.3 6.5-2z" fill="#31b434"/>
<path d="M1308 1754l22 0 0 28.3 -2 .1 -4-.2 -4-1 -4-2.2 -3.1-3 -1.7-4 -.9-10 -4-8zM968 1887.6l10 0 10 2.5 7.9 3.9 6.1 4.8 4 4.3 4.6 6.9 3.8 12 .2 10 -83.2 0 0-8 .6-3.8 3.4-10.2 4.6-6.9 4-4.3 6.1-4.8 7.9-3.9 8.2-2.1z" fill="#45b72c"/>
<path d="M1314 1754l16 0 0 23.2 -6-1.7 -3.9-3.5 -1.9-4 -4.4-14zM962 1889.8l6-1.5 12 .4 8 2.1 10 5.7 4.2 3.5 7.3 10 4 12 0 10 -81 0 0-10 4-12 4-6 3.3-4 4.2-3.5 10-5.7 3.4-.8z" fill="#5cba27"/>
<path d="M1320 1754l10 0 0 16.1 -3.3-2.1 -2.7-3.2 -2-4.2 -2-6.6zM964 1889.7l6-.8 6 0 6 .8 6 1.9 4.8 2.4 5.2 3.5 6.5 6.5 4 6 2.4 6 1.6 6 0 10 -79 0 0-10 1.6-6 2.4-6 4-6 6.5-6.5 5.2-3.5 4.8-2.4 5.2-1.6z" fill="#78bf24"/>
<path d="M1328 1754l2 0 0 5.7 -3-5.7zM966 1889.9l10-.4 6 .9 6 2 4 2 6 4.1 5.5 5.5 4 6 2.6 6 0 2 1.4 4 0 10 -77 0 0-10 1.4-4 0-2 2.6-6 4-6 5.5-5.5 6-4.1 4-2 7.6-2.4z" fill="#93c422"/>
<path d="M962 1891.8l8-1.6 10 .5 8 2.5 4 2 6 4.4 4.4 4.4 4 6 2.7 6 1.3 6 .4 6 -.4 4 -74.8 0 -.4-4 .4-6 1.3-6 2.7-6 4-6 4.4-4.4 6-4.4 7.4-3.2z" fill="#adc91e"/>
<path d="M964 1892l10-1.2 10 1.7 8 3.5 6 4.6 4 4.3 5.4 9.1 2 8 .6 6 -.6 4 -72.8 0 -.6-4 2-12 2.6-6 3.4-5.1 4-4.3 6-4.6 4-2 5.9-2z" fill="#c0cc18"/>
<path d="M968 1891.8l4-.4 6 .4 8 2 4.5 2.2 7.5 5.7 3.7 4.3 4.6 8 1.4 4 1.3 10 -.7 4 -70.6 0 -.7-4 1.3-10 3.4-8 2.6-4 3.7-4.3 7.5-5.7 4.5-2.2 7-1.8z" fill="#d2cf12"/>
<path d="M964 1893.5l4-1.1 4-.4 6 .4 8 2.1 8 4.9 6.6 6.6 4.7 8 1.3 4 1.4 8 -.5 6 -69 0 -.5-6 1.4-8 3.3-8 2.7-4 6.6-6.6 5.1-3.4 5-2z" fill="#dfd00c"/>
<path d="M966 1893.4l6-.6 8 .6 6 1.9 8 5.1 5.6 5.6 4.6 8 2 6 .7 6 -.2 6 -67.4 0 -.2-6 .7-6 2-6 2-4 2.6-4 5.6-5.6 6-4.1 6.6-2.3z" fill="#e9d007"/>
<path d="M968 1893.7l10 0 8 2.4 8 5.4 4.5 4.5 4.7 8 2 6 .6 4 0 8 -65.6 0 0-8 .6-4 2-6 4.7-8 4.5-4.5 6-4.4 8.4-3.1z" fill="#f3d002"/>
<path d="M964 1895.9l4-1.4 10 0 10 3.4 5.2 4.1 4 4 1 2 2 2 2 4 0 2 2 4 0 6 .6 2 -.6 4 -62.4 0 -.6-4 .6-2 0-6 2-4 0-2 2-4 2-2 1-2 4-4 5.2-4.1 5.5-1.9z" fill="#f8c800"/>
<path d="M968 1895.5l10 0 7.4 2.5 6.6 4.3 3.7 3.7 1 2 2 2 2 4 0 2 2 4 0 4 1 4 -1 4 -59.4 0 -1-4 1-4 0-4 2-4 0-2 2-4 2-2 1-2 3.7-3.7 2-1 2-2 8.6-3.3z" fill="#f8b900"/>
<path d="M964 1897.9l6-1.3 6 0 4 .6 8 3.7 2 2 2 1 2.1 2.1 1.9 3.8 2 2 1.1 2.2 0 2 2 4 0 4 1 2 0 2 0 2 -1 2 -56.2 0 -1-2 0-4 1-2 0-4 2-4 0-2 1.1-2.2 2-2 1.9-3.8 2.1-2.1 2-1 2-2 5.8-2.9z" fill="#f8aa00"/>
<path d="M970 1897.6l6 0 4 .8 8 4 5.6 5.6 1 2 2 2 1 2 0 2 2 4 .1 4 .9 2 0 4 -.9 2 -53.4 0 -.9-2 0-4 .9-2 .1-4 2-4 0-2 1-2 2-2 1-2 5.6-5.6 8-4 2.9-.4z" fill="#f79902"/>
<path d="M968 1899.3l6-.6 4 .6 6 2 4 2.7 4 4 1 2 2 2 1 2 0 2 2 4 1 6 -.3 6 -51.4 0 -.3-6 1-6 2-4 0-2 1-2 2-2 1-2 4-4 4-2.7 4-1.3z" fill="#f48308"/>
<path d="M972 1899.7l6 .7 4.9 1.6 5.1 3.6 2.4 2.4 1.6 3.1 2 2 .4 2.9 2 4 0 2 1 2 0 8 -48.8 0 0-8 1-2 0-2 2-4 0-2 2.4-2.9 1.6-3.1 6.4-5.4 6-2.2 3.1-.4z" fill="#f16d0f"/>
<path d="M968 1901.4l6-.3 5.8 .9 4.2 2.1 5.9 5.9 1 2 2 2 0 2 2 4 0 2 1 2 0 8 -45.8 0 0-8 1-2 0-2 2-4 0-2 2-2 1-2 5.9-5.9 4.2-2.1z" fill="#eb5712"/>
<path d="M966 1903.7l2-1 8-.2 2 .2 6 3 4.3 4.3 1 2 2 2 .2 2 1.8 4 0 2 1 2 0 8 -42.6 0 0-8 1-2 0-2 1.3-2.6 .7-3.4 2-2 1-2 4.3-4.3 3.4-1.7z" fill="#e54116"/>
<path d="M970 1903.5l6 0 1.5 .5 6.5 3.2 2.8 2.8 .7 2 2.5 2.5 1.5 5.5 0 2 1.3 2 0 8 -39.6 0 0-8 1.3-2 0-2 1.5-5.5 2.5-2.5 .7-2 2.8-2.8 6.5-3.2z" fill="#df2d19"/>
<path d="M968 1907.6l10 0 8.4 8.4 0 2 2 2 0 12 -30.8 0 0-12 2-2 0-2 8-8z" fill="#d82120"/>
<path d="M970 1914.8l6 0 5.2 5.2 0 2 2 2 0 8 -20.4 0 0-8 2-2 0-2 4-4z" fill="#d8242c"/>
<path d="M972 1921.9l2 0 2.1 2.1 0 2 2 2 -2 2 0 2 -6.2 0 0-2 -2-2 2-2 0-2 2-2z" fill="#d82939"/>
</g></g>
<circle cx="843.0" cy="1787.5" r="1.0" fill="#333"/><circle cx="909.5" cy="1784.0" r="1.0" fill="#333"/><circle cx="975.5" cy="1785.0" r="1.0" fill="#333"/><circle cx="1043.0" cy="1806.0" r="1.0" fill="#333"/><circle cx="1108.5" cy="1825.0" r="1.0" fill="#333"/><circle cx="1174.5" cy="1805.0" r="1.0" fill="#333"/><circle cx="1241.0" cy="1798.5" r="1.0" fill="#333"/><circle cx="1293.0" cy="1786.0" r="1.0" fill="#333"/><circle cx="843.0" cy="1839.0" r="1.0" fill="#333"/><circle cx="909.5" cy="1836.5" r="1.0" fill="#333"/><circle cx="975.5" cy="1838.0" r="1.0" fill="#333"/><circle cx="1045.5" cy="1845.0" r="1.0" fill="#333"/><circle cx="1109.5" cy="1847.5" r="1.0" fill="#333"/><circle cx="1242.0" cy="1839.0" r="1.0" fill="#333"/><circle cx="975.5" cy="1871.5" r="1.0" fill="#333"/><circle cx="843.0" cy="1890.0" r="1.0" fill="#333"/><circle cx="909.5" cy="1891.5" r="1.0" fill="#333"/><circle cx="975.5" cy="1905.0" r="1.0" fill="#333"/><circle cx="1039.5" cy="1908.5" r="1.0" fill="#333"/><circle cx="1177.0" cy="1879.0" r="1.0" fill="#333"/>
<polygon points="808.5,2030.0 808.5,1978.6 814.0,1972.0 820.9,1970.0 834.1,1971.0 838.0,1976.0 843.6,1982.4 856.9,1988.0 866.4,1993.8 864.5,1999.5 872.0,2005.1 879.6,2003.2 885.0,2009.0 890.0,2014.6 894.0,2009.0 898.6,2003.2 904.3,1993.8 908.1,1978.6 917.6,1974.8 925.1,1965.3 932.7,1961.5 942.2,1957.7 947.9,1954.0 961.2,1950.2 970.6,1943.5 985.8,1940.7 993.4,1936.9 993.4,1930.2 1001.0,1928.9 1008.6,1934.0 1018.0,1936.9 1027.5,1931.2 1033.2,1928.9 1026.0,1922.0 1021.8,1919.8 1020.0,1911.3 1027.5,1914.1 1032.0,1916.0 1038.0,1912.0 1042.0,1908.0 1044.2,1904.0 1046.0,1900.0 1052.0,1896.0 1061.0,1891.6 1071.6,1887.4 1086.3,1884.9 1103.2,1885.3 1115.8,1889.5 1124.3,1897.9 1132.7,1902.1 1138.0,1908.5 1130.6,1912.7 1136.9,1920.0 1149.5,1922.1 1158.0,1923.2 1162.2,1929.5 1166.4,1929.5 1176.9,1932.7 1187.5,1933.7 1208.5,1939.0 1219.1,1934.8 1229.6,1937.9 1240.1,1940.0 1250.7,1941.1 1271.7,1944.3 1292.8,1946.4 1299.1,1942.2 1303.3,1945.3 1305.4,1956.9 1311.8,1969.5 1313.9,1972.7 1320.2,1970.6 1328.0,1969.5 1328.0,2030.0" fill="#6d6d6d"/>
<rect x="808.4" y="1661.6" width="519.8" height="368.2" fill="none" stroke="#dedede" stroke-width="2.6"/>
<line x1="843.3" y1="1661.6" x2="909.6" y2="1661.6" stroke="#000" stroke-width="3.2"/>
<line x1="975.9" y1="1661.6" x2="1042.0" y2="1661.6" stroke="#000" stroke-width="3.2"/>
<line x1="1108.4" y1="1661.6" x2="1174.2" y2="1661.6" stroke="#000" stroke-width="3.2"/>
<line x1="1240.7" y1="1661.6" x2="1307.3" y2="1661.6" stroke="#000" stroke-width="3.2"/>
<line x1="843.6" y1="2029.8" x2="909.0" y2="2029.8" stroke="#000" stroke-width="3.2"/>
<line x1="976.3" y1="2029.8" x2="1041.7" y2="2029.8" stroke="#000" stroke-width="3.2"/>
<line x1="1108.5" y1="2029.8" x2="1173.8" y2="2029.8" stroke="#000" stroke-width="3.2"/>
<line x1="1241.2" y1="2029.8" x2="1306.5" y2="2029.8" stroke="#000" stroke-width="3.2"/>
<line x1="808.4" y1="1662.0" x2="808.4" y2="1671.6" stroke="#000" stroke-width="3.2"/>
<line x1="808.4" y1="1702.0" x2="808.4" y2="1732.7" stroke="#000" stroke-width="3.2"/>
<line x1="808.4" y1="1764.3" x2="808.4" y2="1794.8" stroke="#000" stroke-width="3.2"/>
<line x1="808.4" y1="1826.4" x2="808.4" y2="1857.0" stroke="#000" stroke-width="3.2"/>
<line x1="808.4" y1="1888.5" x2="808.4" y2="1919.6" stroke="#000" stroke-width="3.2"/>
<line x1="808.4" y1="1950.6" x2="808.4" y2="1981.7" stroke="#000" stroke-width="3.2"/>
<line x1="808.4" y1="2012.8" x2="808.4" y2="2030.0" stroke="#000" stroke-width="3.2"/>
<line x1="1328.2" y1="1662.0" x2="1328.2" y2="1671.2" stroke="#000" stroke-width="3.2"/>
<line x1="1328.2" y1="1703.2" x2="1328.2" y2="1732.7" stroke="#000" stroke-width="3.2"/>
<line x1="1328.2" y1="1764.7" x2="1328.2" y2="1795.0" stroke="#000" stroke-width="3.2"/>
<line x1="1328.2" y1="1826.2" x2="1328.2" y2="1857.4" stroke="#000" stroke-width="3.2"/>
<line x1="1328.2" y1="1888.4" x2="1328.2" y2="1919.0" stroke="#000" stroke-width="3.2"/>
<line x1="1328.2" y1="1950.6" x2="1328.2" y2="1980.0" stroke="#000" stroke-width="3.2"/>
<line x1="1328.2" y1="2013.8" x2="1328.2" y2="2028.5" stroke="#000" stroke-width="3.2"/>
<text x="803.2" y="1702.1" font-size="11" text-anchor="end" dominant-baseline="central" fill="#111" font-weight="bold" font-style="italic" >60°S</text>
<text x="803.2" y="1764.3" font-size="11" text-anchor="end" dominant-baseline="central" fill="#111" font-weight="bold" font-style="italic" >62°S</text>
<text x="803.2" y="1826.4" font-size="11" text-anchor="end" dominant-baseline="central" fill="#111" font-weight="bold" font-style="italic" >64°S</text>
<text x="803.2" y="1888.5" font-size="11" text-anchor="end" dominant-baseline="central" fill="#111" font-weight="bold" font-style="italic" >66°S</text>
<text x="803.2" y="1950.6" font-size="11" text-anchor="end" dominant-baseline="central" fill="#111" font-weight="bold" font-style="italic" >68°S</text>
<text x="803.2" y="2012.8" font-size="11" text-anchor="end" dominant-baseline="central" fill="#111" font-weight="bold" font-style="italic" >70°S</text>
<text x="909.5" y="2042.0" font-size="11" text-anchor="middle" dominant-baseline="central" fill="#111" font-weight="bold" font-style="italic" >40°E</text>
<text x="1042.0" y="2042.0" font-size="11" text-anchor="middle" dominant-baseline="central" fill="#111" font-weight="bold" font-style="italic" >50°E</text>
<text x="1174.5" y="2042.0" font-size="11" text-anchor="middle" dominant-baseline="central" fill="#111" font-weight="bold" font-style="italic" >60°E</text>
<text x="1307.0" y="2042.0" font-size="11" text-anchor="middle" dominant-baseline="central" fill="#111" font-weight="bold" font-style="italic" >70°E</text>
<text x="1061.5" y="1645.5" font-size="14.8" text-anchor="middle" dominant-baseline="central" fill="#222" font-weight="bold" font-style="italic" textLength="139" lengthAdjust="spacingAndGlyphs" >Chl-a concentration</text>
<text x="1219.5" y="1641.5" font-size="15.5" text-anchor="middle" dominant-baseline="central" fill="#222" font-weight="bold" textLength="150" lengthAdjust="spacingAndGlyphs" >In the Indian sector</text>
<text x="1333.9" y="1989.5" font-size="5.2" text-anchor="middle" dominant-baseline="central" fill="#333" font-weight="bold" font-style="italic" transform="rotate(-90 1333.9 1989.5)" textLength="76" lengthAdjust="spacingAndGlyphs" >Ocean Data View / DIVA</text>
<defs><linearGradient id="Hcbg" gradientUnits="userSpaceOnUse" x1="0" y1="1663.6" x2="0" y2="2034.5"><stop offset="0.000" stop-color="#f8b882"/><stop offset="0.055" stop-color="#e88890"/><stop offset="0.100" stop-color="#e04868"/><stop offset="0.130" stop-color="#d82838"/><stop offset="0.160" stop-color="#d82020"/><stop offset="0.180" stop-color="#e03018"/><stop offset="0.220" stop-color="#f06810"/><stop offset="0.260" stop-color="#f8a000"/><stop offset="0.310" stop-color="#f8d000"/><stop offset="0.360" stop-color="#d8d010"/><stop offset="0.400" stop-color="#a8c820"/><stop offset="0.450" stop-color="#50b828"/><stop offset="0.500" stop-color="#10b040"/><stop offset="0.540" stop-color="#10c050"/><stop offset="0.590" stop-color="#10d090"/><stop offset="0.630" stop-color="#10c8c0"/><stop offset="0.680" stop-color="#10b8e0"/><stop offset="0.740" stop-color="#2098f8"/><stop offset="0.810" stop-color="#5060ff"/><stop offset="0.900" stop-color="#7838ff"/><stop offset="0.950" stop-color="#9048ff"/><stop offset="1.000" stop-color="#d46cf4"/></linearGradient></defs>
<polygon points="1339.4,1663.6 1347.3,1657.7 1355.3,1663.6 1355.3,2034.5 1347.3,2041.5 1339.4,2034.5" fill="url(#Hcbg)"/>
<line x1="1339.4" y1="1662.6" x2="1341.4" y2="1662.6" stroke="#333" stroke-width="0.8"/>
<line x1="1353.3" y1="1662.6" x2="1355.3" y2="1662.6" stroke="#333" stroke-width="0.8"/>
<text x="1358.7" y="1662.6" font-size="10.5" text-anchor="start" dominant-baseline="central" fill="#222" font-weight="bold" font-style="italic" >2</text>
<line x1="1339.4" y1="1754.6" x2="1341.4" y2="1754.6" stroke="#333" stroke-width="0.8"/>
<line x1="1353.3" y1="1754.6" x2="1355.3" y2="1754.6" stroke="#333" stroke-width="0.8"/>
<text x="1358.7" y="1754.6" font-size="10.5" text-anchor="start" dominant-baseline="central" fill="#222" font-weight="bold" font-style="italic" >1.5</text>
<line x1="1339.4" y1="1846.0" x2="1341.4" y2="1846.0" stroke="#333" stroke-width="0.8"/>
<line x1="1353.3" y1="1846.0" x2="1355.3" y2="1846.0" stroke="#333" stroke-width="0.8"/>
<text x="1358.7" y="1846.0" font-size="10.5" text-anchor="start" dominant-baseline="central" fill="#222" font-weight="bold" font-style="italic" >1</text>
<line x1="1339.4" y1="1937.6" x2="1341.4" y2="1937.6" stroke="#333" stroke-width="0.8"/>
<line x1="1353.3" y1="1937.6" x2="1355.3" y2="1937.6" stroke="#333" stroke-width="0.8"/>
<text x="1358.7" y="1937.6" font-size="10.5" text-anchor="start" dominant-baseline="central" fill="#222" font-weight="bold" font-style="italic" >0.5</text>
<line x1="1339.4" y1="2028.7" x2="1341.4" y2="2028.7" stroke="#333" stroke-width="0.8"/>
<line x1="1353.3" y1="2028.7" x2="1355.3" y2="2028.7" stroke="#333" stroke-width="0.8"/>
<text x="1358.7" y="2028.7" font-size="10.5" text-anchor="start" dominant-baseline="central" fill="#222" font-weight="bold" font-style="italic" >0</text>
<text x="1406.2" y="1853.4" font-size="16" text-anchor="middle" dominant-baseline="central" fill="#111" font-weight="bold" transform="rotate(-90 1406.2 1853.4)" textLength="227.6" lengthAdjust="spacingAndGlyphs" >Chl-a concentration (mg.m-3)</text>
</g>
<text x="0" y="24.4" font-size="29.5" font-weight="bold" fill="#000">A</text><text x="757.2" y="24.0" font-size="29.5" font-weight="bold" fill="#000">B</text><text x="0" y="542.5" font-size="29.5" font-weight="bold" fill="#000">C</text><text x="757.2" y="542.7" font-size="29.5" font-weight="bold" fill="#000">D</text><text x="0" y="1051.4" font-size="29.5" font-weight="bold" fill="#000">E</text><text x="757.2" y="1051.4" font-size="29.5" font-weight="bold" fill="#000">F</text><text x="0" y="1625.6" font-size="29.5" font-weight="bold" fill="#000">G</text><text x="757.2" y="1625.8" font-size="29.5" font-weight="bold" fill="#000">H</text>
</svg></body></html>
